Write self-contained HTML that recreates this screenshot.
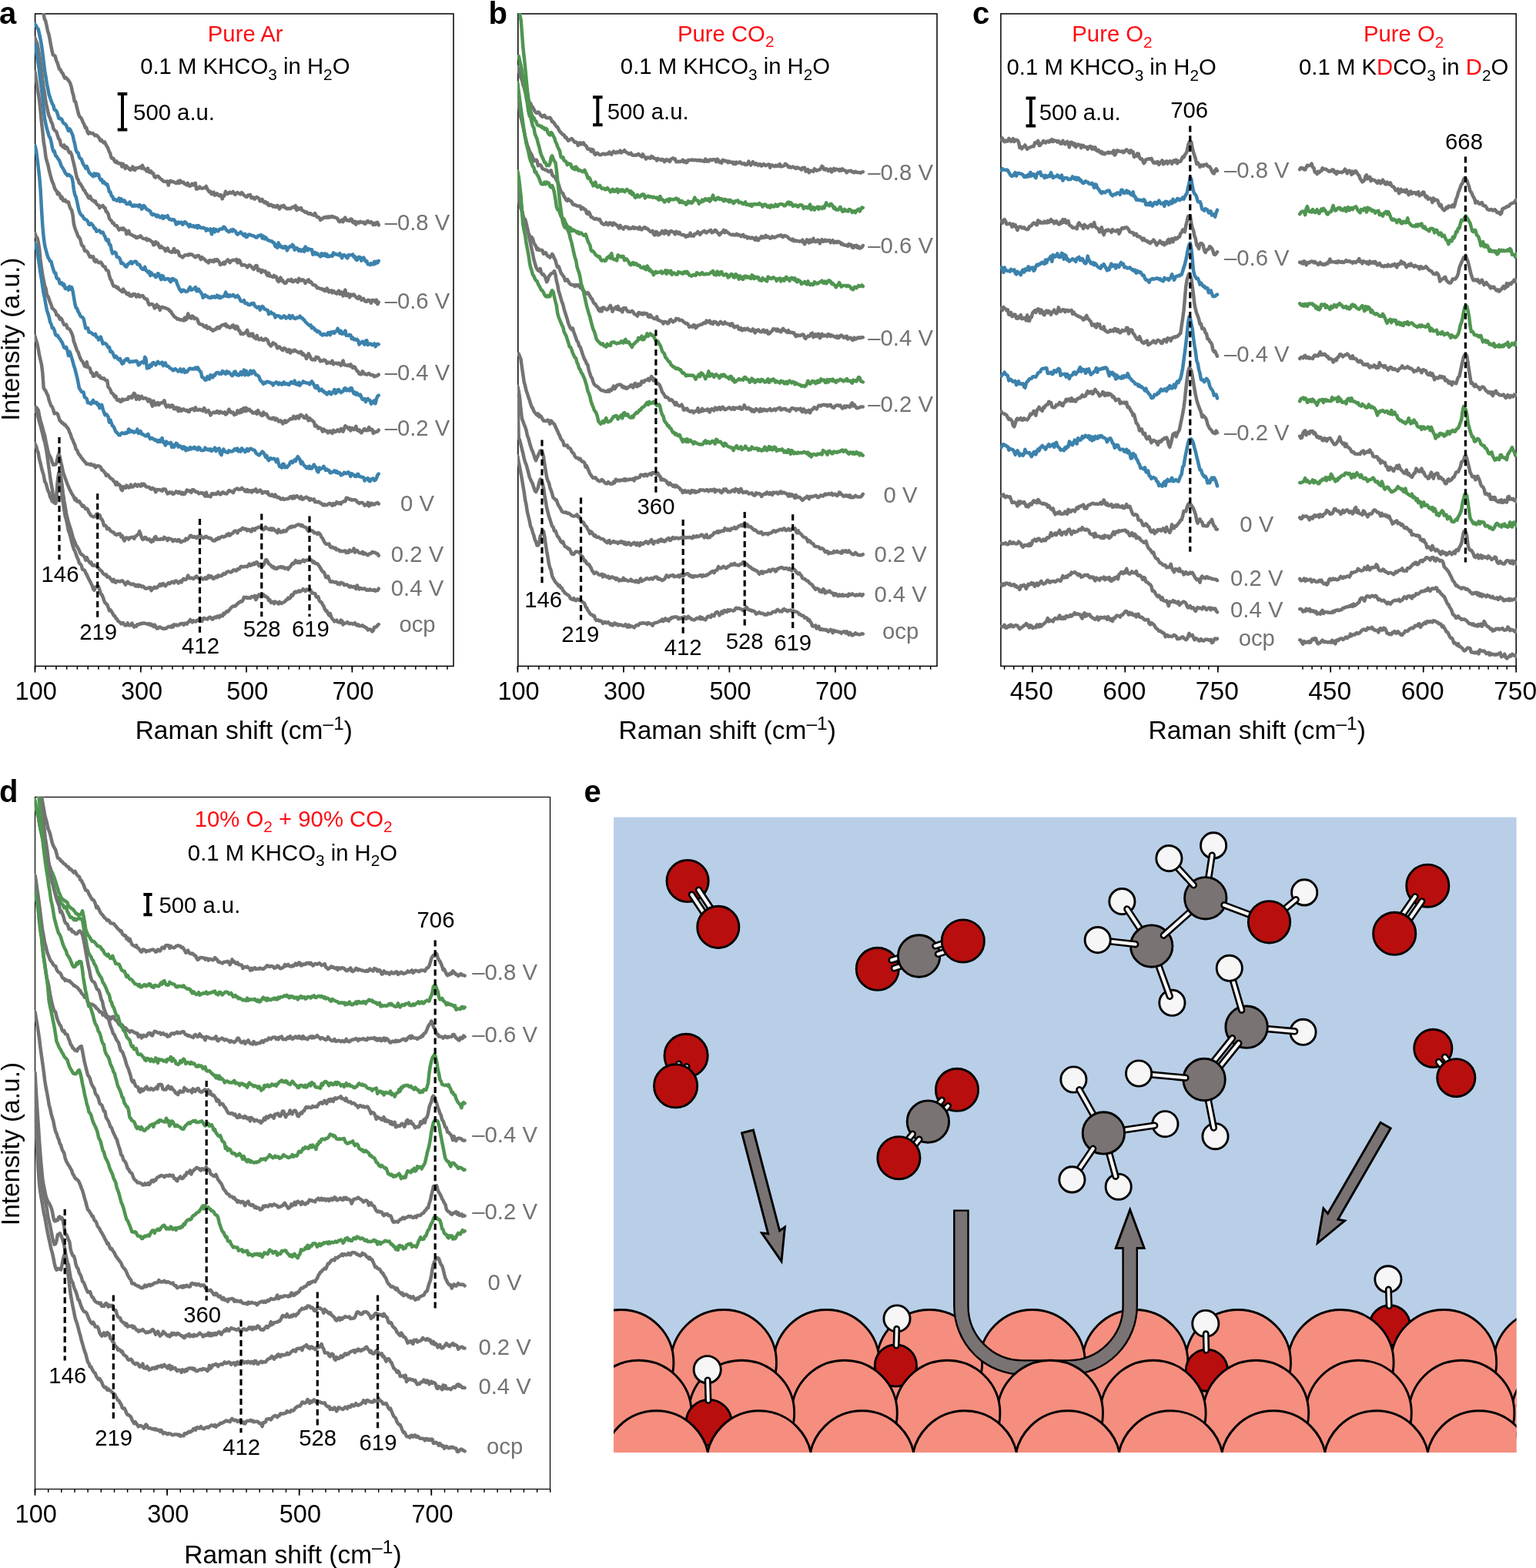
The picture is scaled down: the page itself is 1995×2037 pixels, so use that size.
<!DOCTYPE html>
<html lang="en">
<head>
<meta charset="utf-8">
<title>In situ Raman spectra</title>
<style>
html,body{margin:0;padding:0;background:#fff;}
body{width:1995px;height:2037px;overflow:hidden;}
svg{display:block;font-family:"Liberation Sans", "DejaVu Sans", sans-serif;}
</style>
</head>
<body>
<svg width="1995" height="2037" viewBox="0 0 1995 2037">
<rect width="1995" height="2037" fill="#fff"/>
<rect x="45.6" y="17.9" width="543.4" height="847.5" fill="none" stroke="#000" stroke-width="1.5"/>
<clipPath id="ca"><rect x="44.9" y="17.1" width="544.9" height="849"/></clipPath>
<g clip-path="url(#ca)" fill="none" stroke-width="4.5" stroke-linejoin="round" stroke-linecap="round">
<path d="M53.4 0.4l1.4 8.4l1.4 5.6l1.4 9.5l1.4 2.9l1.4 5.4l1.4 7.5l1.4 4l1.4 6.7l1.4 8l1.4 6.8l1.4 6.2l1.4 0.5l1.4 1l1.4 5.5l1.4 2.9l1.4 4.2l1.4 4.6l1.4 0.4l1.4 3.3l1.4 1.3l1.4 3.5l1.4 2.8l1.4-0.7l1.4 1.7l1.4 1.5l1.4 1.8l1.4 2.4l1.4 4.3l1.4 6.9l1.4 4.7l1.4 7.5l1.4 0.8l1.4 6.1l1.4 5.7l1.4 5.2l1.4 2.8l1.4 0.8l1.4 3l1.4 3.5l1.4 2.3l1.4 4.3l1.4-0.3l1.4 5.6l1.4 2.4l1.4-1.8l1.4 1.2l1.4 0.3l1.4-0.4l1.4 1.5l1.4 1.7l1.4-0.8l1.4 0.8l1.4 1.5l1.4 2l1.4 3.1l1.4-0.9l1.4 2.1l1.4 1.5l1.4-1l1.4 2.9l1.4 2.8l1.4 2.3l1.4 3.8l1.4 2.5l1.4 5.7l1.4 1.6l1.4-0.4l1.4 3.3l1.4 1.7l1.4-1.2l1.4 2.5l1.4-0.3l1.4 1l1.4-0.3l1.4 4l1.4-3.5l1.4 3l1.4 3l1.4-3.5l1.4 1.9l1.4 0.8l1.4 2l1.4 0.8l1.4-2.2l1.4-2.2l1.4 4l1.4 0.5l1.4-2.7l1.4 0.3l1.4-0.5l1.4-0.7l1.4-0.6l1.4 1.8l1.4-3.7l1.4 3.6l1.4 1.3l1.4 0l1.4 2.5l1.4-3.8l1.4 4.8l1.4 0.7l1.4-1.6l1.4 2.6l1.4-0.1l1.5 4.8l1.4 0.9l1.4-1.4l1.4-0.5l1.4 0.8l1.4 1.9l1.4 1.2l1.4 1.1l1.4 1.3l1.4 0.7l1.4 0l1.4 0.2l1.4-0.4l1.4 5.1l1.4-4.9l1.4-0.9l1.4 1.5l1.4-0.6l1.4 0.6l1.4 1l1.4 0.6l1.4 0l1.4-2.5l1.4 2.6l1.4-3.5l1.4 2.1l1.4 0.6l1.4-0.6l1.4 2.3l1.4 0.1l1.4 1.4l1.4-2.5l1.4 3.3l1.4 0.6l1.4-0.9l1.4-2.2l1.4 1.6l1.4-1.1l1.4-1.3l1.4 7.7l1.4-0.8l1.4 0.1l1.4-2.2l1.4 1.4l1.4 0.6l1.4-0.2l1.4-0.4l1.4-0.1l1.4-2.1l1.4 3.4l1.4 2.1l1.4 1.9l1.4-0.5l1.4 3.4l1.4-1.2l1.4-1.4l1.4 4.1l1.4-0.6l1.4-1.8l1.4 1.7l1.4 1.4l1.4-1.1l1.4 0l1.4 5.1l1.4-3.4l1.4-0.7l1.4-5.6l1.4 2.4l1.4 0.9l1.4-1.4l1.4-1l1.4 1.3l1.4-0.5l1.4-1.4l1.4 2.5l1.4 1.3l1.4-1.8l1.4-1l1.4 0.9l1.4 0.8l1.4 0.7l1.4-2.3l1.4 1.3l1.4 2.3l1.4 0.6l1.4 1.5l1.4 0l1.4-2.4l1.4 0.3l1.4-0.6l1.4 4.2l1.4-0.9l1.4 0.1l1.4 2.2l1.4-1.6l1.4-1.1l1.4 0.9l1.4 0.9l1.4 3.5l1.4 0l1.4-2.4l1.4 2.7l1.4 1.5l1.4-1l1.4 2.3l1.4-0.8l1.4 3.3l1.4 0l1.4-1.2l1.4 0.8l1.4 1.8l1.4-1l1.4 1.4l1.4 0.3l1.4-2.1l1.4 0.9l1.4 3.5l1.4-1.9l1.4-1.8l1.4 0.9l1.4-1.6l1.4 2.7l1.4 0.4l1.4 1.3l1.4-0.2l1.4-0.5l1.4 0.7l1.4-0.9l1.4-1.3l1.4-0.4l1.4 1.1l1.4-2.6l1.4 5.9l1.4-3l1.4 1.8l1.4-1l1.4-0.9l1.4 3.3l1.4 0.6l1.4 0.7l1.4 1.2l1.4-0.6l1.4 1.4l1.4 1.2l1.4-0.5l1.4-0.1l1.4 1.6l1.4 0.3l1.4 0.6l1.4-2.7l1.4 2.9l1.4 2.2l1.4-0.1l1.4 0.9l1.4 3l1.4-1.8l1.4 0.3l1.4-1.7l1.4-0.5l1.4 0.5l1.4-1.1l1.4 1.2l1.4-1.4l1.4 1l1.4-1.2l1.4-0.2l1.4 1.3l1.4-0.3l1.4 0.5l1.4 0.7l1.4 1l1.4 3l1.4 1l1.4-0.9l1.4-1.7l1.4 2.6l1.4-3.4l1.4-2.2l1.4 3.2l1.4 0.7l1.4-0.3l1.4 0.7l1.5-2.3l1.4 0.1l1.4 4l1.4 0.9l1.4-1.9l1.4 3.9l1.4-3.2l1.4 0.1l1.4 1.1l1.4-1.7l1.4 0.6l1.4 0.6l1.4-0.5l1.4 2.1l1.4-0.2l1.4-2.7l1.4-0.7l1.4 1.9l1.4 0.2l1.4-1.1l1.4 1.9l1.4 2.1l1.4-2.3l1.4 1.8l1.4-2.5l1.4 0l1.4 3.3" stroke="#737373"/>
<path d="M45.5 31.5l1.4 1.9l1.4 3.2l1.4 1.1l1.4 6.6l1.4 6.1l1.4 8l1.4 10.2l1.4 11.6l1.4 11.4l1.4 8.2l1.4 9.1l1.4 7l1.4 6.9l1.4 4.1l1.4 4.3l1.4 3.5l1.4 2.2l1.4 5.8l1.4 0.4l1.4 1.4l1.4 3.9l1.4 5.3l1.4 0.6l1.4-0.3l1.4 1.6l1.4 3.7l1.4 1.1l1.4 0.8l1.4 1.9l1.4 3.4l1.4 3.5l1.4-2.6l1.4 1.9l1.4 3.5l1.4 3l1.4 6.4l1.4 5.4l1.4 7.5l1.4 2.9l1.4 0.6l1.4 5.4l1.4 1.9l1.4 0.8l1.4 4.1l1.4 3.1l1.4 1.6l1.4 3.2l1.4-2.7l1.4 3.5l1.4 4.1l1.4 1.5l1.4 1.5l1.4 1.2l1.4 1.4l1.4-3.8l1.4 2.8l1.4-2.4l1.4 1.9l1.3-1.1l1.4 4.9l1.4 2.5l1.4-0.6l1.4 4.1l1.4-1.3l1.4 1.8l1.4 1.7l1.4-0.5l1.4 4.3l1.4 5.7l1.4 0.3l1.4 5l1.4 0.7l1.4 4l1.4-0.3l1.4 0.6l1.4 1.2l1.4-0.3l1.4-2.9l1.4 4.3l1.4-3.4l1.4 1.8l1.4 1.6l1.4-1.4l1.4 2.1l1.4 2.4l1.4-0.2l1.4 0.2l1.4-2.5l1.4 3.2l1.4 1.9l1.4 0.5l1.4-1.6l1.4 1.3l1.4-1l1.4 0.2l1.4 1.5l1.4-2.2l1.4 0.8l1.4 4.7l1.4-1.3l1.4-3.3l1.4 1.5l1.4 1.9l1.4 1.9l1.4 0.3l1.4 1l1.4 0.8l1.4 3.3l1.4 1.3l1.4-1.1l1.4 1.2l1.4 0.1l1.4 2.2l1.4-1.9l1.4 1.4l1.4 1.5l1.4 0.1l1.4-2.3l1.4 3.5l1.4-2.8l1.4 1.3l1.4-0.7l1.4-1.4l1.4 3.5l1.4 1.6l1.4-0.6l1.4 1.2l1.4-0.7l1.4 0.3l1.4 1.8l1.4 4.1l1.4-0.7l1.4-2.2l1.4 1.2l1.4-0.8l1.4-0.2l1.4 3l1.4-1.2l1.4-2.2l1.4 0.8l1.4 1.7l1.4 1l1.4 2.8l1.4-2.9l1.4 2.2l1.4 0.4l1.4-1.2l1.4 1.9l1.4 0.1l1.4-2l1.3 3.1l1.4-3l1.4 1.7l1.4 1l1.4 0.3l1.4-0.5l1.4 0.5l1.4 0.8l1.4 2.6l1.4-2.2l1.4 1.4l1.4 0.2l1.4-1.6l1.4 6.9l1.4-3.5l1.4-3.5l1.4 3.9l1.4-3.2l1.4 1.3l1.4 1l1.4-2.1l1.4-0.5l1.4-0.5l1.4 0.2l1.4-2.6l1.4 0.3l1.4 2.3l1.4 2.2l1.4 0.4l1.4 1.4l1.4-1.2l1.4-1.5l1.4 1.7l1.4-2.2l1.4 1.2l1.4 0.9l1.4 2.9l1.4 1.4l1.4-1.4l1.4-0.2l1.4-1.6l1.4 1.7l1.4 1.7l1.4 1.4l1.4-2.3l1.4 4.1l1.4-0.3l1.4-2.4l1.4-0.8l1.4 0.5l1.4 1l1.4 0.1l1.4 0.4l1.4 0.9l1.4 1.1l1.4-0.1l1.4-2.1l1.4 0l1.4-0.7l1.4-0.3l1.4 4.1l1.4-2.6l1.4 3.5l1.4-1.9l1.4 1.5l1.4 2.2l1.4 0l1.4 1.1l1.4 0l1.4 0.3l1.4 1.7l1.4 0.2l1.4 4.7l1.4-1.5l1.4 3.2l1.4-6.4l1.4 2.8l1.4 2.4l1.4-0.6l1.4 2.1l1.4 0l1.4-2.1l1.4 0.6l1.4 4.8l1.4-3.3l1.4-1l1.4-1.4l1.4 0.7l1.4-2.5l1.4 1.6l1.4 5.1l1.3-1.3l1.4-1.3l1.4 1.4l1.4 2.5l1.4-1.7l1.4 2.1l1.4-0.4l1.4-2.1l1.4 3l1.4-6.2l1.4 2.1l1.4 2.5l1.4-2l1.4 0.8l1.4 0.2l1.4 0.1l1.4 6.5l1.4-1.5l1.4-1.3l1.4 2.4l1.4-1.3l1.4 1.9l1.4 0.4l1.4 1.9l1.4-4.1l1.4 2.7l1.4-0.2l1.4-2.3l1.4 3.3l1.4-2.4l1.4 3.2l1.4-0.8l1.4 0.2l1.4-0.9l1.4 0.9l1.4-4.6l1.4 2.1l1.4-0.7l1.4 1.1l1.4 0l1.4 0.7l1.4-2.3l1.4 3.5l1.4 2.5l1.4-3.8l1.4-0.2l1.4 0.8l1.4 2l1.4 1.4l1.4-4.1l1.4 0.1l1.4 0.1l1.4-0.5l1.4-0.5l1.4 3.5l1.4-0.7l1.4 4l1.4 0.5l1.4-3.5l1.4-0.6l1.4 0.8l1.4 4.2l1.4-2.1l1.4-2l1.4 2.4l1.4 2.6l1.4-0.4l1.4 4l1.4 0l1.4 0.9l1.4-2l1.4 1.1l1.4 0.3l1.4-3.6l1.4 2.7l1.4-2.8l1.4 1.6l1.4-2.5" stroke="#3b82ad"/>
<path d="M45.5 49.4l1.4 3.9l1.4 3.4l1.4 7.5l1.4 7.4l1.4 9.3l1.4 11l1.4 12.1l1.4 10.1l1.4 8.2l1.4 10l1.4 6.6l1.4 6.4l1.4 5.4l1.4 2.6l1.4 5l1.4 2.3l1.4 6.1l1.4 2.4l1.4 1.1l1.4 1.4l1.4 4.9l1.4 4l1.4 1.2l1.4 6.9l1.4 0.7l1.4 1.9l1.4-2.8l1.4 4.5l1.4-2.1l1.4 1.3l1.4 4.2l1.4 2.2l1.4-0.7l1.4 3.3l1.4 6.2l1.4 5.5l1.4 6l1.4 6.9l1.4 5.9l1.4 1.8l1.4 4.7l1.4 0.4l1.4 2.7l1.4 2.1l1.4 3.3l1.4 0.6l1.4 3.6l1.4 1.4l1.4 3.2l1.4 2.1l1.4-2.7l1.4 3.4l1.4 2.1l1.4-0.1l1.4 2l1.4-0.8l1.4 3.4l1.4 1.5l1.3 0.2l1.4 3.7l1.4-1.9l1.4-0.8l1.4-0.5l1.4 2.7l1.4 0.2l1.4 5l1.4 0.5l1.4 2.9l1.4 5.5l1.4 2l1.4 0.8l1.4 3.1l1.4 0l1.4 2.8l1.4 0.8l1.4 0l1.4 2.9l1.4 2.5l1.4-1l1.4-1.1l1.4 1.6l1.4-1.9l1.4 2.2l1.4 0.4l1.4 5.2l1.4-2l1.4-2.2l1.4 4.4l1.4 0.3l1.4 0.7l1.4 0.9l1.4 1l1.4-0.3l1.4 2.2l1.4-0.3l1.4-1.4l1.4 0.4l1.4-1.3l1.4 1.9l1.4 1.3l1.4 0.4l1.4 0.3l1.4-0.7l1.4 2.5l1.4-1.4l1.4 0.7l1.4 0.8l1.4 1.5l1.4 0.6l1.4 3.9l1.4-0.5l1.4-3.6l1.4 2.2l1.4-0.6l1.4 3.8l1.4 2.2l1.4-2l1.4 2l1.4 0.3l1.4 0.9l1.4 3.1l1.4-2.5l1.4-1.3l1.4 3.6l1.4 0.8l1.4 0.6l1.4 0.5l1.4-2.2l1.4-2.6l1.4 4.8l1.4-0.7l1.4-1.2l1.4 0.9l1.4 5.2l1.4 0.6l1.4 0.7l1.4 1.2l1.4-1.5l1.4-1.6l1.4 0l1.4-0.3l1.4 0.6l1.4-1.6l1.4 0.9l1.4-0.7l1.4 0.7l1.4 1.1l1.4 1.4l1.4 0.7l1.4-1.7l1.3-0.3l1.4-0.1l1.4 2.6l1.4 2.3l1.4-2.9l1.4 2l1.4 0.2l1.4 1.6l1.4 1.5l1.4 0l1.4 2.1l1.4-3.3l1.4 0.1l1.4 1.3l1.4-1.2l1.4 1.6l1.4-2.6l1.4 1.4l1.4-1.7l1.4 1.4l1.4 1.8l1.4 3.6l1.4-1.1l1.4 0.2l1.4-2.1l1.4 2.3l1.4-3.1l1.4-1.1l1.4-1.5l1.4 2.1l1.4 1.5l1.4-2.4l1.4-0.2l1.4-0.7l1.4 0.2l1.4 0.3l1.4-1.3l1.4 4.4l1.4-3.7l1.4 1l1.4 3.4l1.4 2.5l1.4-0.4l1.4-0.1l1.4 0.4l1.4 0.8l1.4 2l1.4-1.7l1.4-1.3l1.4 0.9l1.4 1.3l1.4 2l1.4 1.4l1.4-2.4l1.4-2.5l1.4 0.3l1.4 6.2l1.4-1.6l1.4 0.7l1.4 3.4l1.4-2.9l1.4 0.9l1.4 0.8l1.4-0.4l1.4 3.9l1.4 1.6l1.4-3.2l1.4 4l1.4-0.1l1.4 0.8l1.4 0.6l1.4-2.2l1.4 2.1l1.4-0.4l1.4 4.7l1.4 1.7l1.4-2.8l1.4-2.5l1.4 4.2l1.4-0.6l1.4 2.8l1.4 0.9l1.4-0.2l1.4-2.4l1.4-1.7l1.4 0.3l1.4 0.8l1.4-1.7l1.4 3l1.4-0.2l1.4-1.3l1.3-0.8l1.4 1.3l1.4 1.6l1.4-4.9l1.4 2.5l1.4 0.5l1.4-1.5l1.4 0.2l1.4 1.6l1.4 2.9l1.4-2.2l1.4-1.4l1.4-1l1.4 3.4l1.4-0.7l1.4 1.7l1.4 2.4l1.4 0.1l1.4 0.3l1.4 1.1l1.4 2.6l1.4-0.3l1.4 0.6l1.4 0.7l1.4-0.1l1.4 1.3l1.4-0.6l1.4 2.1l1.4-0.2l1.4-3.1l1.4 1.8l1.4 3.1l1.4-1.2l1.4-0.9l1.4 3l1.4-2.4l1.4 1.1l1.4 1.7l1.4 0.8l1.4-2.4l1.4-1.5l1.4 4.3l1.4-2.4l1.4 0.1l1.4 4.7l1.4-3.9l1.4-4l1.4 7.5l1.4-0.8l1.4-1.2l1.4 4.3l1.4-3.6l1.4 1.4l1.4-1.4l1.4-0.2l1.4 1.9l1.4 1.6l1.4 1.4l1.4 0.5l1.4-2.7l1.4 0.8l1.4 3.8l1.4-0.9l1.4-1l1.4 2.8l1.4 1.1l1.4 0l1.4-2.1l1.4 0.1l1.4 1.9l1.4 1.9l1.4-3.8l1.4 0.4l1.4 0.1l1.4 2.1l1.4-2.7l1.4 5.4l1.4-2.5" stroke="#737373"/>
<path d="M45.5 57.3l1.4 7l1.4 10.9l1.4 7.4l1.4 9.9l1.4 12.5l1.4 10.3l1.4 12.7l1.4 14.2l1.4 12.5l1.4 6.6l1.4 6.3l1.4 4l1.4 5.4l1.4 1.9l1.4 5.4l1.4 7.2l1.4 5.2l1.4-0.5l1.4 5.8l1.4 1.2l1.4 2.3l1.4 2l1.4 2.4l1.4 4.4l1.4 2.7l1.4 2.1l1.4 2.3l1.4 3.3l1.4 1.3l1.4 2l1.4-1.3l1.4 0.9l1.4 1.3l1.4 1.1l1.4 5.5l1.4 11.1l1.4 6.6l1.4 2.7l1.4 6.1l1.4 6.6l1.4 6.1l1.4 2.7l1.4 2.1l1.4 0.9l1.4 2.6l1.4 1.7l1.4 0.5l1.4 0.9l1.4 1.8l1.4 3.9l1.4-0.1l1.4-1.5l1.4 1.5l1.4 1.5l1.4 3.6l1.4-0.3l1.4 4.1l1.4-0.6l1.3-0.4l1.4 0l1.4 2.6l1.4-0.1l1.4-0.4l1.4 3.4l1.4 2.3l1.4 4.2l1.4 1.4l1.4-1.7l1.4 6.5l1.4 0.4l1.4 6.5l1.4 4.6l1.4-1.4l1.4-0.3l1.4 0.6l1.4 5.6l1.4 0.4l1.4 0.5l1.4 2l1.4 5.4l1.4-0.7l1.4 1.3l1.4 1.6l1.4 2l1.4 0.2l1.4-3.1l1.4-0.6l1.4-1.7l1.4-1.2l1.4 2.6l1.4-1.8l1.4-0.6l1.4-0.5l1.4 0.3l1.4 3.5l1.4 0l1.4 0.4l1.4 3.1l1.4 1.9l1.4 1l1.4 0.3l1.4-3.2l1.4 4l1.4 1.5l1.4 1.7l1.4-1.4l1.4 5.3l1.4-3.6l1.4 2.5l1.4 0.5l1.4-0.1l1.4 2.8l1.4-0.8l1.4-4.1l1.4 0.9l1.4 3.7l1.4 3.4l1.4-5.1l1.4 0.9l1.4 4l1.4-0.1l1.4-0.4l1.4-0.5l1.4 0.4l1.4 2.3l1.4 1.5l1.4-4l1.4-0.3l1.4 2l1.4-0.4l1.4 1l1.4 4.5l1.4 3.2l1.4 3.2l1.4 2l1.4 1.6l1.4-2.2l1.4 0l1.4 1.2l1.4 0.9l1.4-0.1l1.4-1.1l1.4-2.9l1.4-1.8l1.4 3.7l1.4-0.4l1.4-0.6l1.4-1.5l1.4-1.1l1.4 5.1l1.3-0.2l1.4-2.3l1.4 2.6l1.4 2l1.4 1.6l1.4 4.8l1.4-1.7l1.4-1.8l1.4 1.7l1.4 0.1l1.4 1.6l1.4 0l1.4 0.5l1.4-1.7l1.4 0.8l1.4-1.2l1.4 1.5l1.4-0.7l1.4-2.2l1.4 2.8l1.4-1.8l1.4 2.6l1.4-1.4l1.4-0.1l1.4-0.9l1.4-0.8l1.4-4.4l1.4 5.4l1.4-1.9l1.4 2.3l1.4-2.1l1.4 1.1l1.4-0.1l1.4-1.3l1.4 1.5l1.4 1.6l1.4-0.7l1.4-1.5l1.4 1.6l1.4 2.7l1.4 2.8l1.4 0.6l1.4-0.2l1.4-1.3l1.4 3.9l1.4 0.1l1.4-0.2l1.4 2.1l1.4 0l1.4 0.1l1.4-2.1l1.4 1l1.4-1l1.4 3.3l1.4 1l1.4 1.5l1.4-0.8l1.4-0.4l1.4 4.1l1.4-3.7l1.4-1.1l1.4 1.3l1.4 2.6l1.4-0.1l1.4 1.1l1.4 0.2l1.4 5.1l1.4-1.6l1.4-1l1.4 2l1.4-0.2l1.4 0.9l1.4 4.2l1.4-2.3l1.4 0.4l1.4-0.2l1.4 0.4l1.4 2.3l1.4 0.1l1.4-1.2l1.4-1.6l1.4 0.8l1.4 2.4l1.4-1l1.4-0.4l1.4-2.3l1.4 3.9l1.4-2.9l1.4-0.5l1.4 2.6l1.4 0.9l1.3 0.2l1.4-1.5l1.4 0.2l1.4-0.1l1.4-2.1l1.4 2.5l1.4-0.1l1.4 2l1.4 0.7l1.4 2.5l1.4 1.1l1.4 1.5l1.4 1.3l1.4 1.1l1.4-0.7l1.4 3.7l1.4-1.1l1.4 1.4l1.4 2.6l1.4-0.3l1.4 2.5l1.4-0.9l1.4 0.5l1.4 2.8l1.4 1l1.4 0.9l1.4-1.8l1.4 0.7l1.4 0.7l1.4 0.1l1.4-3l1.4-0.2l1.4 3.1l1.4-3.8l1.4 1.2l1.4-1.5l1.4 1.7l1.4-2.3l1.4-0.1l1.4-3.4l1.4 2.7l1.4 3.3l1.4-3l1.4 3.9l1.4-1l1.4 0.6l1.4-3.8l1.4 6.3l1.4-0.6l1.4 0.5l1.4-1l1.4 0.5l1.4 4.7l1.4-1.3l1.4 2.4l1.4-0.5l1.4 1l1.4-0.8l1.4 1.9l1.4 4.8l1.4-2.1l1.4-0.6l1.4-1.1l1.4 2.7l1.4 1.2l1.4-5l1.4-0.3l1.4 5.8l1.4-1l1.4-0.7l1.4 0.6l1.4 1.4l1.4-0.8l1.4-1.3l1.4 3.9l1.4-2l1.4-1.4l1.4 0.5" stroke="#3b82ad"/>
<path d="M45.5 93.4l1.4 9.9l1.4 9.3l1.4 8.9l1.4 8.2l1.4 13.6l1.4 15.1l1.4 12.2l1.4 13.8l1.4 8.1l1.4 11.6l1.4 5.7l1.4 4.2l1.4 6.9l1.4 5.4l1.4 5.2l1.4 4.6l1.4 2.8l1.4 4.9l1.4 3l1.4 1.2l1.4 4.2l1.4-1.5l1.4 2.4l1.4 4.5l1.4-1.6l1.4 4.5l1.4 0.4l1.4-1.2l1.4 2.6l1.4-0.2l1.4 0.3l1.4 5.4l1.4 3.3l1.4 2l1.4 6.1l1.4 12l1.4 5l1.4 3.7l1.4 3.3l1.4 4.1l1.4 1l1.4 2.9l1.4 5.9l1.4 2.5l1.4 0.7l1.4 5.5l1.4-0.4l1.4 1.4l1.4 1.2l1.4 3.5l1.4 2.5l1.4-1.1l1.4 1.4l1.4-0.9l1.4 5.5l1.4 1.2l1.4-2.4l1.4 2l1.3 1.6l1.4 0l1.4-0.8l1.4 1.8l1.4 3l1.4 1.1l1.4 0l1.4 4.1l1.4 0.7l1.4 0.9l1.4 6.1l1.4 4.5l1.4 1.7l1.4 4.4l1.4 2.9l1.4 0.3l1.4 0l1.4 2.1l1.4-0.7l1.4 2.5l1.4 1.1l1.4 0.6l1.4 1.5l1.4-3.5l1.4 3.5l1.4-0.2l1.4 2.9l1.4 0.6l1.4-1.4l1.4 3.4l1.4-1.2l1.4 1.5l1.4-2.4l1.4-0.3l1.4 0.4l1.4 3.2l1.4-1.4l1.4-1.6l1.4 3l1.4-1l1.4-0.4l1.4-0.1l1.4 2.4l1.4 1.3l1.4 0.8l1.4 0l1.4 4.5l1.4 2.9l1.4-0.6l1.4-0.4l1.4 0.2l1.4 1.7l1.4 3.6l1.4-1.3l1.4-3.6l1.4 3.3l1.4-0.7l1.4 4.7l1.4-3.2l1.4-0.9l1.4 0.6l1.4 0.5l1.4 0.1l1.4 0.8l1.4 0.6l1.4 0.5l1.4 2l1.4 0.5l1.4 2.7l1.4 1.8l1.4 2l1.4 1.1l1.4 0.9l1.4 1.7l1.4-0.5l1.4 0.8l1.4 0.8l1.4-0.4l1.4 0.4l1.4 0.7l1.4-3.8l1.4 2.9l1.4-1.8l1.4-6.2l1.4 5l1.4-1.3l1.4 2.3l1.4-2.9l1.4 0.8l1.4 2.7l1.4-0.7l1.4 0.3l1.3 2.1l1.4 4.1l1.4 1l1.4 0.7l1.4-0.2l1.4 1l1.4 2l1.4 0.4l1.4-1.6l1.4 3.5l1.4-0.9l1.4-0.6l1.4 2.6l1.4 0l1.4 2l1.4-0.6l1.4-1.5l1.4 0l1.4-2.2l1.4-0.7l1.4 1.7l1.4-1.8l1.4-1.8l1.4-0.7l1.4-0.4l1.4 0.9l1.4-1.8l1.4 3.6l1.4-1.1l1.4 1.4l1.4 1l1.4-0.6l1.4-2.1l1.4-0.7l1.4 3.4l1.4 1.3l1.4-3.2l1.4 0.7l1.4 4.6l1.4 0.5l1.4 4l1.4-0.8l1.4 1.2l1.4-1l1.4-0.5l1.4-1.6l1.4-2.1l1.4 6.6l1.4 0.9l1.4-2.6l1.4 2.4l1.4-2.7l1.4 4.7l1.4-0.5l1.4 2.4l1.4-4.2l1.4 4.3l1.4 1l1.4-0.2l1.4-1.6l1.4 2l1.4 0.7l1.4-0.7l1.4-1.6l1.4 1l1.4 1.4l1.4 4.2l1.4 1.5l1.4 1.7l1.4-1.6l1.4-2.7l1.4 1.1l1.4 0.4l1.4 2l1.4 3.5l1.4-1.5l1.4-0.3l1.4 1.9l1.4 1.5l1.4 1.1l1.4-2.7l1.4 0.3l1.4 1.2l1.4 2.9l1.4-0.2l1.4-2.3l1.4 4.3l1.4-2.8l1.4-0.3l1.4 1l1.4-1.7l1.3 1.1l1.4 0.8l1.4 0.8l1.4 0.9l1.4-1l1.4-0.5l1.4 3.6l1.4-1l1.4 2.4l1.4 0l1.4 4.1l1.4-3.4l1.4-3.2l1.4 2.5l1.4 3.3l1.4 2.1l1.4 0.4l1.4-1.1l1.4 1.1l1.4-3.8l1.4 0.3l1.4 0.4l1.4 2.4l1.4 2.4l1.4-0.8l1.4 0.5l1.4-1.4l1.4 0.1l1.4 1.3l1.4 3l1.4-1.2l1.4 0l1.4 0.8l1.4 0l1.4-2.8l1.4 4.5l1.4-1.3l1.4-0.2l1.4 0l1.4 1l1.4-1.1l1.4 1.2l1.4 1.9l1.4-3l1.4-3.2l1.4 5.2l1.4 0.5l1.4 0.1l1.4 0.6l1.4-0.9l1.4 1.3l1.4-2.1l1.4 2.6l1.4 2.1l1.4-1.7l1.4 0.6l1.4 2.8l1.4 2.4l1.4 0.5l1.4 3.1l1.4 0.5l1.4 0l1.4-3.9l1.4 1.6l1.4 2.2l1.4-0.1l1.4 0.8l1.4-1.2l1.4-0.6l1.4 1.3l1.4 1l1.4-0.2l1.4 0.4l1.4 1.8l1.4-0.9l1.4 0l1.4-0.7l1.4-1.1" stroke="#737373"/>
<path d="M45.5 189.4l1.4 5.8l1.4 10.1l1.4 11.8l1.4 11.6l1.4 15.9l1.4 26.4l1.4 22.2l1.4 15.2l1.4 10.3l1.4 5.6l1.4 5.2l1.4 4.5l1.4 2.3l1.4 2.9l1.4 0.6l1.4 5.9l1.4 4.5l1.4 4.2l1.4 0.2l1.4 6.4l1.4 1.2l1.4 0.5l1.4 5.8l1.4 0l1.4-1l1.4 3.3l1.4-1.4l1.4 5.5l1.4-0.2l1.4-0.9l1.4 2.9l1.4-4.6l1.4 3.5l1.4-2.4l1.4 4.7l1.4 8.2l1.4 8.4l1.4 5.4l1.4 0.8l1.4 4.1l1.4 2.1l1.4 3.5l1.4 1.1l1.4 0.7l1.4 1.9l1.4 5.9l1.4 6.4l1.4-0.4l1.4 0.3l1.4 5.3l1.4-0.1l1.4 0.5l1.4 1.5l1.4 1l1.4 0.8l1.4-1.4l1.4 4.1l1.4 0.2l1.3 3.3l1.4-1.4l1.4-2.5l1.4 4.2l1.4 4.9l1.4-0.9l1.4 0.1l1.4 0.9l1.4 2.2l1.4 2.4l1.4-0.3l1.4 5.9l1.4-0.6l1.4 1.6l1.4 3.7l1.4 2.7l1.4-1.8l1.4 1.3l1.4 2.5l1.4 1l1.4-1.4l1.4 4.3l1.4 2.3l1.4-0.8l1.4-3.5l1.4-0.3l1.4-1.8l1.4-0.3l1.4 3.2l1.4 1.4l1.4-0.8l1.4-0.2l1.4 0.6l1.4-0.8l1.4 0.2l1.4-0.7l1.4 1.1l1.4 4.4l1.4-0.9l1.4-2l1.4-0.9l1.4-0.3l1.4 1.3l1.4-7.6l1.4 2.5l1.4 12.1l1.4-2.2l1.4 1.3l1.4-3.4l1.4 1.4l1.4-3.8l1.4-0.8l1.4 1.2l1.4 2l1.4-1.6l1.4-2.8l1.4 2l1.4 0.6l1.4-0.9l1.4-0.8l1.4 4.4l1.4-2.3l1.4-1.3l1.4 3.9l1.4 0.4l1.4 0.2l1.4 2l1.4 0.7l1.4 0.7l1.4 1.8l1.4-0.3l1.4-1.7l1.4 0.9l1.4 1.1l1.4 1.4l1.4-1.2l1.4-2l1.4 3.6l1.4-1.3l1.4-2l1.4 4.2l1.4-1.6l1.4 0.7l1.4-1.7l1.4-2.1l1.4-0.8l1.4 0.8l1.4 0.2l1.4-0.6l1.4 0.7l1.4-2l1.4 2l1.3-2.2l1.4 2.4l1.4 2.4l1.4 0.8l1.4 7l1.4 0.3l1.4 1.6l1.4 1.9l1.4-0.2l1.4-4.3l1.4 0.9l1.4 2.4l1.4-5.4l1.4 1.9l1.4 1.3l1.4-3l1.4 0.5l1.4-3l1.4-0.9l1.4 0l1.4 1.8l1.4-0.8l1.4 0.8l1.4-3.5l1.4 0.6l1.4 2.4l1.4 0.6l1.4-3.4l1.4 2.2l1.4-1.1l1.4 1.8l1.4 1l1.4 1.8l1.4-1.5l1.4-3.7l1.4-0.3l1.4 4.3l1.4-0.9l1.4 1.7l1.4-1.3l1.4-3l1.4 3.4l1.4-2.7l1.4-3.4l1.4 6.7l1.4-5.6l1.4 3.1l1.4 2.3l1.4-1.7l1.4-3.9l1.4 3.9l1.4-3.2l1.4-0.4l1.4 2.3l1.4 2.9l1.4 0.2l1.4 0.7l1.4 1.6l1.4 4.3l1.4 1.2l1.4 1.5l1.4 2.2l1.4-1.9l1.4 0.7l1.4-1.8l1.4 0l1.4 0.9l1.4-0.1l1.4 1.2l1.4 0l1.4 2.6l1.4-2.2l1.4-0.5l1.4-1.4l1.4 1.4l1.4 1.7l1.4-2.1l1.4 1l1.4 1.3l1.4-1.5l1.4-1.6l1.4 2.6l1.4-0.8l1.4 0l1.4 1.5l1.4 0l1.4-2.9l1.4-0.8l1.4 1.8l1.4 0.1l1.4-3.5l1.3 4.5l1.4-0.6l1.4 1.4l1.4-3l1.4 3.8l1.4-2.5l1.4-0.4l1.4-2.3l1.4 1.4l1.4 0.4l1.4-0.1l1.4 0.8l1.4-0.1l1.4 1.5l1.4-2.5l1.4-1.3l1.4 1.9l1.4 2.7l1.4 3.3l1.4 0.7l1.4-3.1l1.4 3.2l1.4 3.4l1.4-1.1l1.4-0.8l1.4 2.5l1.4-0.2l1.4 2.2l1.4-0.2l1.4 2.4l1.4-1.2l1.4-2.2l1.4 1.8l1.4 1.4l1.4-2.7l1.4 0l1.4-3.4l1.4 5l1.4-1.3l1.4-3.3l1.4-0.4l1.4 2.4l1.4 1.5l1.4-1.3l1.4-0.2l1.4-3.4l1.4-1l1.4 3.1l1.4-0.1l1.4-1.4l1.4 1.8l1.4-3.2l1.4 0l1.4 3.9l1.4 3.1l1.4-1.7l1.4 3.1l1.4-2.2l1.4 2.1l1.4 1.1l1.4-1l1.4 3.5l1.4 2.7l1.4-1l1.4 0.1l1.4 4l1.4-3.3l1.4-0.8l1.4 2.2l1.4-0.2l1.4 4.8l1.4-0.8l1.4-2.2l1.4-1.4l1.4 3.9l1.4-6.2l1.4-3.4l1.4-0.9" stroke="#3b82ad"/>
<path d="M45.5 303.3l1.4 4.4l1.4 1.1l1.4 5.7l1.4 8.4l1.4 15l1.4 9.9l1.4 9.7l1.4 6.8l1.4 6.8l1.4 3.5l1.4 8.5l1.4 1.8l1.4 3.7l1.4 4.2l1.4 3.1l1.4 4.6l1.4 1.1l1.4 1.4l1.4 1.7l1.4 4.6l1.4-0.1l1.4 1.9l1.4 3.6l1.4-1.3l1.4 2l1.4 3.6l1.4 2.9l1.4 0.1l1.4-0.5l1.4 4.9l1.4 0.5l1.4 0.6l1.4 2.5l1.4 2.9l1.4 3.6l1.4 7.2l1.4 3.5l1.4 4.3l1.4 4l1.4 2l1.4 4.3l1.4 3.6l1.4 2.6l1.4 1.5l1.4 2.7l1.4 3.4l1.4 0.7l1.4-6l1.4 7l1.4-0.1l1.4 1.6l1.4 5.3l1.4 0.1l1.4 4.6l1.4-0.1l1.4-2.6l1.4-2.1l1.4 3l1.3 2l1.4-0.9l1.4 3.1l1.4-0.3l1.4 1.2l1.4-0.7l1.4 1.8l1.4 1.2l1.4-0.1l1.4 8.7l1.4 1l1.4 2.5l1.4 4l1.4 0.6l1.4 1.8l1.4 2.7l1.4-1l1.4 4.9l1.4 0.6l1.4-0.9l1.4 2.4l1.4 0.2l1.4-3.2l1.4 1.4l1.4-0.9l1.4 0l1.4-0.7l1.4 0.4l1.4-3.3l1.4 1.1l1.4-1.5l1.4 1.8l1.4-3.9l1.4-2.2l1.4 1.9l1.4 6.1l1.4-1.7l1.4-2.7l1.4 4.3l1.4-3.2l1.4-0.6l1.4 2.7l1.4 0.1l1.4-0.5l1.4 0.1l1.4 1.4l1.4 2.7l1.4-2.6l1.4 0.8l1.4 4.4l1.4 3.7l1.4-6.9l1.4 2.5l1.4 2.9l1.4-2.2l1.4-0.9l1.4 2.9l1.4-2.2l1.4-0.5l1.4 0.1l1.4-1l1.4-2l1.4 5.5l1.4 2.8l1.4-1.8l1.4-0.4l1.4 2.2l1.4-0.1l1.4-2.2l1.4 0.7l1.4 4.1l1.4 0.1l1.4-1.9l1.4 0.3l1.4 4.5l1.4-3.8l1.4 3.1l1.4 0.2l1.4-2.2l1.4 0l1.4 1.3l1.4 0.7l1.4-0.7l1.4 2l1.4 0.1l1.4-2.8l1.4-0.1l1.4-1.1l1.4 0.7l1.4 1.6l1.4-3.8l1.4 3l1.3 0.3l1.4-0.1l1.4-0.9l1.4 1.2l1.4-0.3l1.4 1.4l1.4-4l1.4 2.8l1.4 2.7l1.4-1.5l1.4-0.8l1.4 2.6l1.4 3.7l1.4-2.5l1.4-0.6l1.4-0.9l1.4 0.6l1.4 0.2l1.4-2.3l1.4 1.1l1.4 1.7l1.4-2.2l1.4 0.9l1.4 1.1l1.4 0l1.4-1.3l1.4 3.2l1.4-1l1.4-2l1.4-3.8l1.4 2.2l1.4 2l1.4-0.1l1.4 0l1.4 3.2l1.4-1l1.4-0.1l1.4-4.5l1.4 1.1l1.4 1.8l1.4-4.1l1.4 3.3l1.4-4.5l1.4-0.8l1.4 4l1.4-4.4l1.4 3.6l1.4-1.5l1.4-0.2l1.4 2.3l1.4 0.2l1.4 2.3l1.4-0.1l1.4 0.2l1.4-1.5l1.4 2.6l1.4-4.6l1.4 3.3l1.4 0.7l1.4 2.4l1.4 0.5l1.4-4.5l1.4 3l1.4-0.9l1.4 0.4l1.4 3.1l1.4 1.9l1.4 0.6l1.4-0.2l1.4 1l1.4-1.7l1.4 0.5l1.4 2.4l1.4-1.9l1.4 0.9l1.4 2.8l1.4 0.1l1.4-1.2l1.4 1.6l1.4 2.6l1.4-2.9l1.4-1.1l1.4 2.3l1.4-1.7l1.4-0.4l1.4-1.3l1.4-1.4l1.4 0.3l1.4 0l1.4-3.4l1.4 1.9l1.3 1.1l1.4-3l1.4 0.1l1.4 2.5l1.4-4.1l1.4-0.6l1.4 1.1l1.4 1.5l1.4 1.6l1.4-0.3l1.4-3l1.4 4.2l1.4 2.5l1.4-3.2l1.4 2.3l1.4 0.2l1.4 1.5l1.4 1.1l1.4 5.3l1.4-1.1l1.4 1.7l1.4 2.3l1.4-1.1l1.4 0.8l1.4 1.2l1.4 3.3l1.4-3.1l1.4 1.3l1.4 1.3l1.4-0.4l1.4 2.5l1.4-1.7l1.4-0.8l1.4 1.9l1.4 1.2l1.4-4l1.4 2l1.4 0l1.4-1.1l1.4-1.4l1.4 1.9l1.4 0.1l1.4-3.3l1.4 0.1l1.4 3.4l1.4-3.6l1.4-3.8l1.4 1.3l1.4 0.9l1.4 1.8l1.4-1.7l1.4 4l1.4-3.4l1.4 0.3l1.4 1.7l1.4-0.9l1.4-3.4l1.4 5l1.4 0.8l1.4-1.3l1.4 2.9l1.4 1.1l1.4-2.1l1.4-2l1.4-1.1l1.4 2.1l1.4-0.6l1.4 0.6l1.4-4.2l1.4 3.4l1.4-1l1.4 0.7l1.4 4.9l1.4-2.2l1.4 0.8l1.4-0.8l1.4-0.2l1.4-1.9" stroke="#737373"/>
<path d="M45.5 316.4l1.4 4.6l1.4 5.2l1.4 8.9l1.4 9.4l1.4 9.8l1.4 8.3l1.4 9.6l1.4 9l1.4 6.4l1.4 8l1.4 7.6l1.4 4.1l1.4 4.4l1.4 6.8l1.4 2.5l1.4 5.1l1.4 0l1.4 3.3l1.4 5.4l1.4 1.2l1.4-0.2l1.4 2.9l1.4 1.3l1.4 2.7l1.4 1.7l1.4 3.6l1.4 3.5l1.4 0.8l1.4-1.3l1.4 4.2l1.4 6.9l1.4-5.4l1.4 3.3l1.4 5l1.4 4.7l1.4 5.3l1.4 4.1l1.4 5.5l1.4 5.7l1.4 6.4l1.4 7.6l1.4 1.9l1.4 2.6l1.4 0.5l1.4 0.1l1.4 6.7l1.4 0.6l1.4 1.4l1.4 5.2l1.4-0.4l1.4 1.2l1.4 0.7l1.4-2.9l1.4-1.9l1.4 3.4l1.4-0.3l1.4-0.3l1.4 3.1l1.3-1.1l1.4 5.3l1.4-2.9l1.4-1.2l1.4 5.4l1.4 4.2l1.4 3.6l1.4-1.1l1.4 1.1l1.4 2.6l1.4 6.8l1.4-3l1.4 4.3l1.4 3.5l1.4 0.8l1.4 3.4l1.4 3.3l1.4 1l1.4 1.8l1.4 1.5l1.4 0.1l1.4-2.3l1.4-0.7l1.4 0.5l1.4 0.6l1.4-1.4l1.4 0.9l1.4-1l1.4-4.4l1.4 3.8l1.4-2l1.4 1.4l1.4-0.4l1.4 1.6l1.4-1l1.4-0.2l1.4-3l1.4 5.3l1.4-1.6l1.4-1.2l1.4 3.7l1.4 0.1l1.4 0.9l1.4 1.1l1.4 0.6l1.4-1.6l1.4-1.1l1.4 4.3l1.4 1.9l1.4-1.2l1.4 0.4l1.4 1l1.4 1.4l1.4-0.5l1.4 1.6l1.4 1l1.4-1.8l1.4 2l1.4-2.3l1.4-2.5l1.4 5.6l1.4-0.4l1.4 4.1l1.4-4.9l1.4 2.7l1.4-0.6l1.4 0.5l1.4-1.4l1.4 6.1l1.4-3.1l1.4 3.2l1.4-2.6l1.4-2.6l1.4 0.9l1.4 3.9l1.4-1.3l1.4 0.2l1.4 2.4l1.4 1.2l1.4-2.8l1.4 0.9l1.4 4.1l1.4-3l1.4 2l1.4-0.5l1.4-2.6l1.4 2.1l1.4-1.4l1.4 0.6l1.4-1.7l1.4 2.3l1.4-0.7l1.3 2l1.4-3.4l1.4 1l1.4 2.8l1.4 0.4l1.4-0.1l1.4-0.3l1.4-3.1l1.4 1.9l1.4 0.7l1.4-0.7l1.4 1.3l1.4-1.5l1.4 2.6l1.4-1.4l1.4-1.2l1.4-1.7l1.4 4.5l1.4-2.6l1.4-0.2l1.4-0.9l1.4 6.4l1.4 2.2l1.4-4.6l1.4-2.9l1.4 2.3l1.4 1.2l1.4 0.4l1.4 0.4l1.4-2.5l1.4 0.6l1.4 0.6l1.4-0.1l1.4-0.6l1.4-2.3l1.4-0.5l1.4 1.8l1.4-2.2l1.4 3.7l1.4-1.6l1.4 1.7l1.4-4.2l1.4 2.5l1.4 0l1.4 2.4l1.4-1.3l1.4-2.8l1.4 2.7l1.4-1.8l1.4-1.3l1.4 0.4l1.4 1.2l1.4 0.3l1.4 0.5l1.4 3.1l1.4 1.6l1.4 0.6l1.4 1.1l1.4-1.5l1.4-1.5l1.4-1.8l1.4 1.1l1.4 2.3l1.4 3.6l1.4-1.9l1.4 4.4l1.4 1.9l1.4-2.6l1.4-0.2l1.4 1l1.4-0.3l1.4-0.3l1.4 1.7l1.4 2.7l1.4-3.7l1.4 5.2l1.4 4.4l1.4 0.4l1.4 1.1l1.4-4.8l1.4 0l1.4 4.6l1.4-1.2l1.4 1l1.4-2.2l1.4-1.1l1.4-3.5l1.4-0.9l1.4 1.8l1.4-2.2l1.4-1.5l1.3 1.5l1.4-3.5l1.4-2.3l1.4 1.9l1.4 2.2l1.4 5.1l1.4-2.5l1.4 3l1.4 2.1l1.4 1l1.4 2l1.4-1.7l1.4 2.2l1.4-2.8l1.4 3l1.4-0.1l1.4-2.4l1.4-2.6l1.4 2.6l1.4 1.1l1.4 4.9l1.4 1.1l1.4-5.7l1.4 2l1.4-0.9l1.4-0.8l1.4-2l1.4 2.7l1.4 2.4l1.4-1.4l1.4 1.3l1.4 0.2l1.4 3.2l1.4-0.3l1.4-0.9l1.4-0.3l1.4-1.4l1.4 2.2l1.4-1.5l1.4 2.5l1.4-0.7l1.4 0.4l1.4 3.1l1.4-0.9l1.4-0.2l1.4-2.4l1.4 0.5l1.4 0.9l1.4-1.5l1.4-0.4l1.4 2.4l1.4 3.1l1.4-3.9l1.4 1.4l1.4 0.7l1.4 1.7l1.4 0.3l1.4-2.7l1.4-0.6l1.4 3.2l1.4 0.1l1.4 0.6l1.4 0.3l1.4 0.3l1.4 4.1l1.4-1.6l1.4-1.1l1.4-0.5l1.4 3.5l1.4 0.6l1.4-2.8l1.4-0.6l1.4-0.3l1.4 2.6l1.4-0.5l1.4-2.4l1.4-4.3l1.4-1.4" stroke="#3b82ad"/>
<path d="M45.5 436.8l1.4 5.5l1.4 3.9l1.4 7.1l1.4 8l1.4 6.1l1.4 5.9l1.4 11l1.4 19.8l1.4 2.2l1.4 1.7l1.4 3.5l1.4 2.3l1.4 6.1l1.4 3.9l1.4 3.6l1.4 1.3l1.4 3.8l1.4 4.8l1.4-0.3l1.4-0.3l1.4 1.4l1.4 3.9l1.4 4.6l1.4 0.7l1.4 2.3l1.4-0.1l1.4 2.2l1.4 0.1l1.4 2.2l1.4 1.5l1.4 2.1l1.4 3.9l1.4 2.8l1.4 4.7l1.4 2.6l1.4 3.7l1.4 2.9l1.4 5.4l1.4 1.1l1.4 3.9l1.4 2l1.4 1.5l1.4 2.6l1.4 1.3l1.4 2.2l1.4 1.2l1.4 2l1.4 1.6l1.4-0.4l1.4 0.4l1.4 0.9l1.4-1.1l1.4 1.2l1.4 0.8l1.4-0.7l1.4 3.2l1.4-1.1l1.4-1.1l1.3 0.2l1.4 0.6l1.4 1.1l1.4 3.7l1.4 0.1l1.4 2l1.4 1.4l1.4 3.6l1.4-1.5l1.4 1l1.4 2.3l1.4 1.5l1.4 1.1l1.4 0.4l1.4 2.7l1.4 0.7l1.4 3.6l1.4-3l1.4 3.2l1.4-0.5l1.4 1.4l1.4 5.1l1.4 1.3l1.4-5l1.4 1l1.4 0.8l1.4-3.2l1.4 1.6l1.4 1.2l1.4-0.6l1.4-3.3l1.4 3l1.4-0.2l1.4-1.4l1.4-1.9l1.4 1.6l1.4 1l1.4-2.1l1.4 0.8l1.4 1.3l1.4-3l1.4 1.8l1.4-1.8l1.4 1.2l1.4 2.5l1.4 0.2l1.4 0.1l1.4 0.2l1.4 2l1.4 0.7l1.4-1.6l1.4 1.4l1.4-0.1l1.4 3.9l1.4-2.9l1.4-0.4l1.4 0.4l1.4-0.1l1.4 0.8l1.4 0.8l1.4-2.5l1.4 0.4l1.4-0.1l1.4 3.2l1.4 2.6l1.4-0.6l1.4-1.4l1.4 0.8l1.4-0.7l1.4 2.4l1.4-0.5l1.4-1.3l1.4-1.8l1.4 0.9l1.4 1.4l1.4-1.7l1.4 0.7l1.4 2.3l1.4-1.9l1.4 2.1l1.4-0.6l1.4-2.4l1.4-2.6l1.4 1.5l1.4-0.8l1.4 1.3l1.4 1.4l1.4-3.6l1.4-0.1l1.4 1.1l1.4 1.6l1.4 0.1l1.3 0.3l1.4 2l1.4-0.4l1.4-0.8l1.4 0.7l1.4-0.2l1.4 2.4l1.4 1.5l1.4-4.8l1.4 4.9l1.4-0.2l1.4 0.1l1.4 0.8l1.4-4.1l1.4 0l1.4 1l1.4-1l1.4 1l1.4-1.2l1.4-2l1.4 2.5l1.4 0.9l1.4-0.8l1.4-2.1l1.4 0.1l1.4 1.3l1.4 0.4l1.4 0.3l1.4-2.1l1.4-2.3l1.4 0.3l1.4 1.1l1.4 0.1l1.4 1.4l1.4-3.1l1.4-1.2l1.4-0.7l1.4-0.6l1.4 1.5l1.4-0.1l1.4-0.4l1.4-1.6l1.4 1.5l1.4 0.4l1.4 2.5l1.4 0.3l1.4-2.5l1.4 2.6l1.4-1.4l1.4 0.1l1.4 2.2l1.4-2.6l1.4 1.1l1.4-1.2l1.4-1.5l1.4 3.8l1.4-0.2l1.4-1.5l1.4-1l1.4 1.4l1.4 2.8l1.4-0.6l1.4-1.1l1.4 0l1.4 1.4l1.4-1.4l1.4 3.9l1.4 0.2l1.4 0.9l1.4-1.6l1.4 1.7l1.4 1l1.4-2.4l1.4 2.3l1.4 1.5l1.4-0.8l1.4 0.8l1.4 2l1.4-0.3l1.4-0.8l1.4 1.5l1.4-0.3l1.4-0.3l1.4-0.5l1.4 0.1l1.4-0.9l1.4-1.7l1.4-0.1l1.4 2.4l1.4-3.1l1.4 2.5l1.3-1.9l1.4-1.1l1.4 1.4l1.4 0.9l1.4 1.4l1.4-2.7l1.4 3.7l1.4-0.1l1.4-1.8l1.4-0.4l1.4-0.8l1.4 1.7l1.4-0.1l1.4 2.8l1.4-2.1l1.4 1.1l1.4 0.3l1.4-0.9l1.4 3.8l1.4-0.4l1.4 0.7l1.4-0.7l1.4 0.3l1.4 1.8l1.4 0.1l1.4 1.7l1.4 0.8l1.4-1.4l1.4 1.2l1.4-0.2l1.4-0.9l1.4-1.2l1.4-0.1l1.4 1.6l1.4 1.2l1.4-2.5l1.4 1.6l1.4-1l1.4-2.6l1.4 1.4l1.4 0.4l1.4-1.2l1.4 1.9l1.4-2.4l1.4-0.4l1.4-1l1.4 0.4l1.4-4.6l1.4 0.2l1.4 0.9l1.4 1l1.4-0.3l1.4 1.3l1.4-0.4l1.4-0.1l1.4-0.1l1.4 0.7l1.4 2.1l1.4 0.8l1.4 1.1l1.4-0.7l1.4-0.3l1.4 0.2l1.4 1.3l1.4 2.3l1.4-0.8l1.4-0.1l1.4-2.9l1.4 4.6l1.4-3.8l1.4 2.4l1.4-2.3l1.4 1.3l1.4 0.4l1.4-1.3l1.4-0.5l1.4-0.7l1.4 1.6" stroke="#737373"/>
<path d="M45.5 529.2l1.4-0.2l1.4 2l1.4 1.7l1.4 7.3l1.4 6.3l1.4 4.5l1.4 5.3l1.4 5l1.4 4.6l1.4 7.4l1.4 6.7l1.4 6.5l1.4 4.4l1.4 2.2l1.4 3.1l1.4 4.9l1.4 3.1l1.4-0.5l1.4 0l1.4-2l1.4-7.7l1.4-4.2l1.4 3.8l1.4 6.9l1.4 5.8l1.4 7l1.4 4.2l1.4 3.9l1.4 3.8l1.4 3.9l1.4 3.1l1.4 3.5l1.4 2.6l1.4 3l1.4 2.1l1.4 2.5l1.4 3.6l1.4-1.6l1.4 3.7l1.4 0.3l1.4-0.7l1.4 2.6l1.4 1.9l1.4 2.4l1.4-1.1l1.4 2.3l1.4 2l1.4-0.5l1.4 1.5l1.4 3.8l1.4 1.8l1.4 2.2l1.4 0.7l1.4 0.8l1.4-0.5l1.4 0.3l1.4-3.3l1.4-0.5l1.3 1.5l1.4 0l1.4 4.7l1.4 1l1.4 2.7l1.4 5.4l1.4-0.4l1.4 1.1l1.4 3.8l1.4-1l1.4 1l1.4 2.4l1.4 0.8l1.4 1l1.4 0l1.4 2.3l1.4 0.8l1.4 0.4l1.4-1.4l1.4 0.3l1.4-0.4l1.4 4l1.4-1.3l1.4 4l1.4 2.4l1.4-3.5l1.4-0.6l1.4 0.4l1.4 1.8l1.4-2.2l1.4 0l1.4-0.5l1.4-0.1l1.4 2l1.4-2.9l1.4-0.7l1.4-1.4l1.4-1l1.4-3.6l1.4 3.7l1.4 4.7l1.4 2.3l1.4-0.7l1.4-2.1l1.4 0.4l1.4 2.5l1.4-0.2l1.4-0.4l1.4 2.5l1.4 1.2l1.4-2.7l1.4 1.1l1.4-4.4l1.4-1l1.4 3.7l1.4-0.3l1.4 0.3l1.4 0l1.4-1l1.4 0.8l1.4 0l1.4-2.7l1.4 1.3l1.4 0.4l1.4 2.5l1.4-2.8l1.4 0.7l1.4 0.3l1.4 0.4l1.4 2.4l1.4-0.8l1.4-1.3l1.4 1.2l1.4 0.7l1.4-1.8l1.4 0.4l1.4 2.7l1.4 0l1.4-1.3l1.4-0.3l1.4-0.1l1.4-2.8l1.4 1.3l1.4-1.3l1.4-1.2l1.4-2.6l1.4-0.1l1.4 2l1.4-0.1l1.4-0.7l1.4 1.2l1.4 0.7l1.3-1.9l1.4-0.4l1.4-0.5l1.4-0.2l1.4 2.4l1.4 0.7l1.4-0.4l1.4-1.5l1.4-0.3l1.4 1.4l1.4 0.2l1.4 0.9l1.4-0.3l1.4 1.3l1.4 1.9l1.4 0.3l1.4-0.1l1.4-2l1.4 0.5l1.4-2.2l1.4 1.1l1.4-1.8l1.4-0.4l1.4-0.8l1.4 0.9l1.4-0.6l1.4-0.5l1.4-2.2l1.4 1l1.4-2.2l1.4 2.4l1.4-1.6l1.4-1l1.4-0.8l1.4-2.2l1.4-0.5l1.4 1l1.4 1.9l1.4-3.2l1.4-0.7l1.4 0.3l1.4-1.9l1.4-1l1.4 1.1l1.4 0.8l1.4-0.7l1.4 2.3l1.4-1.3l1.4-0.1l1.4 2.1l1.4 0.4l1.4-3.7l1.4 0.4l1.4 1.6l1.4-2.6l1.4-0.2l1.4-0.9l1.4-0.2l1.4-0.5l1.4 1.6l1.4 1.5l1.4 0.8l1.4-1.3l1.4-2.4l1.4 1.5l1.4 0.6l1.4 1l1.4 0.6l1.4-1.8l1.4 2.2l1.4-2.1l1.4 1.5l1.4 1.5l1.4 0.7l1.4 1.9l1.4-4.3l1.4 2.3l1.4 1.3l1.4-1.3l1.4 0.9l1.4-2.1l1.4 1.3l1.4 0l1.4-2.5l1.4-1.3l1.4-0.9l1.4-1.4l1.4 1l1.4-1.6l1.4 0.3l1.4 0.4l1.3-1.4l1.4-0.7l1.4-0.6l1.4 0l1.4 0.2l1.4 1.5l1.4-1.1l1.4 1.6l1.4 0.8l1.4 0.3l1.4 1.1l1.4 2.6l1.4 1.6l1.4-2l1.4 0.8l1.4 0.8l1.4-0.1l1.4 2.6l1.4-0.4l1.4 0.7l1.4 1.2l1.4-1.7l1.4 0.8l1.4 2l1.4 3.1l1.4 1.4l1.4 2.8l1.4 2.8l1.4 1.6l1.4 0.4l1.4-0.5l1.4-0.1l1.4 3.8l1.4 1.2l1.4-0.8l1.4 0.9l1.4 1.1l1.4-0.8l1.4 2.5l1.4-0.6l1.4 0.6l1.4 1.9l1.4-0.6l1.4 0.7l1.4-0.1l1.4-0.6l1.4-0.2l1.4 2.7l1.4-1.6l1.4 1.3l1.4-3.2l1.4 1.6l1.4-0.2l1.4-0.8l1.4-2.7l1.4 5.2l1.4-2.3l1.4-0.4l1.4 1.9l1.4 1.3l1.4 0.2l1.4 0.1l1.4-1.6l1.4 3.1l1.4-1.6l1.4 0.9l1.4 1.1l1.4 0.9l1.4-1.7l1.4-0.3l1.4-0.3l1.4-1.9l1.4 0.5l1.4 0.1l1.4 0.3l1.4 1.2l1.4 0.2l1.4 2.5" stroke="#737373"/>
<path d="M45.5 576.6l1.4 3.1l1.4 5l1.4 3.7l1.4 8l1.4 5.2l1.4 6.2l1.4 5.1l1.4 4.4l1.4 8l1.4 2.4l1.4 4.7l1.4 5.2l1.4 2.3l1.4 5.5l1.4 2.5l1.4 3.4l1.4 0.8l1.4 0.7l1.4 0.9l1.4-11.1l1.4-18.1l1.4-10.4l1.4-0.3l1.4 6.4l1.4 9.3l1.4 11.6l1.4 9.5l1.4 8l1.4 8.3l1.4 6.3l1.4 5.2l1.4 4.7l1.4 4l1.4 4.8l1.4 5.4l1.4 3.7l1.4 3.4l1.4 3.8l1.4 1.8l1.4 2.4l1.4 2.6l1.4 3.6l1.4 1.5l1.4 0.9l1.4 1l1.4 2l1.4 3.7l1.4-3.7l1.4 3.6l1.4 1.9l1.4 1.9l1.4-1.1l1.4 3.9l1.4 0.6l1.4-0.7l1.4 0.9l1.4 0.1l1.4 1.6l1.3 1.2l1.4 2.1l1.4 0.9l1.4 1.2l1.4 2.4l1.4 1.6l1.4 0.8l1.4-0.6l1.4 3.3l1.4-0.5l1.4 0.7l1.4 1.9l1.4 1.7l1.4 1.9l1.4-2.5l1.4 3.2l1.4 0.9l1.4-2.2l1.4 0.2l1.4 0.4l1.4 0.3l1.4-0.8l1.4-0.6l1.4 1.6l1.4 1.5l1.4 2.3l1.4-2.3l1.4-1.7l1.4 2.1l1.4 0.1l1.4 1.4l1.4 0l1.4-0.8l1.4 0.7l1.4 2.2l1.4 0.2l1.4-1.7l1.4 2.1l1.4-1.8l1.4 0.6l1.4 1.7l1.4-0.8l1.4 0.6l1.4 2l1.4 0.2l1.4 0l1.4-0.4l1.4-0.7l1.4 0l1.4 3.9l1.4-3.2l1.4 0.5l1.4-2l1.4 1.2l1.4 0l1.4-1.4l1.4-1.6l1.4-1.7l1.4 1.9l1.4-2.3l1.4-0.5l1.4 2.5l1.4 0.7l1.4-1.7l1.4-1.1l1.4-1.4l1.4 1.1l1.4-0.8l1.4-1.7l1.4 0.3l1.4 1.3l1.4-2.4l1.4-0.4l1.4 1l1.4 2.1l1.4-1.8l1.4-0.9l1.4 1.5l1.4-3.5l1.4-1.1l1.4 1.3l1.4-0.1l1.4-1.4l1.4-4l1.4 2.7l1.4 1l1.4-0.6l1.4 0.5l1.4 0.8l1.4-1.1l1.4-1.7l1.4-0.7l1.3 2.1l1.4 0.4l1.4 0l1.4-0.6l1.4 1.3l1.4 0.9l1.4-0.7l1.4-1.5l1.4 1.7l1.4-0.6l1.4-3.8l1.4 2.5l1.4-1.9l1.4 0.5l1.4 2.7l1.4 0.4l1.4-1.8l1.4-1l1.4 1.1l1.4-2.8l1.4 1.2l1.4-0.8l1.4 0.4l1.4-1.1l1.4-1.9l1.4 0.8l1.4-0.9l1.4-1.9l1.4-0.6l1.4-0.2l1.4 0.7l1.4 0.5l1.4-1.1l1.4-1.8l1.4-0.4l1.4 1l1.4 0.2l1.4-2.2l1.4 0.2l1.4-0.8l1.4-2.8l1.4 0l1.4 0.5l1.4-0.1l1.4-0.3l1.4-0.2l1.4 0.5l1.4-1.8l1.4-1.8l1.4 1.9l1.4-1.6l1.4 0.7l1.4-2.1l1.4 1.4l1.4-2.4l1.4-0.4l1.4 2.4l1.4 2.6l1.4-2.3l1.4 2.5l1.4 0.3l1.4-1.6l1.4-2.5l1.4-4.1l1.4-0.2l1.4 2.3l1.4 2.8l1.4 1.1l1.4 1l1.4 2.1l1.4-0.6l1.4 2.4l1.4-0.9l1.4 1.6l1.4-0.7l1.4-1.6l1.4 0.3l1.4-1l1.4 1.4l1.4-1.1l1.4 0.6l1.4 1.7l1.4-0.7l1.4-0.3l1.4 1.9l1.4-2.4l1.4-1.2l1.4-2.2l1.4-1.9l1.4 0.5l1.4-1.7l1.3-2.7l1.4 2.6l1.4 0.4l1.4-2l1.4 2.1l1.4-1.2l1.4-1.3l1.4-1.1l1.4 1.9l1.4-1.5l1.4-0.2l1.4-0.2l1.4-0.3l1.4-1.3l1.4 1.3l1.4 0.9l1.4 2.5l1.4-0.9l1.4 2.3l1.4-0.1l1.4 0.3l1.4 1.6l1.4 1.9l1.4 2.2l1.4 2.7l1.4 2l1.4 0.3l1.4 2.7l1.4 4.4l1.4 0.2l1.4-1.5l1.4 3.5l1.4 3.2l1.4 0.7l1.4-0.8l1.4 0.6l1.4 0.6l1.4-0.2l1.4-0.1l1.4 2.4l1.4-1l1.4 1.5l1.4-2.3l1.4 0.8l1.4 0.1l1.4 2.4l1.4-0.4l1.4-0.1l1.4 0.2l1.4 1.4l1.4 1.4l1.4-1.3l1.4 1.1l1.4 0.2l1.4-0.7l1.4 1.3l1.4 1.7l1.4-4.4l1.4 2.9l1.4 2.1l1.4-1.5l1.4 0.4l1.4 0.8l1.4-0.5l1.4-0.3l1.4 1.4l1.4 1l1.4-0.8l1.4 0.8l1.4-1.3l1.4 0.8l1.4 0.5l1.4-0.1l1.4-0.7l1.4 1.7l1.4-0.6l1.4-0.1l1.4-2.4" stroke="#737373"/>
<path d="M45.5 529.5l1.4 4.9l1.4 3.4l1.4 4.6l1.4 5.6l1.4 4.5l1.4 5.8l1.4 5.2l1.4 6.2l1.4 4.4l1.4 6.8l1.4 8.2l1.4 10.3l1.4 9.9l1.4 10.4l1.4 8.6l1.4 7.9l1.4 9.9l1.4 7.1l1.4 0.7l1.4-6.4l1.4-20.2l1.4-10.1l1.4-3.4l1.4 12l1.4 16l1.4 11.2l1.4 9l1.4 8.7l1.4 4.3l1.4 6.9l1.4 7.6l1.4 3.4l1.4 4.9l1.4 6l1.4 5.1l1.4 4.6l1.4 2.5l1.4 3.8l1.4 4.2l1.4 2.7l1.4 4.8l1.4 1.1l1.4 1.9l1.4 5.1l1.4 0.6l1.4 0.6l1.4 3.3l1.4 2.4l1.4 3.2l1.4 2.8l1.4 2.6l1.4 2.9l1.4 2.7l1.4 4.5l1.4 1.5l1.4-3.8l1.4-1.1l1.4-0.4l1.3 0.7l1.4 4.3l1.4 4.9l1.4 1l1.4 3.2l1.4 4.3l1.4 3.3l1.4 1.1l1.4 1.4l1.4 3.5l1.4 4.1l1.4-0.8l1.4 2l1.4 2.1l1.4 3.2l1.4 0.4l1.4 2.9l1.4 1l1.4 2.7l1.4 1l1.4 0.9l1.4 1.8l1.4-1.1l1.4 0l1.4 2.4l1.4 0.8l1.4-0.2l1.4-2.9l1.4 2.8l1.4 0.3l1.4-0.5l1.4-2.3l1.4 3.1l1.4 1.7l1.4-1.5l1.4 0.6l1.4-2.4l1.4 0.3l1.4-0.6l1.4-1l1.4 0.5l1.4-0.9l1.4 0.2l1.4 0l1.4 0.4l1.4 0.4l1.4 0.6l1.4-1l1.4 2.1l1.4-1.3l1.4 2l1.4 1.1l1.4-2.4l1.4 2.1l1.4 2.7l1.4-0.1l1.4-1.4l1.4-0.4l1.4 1.1l1.4 0.5l1.4 0.8l1.4-0.6l1.4 0.4l1.4-0.5l1.4-1.5l1.4-0.8l1.4 0.1l1.4 0.8l1.4-1.9l1.4 1.6l1.4-3.2l1.4 1l1.4-0.7l1.4 1.1l1.4-0.4l1.4-0.8l1.4-1.3l1.4 0l1.4-0.3l1.4 2l1.4-2.2l1.4 0.4l1.4 0.6l1.4-2.5l1.4-0.5l1.4-2.6l1.4 1.3l1.4 2l1.4-2.2l1.4 0.8l1.4 0.6l1.4-0.9l1.3-1.3l1.4 0.3l1.4-1.4l1.4-0.5l1.4 3.2l1.4-3l1.4-1.2l1.4 0.9l1.4 0.2l1.4 0.7l1.4-1.8l1.4-1l1.4 0.1l1.4 2.1l1.4 0.7l1.4-2.3l1.4-0.8l1.4 0.9l1.4-1.8l1.4-0.1l1.4 1.6l1.4-2.7l1.4 0.6l1.4 0.3l1.4-3.6l1.4 1l1.4-2l1.4-1.8l1.4 0.7l1.4-1.6l1.4-1.8l1.4-1.7l1.4-1.3l1.4-0.7l1.4-0.4l1.4 0.2l1.4-1.9l1.4-0.9l1.4-1.9l1.4-0.2l1.4-1.5l1.4 0.5l1.4-1.8l1.4-3.8l1.4 0.5l1.4-0.6l1.4 1.2l1.4-0.8l1.4 0.8l1.4 0l1.4-1.9l1.4-0.1l1.4 0.6l1.4-1.6l1.4 5.1l1.4-2.3l1.4-3.2l1.4-1.2l1.4 2.4l1.4-0.3l1.4-1.7l1.4-0.4l1.4 2.3l1.4-0.1l1.4 1.1l1.4 0.6l1.4 3.7l1.4-0.6l1.4 3.5l1.4-0.6l1.4-0.6l1.4 2.6l1.4-2.8l1.4 1.3l1.4 0.2l1.4 1.6l1.4-2.7l1.4 1.7l1.4 0.3l1.4-1.2l1.4-0.4l1.4-0.7l1.4-2.1l1.4-0.2l1.4-2.6l1.4 1l1.4-1l1.4-4l1.4 1.2l1.4-2.2l1.4-2.6l1.3-0.6l1.4 1l1.4-0.7l1.4-1.5l1.4 1.4l1.4-0.9l1.4-1l1.4-1.6l1.4 1.5l1.4 1.3l1.4-2.3l1.4 0.5l1.4 0.3l1.4 0.9l1.4-0.7l1.4 3.7l1.4 0l1.4 0.4l1.4 0.3l1.4 4.1l1.4 0.8l1.4-0.6l1.4 5l1.4 1.4l1.4 0.7l1.4 2.8l1.4 2.1l1.4 3.7l1.4 2.6l1.4-0.1l1.4 3.3l1.4 2.4l1.4-2.3l1.4 4.8l1.4 2.2l1.4 1.3l1.4 2.1l1.4-0.9l1.4-0.8l1.4 2.4l1.4 0l1.4 0.8l1.4-3.2l1.4 1l1.4 4.8l1.4-2.1l1.4 0.3l1.4-0.4l1.4-1.1l1.4 1.6l1.4 0.6l1.4-0.6l1.4 0.1l1.4 1l1.4-1.1l1.4-0.6l1.4 2.5l1.4 0.8l1.4-1.2l1.4 2l1.4 0l1.4-0.3l1.4-0.6l1.4 1.7l1.4-0.1l1.4 1.5l1.4 0.3l1.4 2.6l1.4-0.5l1.4-0.4l1.4 1l1.4 2l1.4-1.4l1.4-4.4l1.4 0l1.4-0.4l1.4-2l1.4-1.2" stroke="#737373"/>
</g>
<path d="M45.5 865.4v4.3M59.2 865.4v4.3M73 865.4v4.3M86.7 865.4v4.3M100.4 865.4v4.3M114.2 865.4v4.3M127.9 865.4v4.3M141.6 865.4v4.3M155.3 865.4v4.3M169.1 865.4v4.3M182.8 865.4v4.3M196.5 865.4v4.3M210.3 865.4v4.3M224 865.4v4.3M237.7 865.4v4.3M251.4 865.4v4.3M265.2 865.4v4.3M278.9 865.4v4.3M292.6 865.4v4.3M306.4 865.4v4.3M320.1 865.4v4.3M333.8 865.4v4.3M347.6 865.4v4.3M361.3 865.4v4.3M375 865.4v4.3M388.8 865.4v4.3M402.5 865.4v4.3M416.2 865.4v4.3M429.9 865.4v4.3M443.7 865.4v4.3M457.4 865.4v4.3M471.1 865.4v4.3M484.9 865.4v4.3M498.6 865.4v4.3M512.3 865.4v4.3M526 865.4v4.3M539.8 865.4v4.3M553.5 865.4v4.3M567.2 865.4v4.3M581 865.4v4.3" stroke="#000" stroke-width="1.5" fill="none"/>
<path d="M45.5 865.4v8.2M182.8 865.4v8.2M320.1 865.4v8.2M457.4 865.4v8.2" stroke="#000" stroke-width="1.7" fill="none"/>
<text x="46.7" y="908.9" font-size="32.5" text-anchor="middle">100</text>
<text x="184" y="908.9" font-size="32.5" text-anchor="middle">300</text>
<text x="321.3" y="908.9" font-size="32.5" text-anchor="middle">500</text>
<text x="458.6" y="908.9" font-size="32.5" text-anchor="middle">700</text>
<text x="316.8" y="960.4" font-size="33.5" text-anchor="middle">Raman shift (cm<tspan font-size="24.5" dy="-12.8">–1</tspan><tspan dy="12.8">)</tspan></text>
<text transform="translate(24.6 440.6) rotate(-90)" font-size="33.5" text-anchor="middle">Intensity (a.u.)</text>
<text x="-1" y="31" font-size="40" font-weight="bold">a</text>
<text x="318.7" y="53.8" font-size="29.3" text-anchor="middle" fill="#fb0d14">Pure Ar</text>
<text x="318.3" y="96.2" font-size="29.3" text-anchor="middle">0.1 M KHCO<tspan font-size="20.8" dy="7.6">3</tspan><tspan dy="-7.6"> in H</tspan><tspan font-size="20.8" dy="7.6">2</tspan><tspan dy="-7.6">O</tspan></text>
<path d="M152.7 121.9H165.3M159 121.9V168.6M152.7 168.6H165.3" stroke="#000" stroke-width="4" stroke-linejoin="round" fill="none"/>
<text x="173.1" y="156.3" font-size="29.3">500 a.u.</text>
<text x="542" y="298.5" font-size="29.3" text-anchor="middle" fill="#737373">–0.8 V</text>
<text x="542" y="401" font-size="29.3" text-anchor="middle" fill="#737373">–0.6 V</text>
<text x="542" y="494" font-size="29.3" text-anchor="middle" fill="#737373">–0.4 V</text>
<text x="542" y="565.7" font-size="29.3" text-anchor="middle" fill="#737373">–0.2 V</text>
<text x="542" y="664.2" font-size="29.3" text-anchor="middle" fill="#737373">0 V</text>
<text x="542" y="730.4" font-size="29.3" text-anchor="middle" fill="#737373">0.2 V</text>
<text x="542" y="774.1" font-size="29.3" text-anchor="middle" fill="#737373">0.4 V</text>
<text x="542" y="821.2" font-size="29.3" text-anchor="middle" fill="#737373">ocp</text>
<path d="M77 568V727" stroke="#000" stroke-width="3.2" stroke-dasharray="8 4.7" fill="none"/>
<text x="78" y="755.6" font-size="29.3" text-anchor="middle">146</text>
<path d="M126.7 641.3V802.7" stroke="#000" stroke-width="3.2" stroke-dasharray="8 4.7" fill="none"/>
<text x="127.7" y="830.6" font-size="29.3" text-anchor="middle">219</text>
<path d="M259.5 674V824.5" stroke="#000" stroke-width="3.2" stroke-dasharray="8 4.7" fill="none"/>
<text x="260.5" y="848.7" font-size="29.3" text-anchor="middle">412</text>
<path d="M339.8 667.6V801" stroke="#000" stroke-width="3.2" stroke-dasharray="8 4.7" fill="none"/>
<text x="340.2" y="826.9" font-size="29.3" text-anchor="middle">528</text>
<path d="M402 670.6V801" stroke="#000" stroke-width="3.2" stroke-dasharray="8 4.7" fill="none"/>
<text x="403.4" y="826.9" font-size="29.3" text-anchor="middle">619</text>
<rect x="672.8" y="17.9" width="544.2" height="847.5" fill="none" stroke="#000" stroke-width="1.5"/>
<clipPath id="cb"><rect x="672" y="17.1" width="545.7" height="849"/></clipPath>
<g clip-path="url(#cb)" fill="none" stroke-width="4.5" stroke-linejoin="round" stroke-linecap="round">
<path d="M672.3 86.8l1.4 4.5l1.4 5l1.4 4.7l1.4 2.8l1.4 6.3l1.4 3.6l1.4 5.5l1.4 3.9l1.4 5.1l1.4 2.2l1.4 2.4l1.4 1.5l1.4 3.6l1.4 1.3l1.4 2.7l1.4 2.7l1.4 1.7l1.4 0.5l1.4-1.2l1.4 0.7l1.4 2.8l1.4 1.6l1.4 1l1.4-1.6l1.4-0.3l1.4 2.7l1.4 0.7l1.4-0.4l1.4 0.5l1.4-0.6l1.4 2l1.4 3.5l1.4 0.1l1.4 1.9l1.5 2.3l1.4 1.9l1.4 0.7l1.4 3.1l1.4 2.4l1.4 1.5l1.4 1.6l1.4 1.4l1.4 0.1l1.4 3.6l1.4-0.4l1.4 2.6l1.4 1.7l1.4-0.8l1.4-0.9l1.4-0.9l1.4 1.1l1.4 2.2l1.4 1.5l1.4-0.4l1.4 0.5l1.4 4l1.4-1.6l1.4-2l1.4 2l1.4-0.7l1.4-1.4l1.4 3.1l1.4 0.4l1.4 1.9l1.4 3.1l1.4-0.1l1.4-0.3l1.4 3.3l1.4-2.7l1.4 0.8l1.4 4.4l1.4 1.7l1.4-1.7l1.4-0.5l1.4 1.6l1.4 0.7l1.4 0.2l1.4-0.6l1.4-0.9l1.4 0.1l1.4 0.8l1.4-0.3l1.4-0.8l1.4 0.2l1.4-2.2l1.4 2.1l1.4 1.1l1.4-2.4l1.4-1.6l1.4 1.3l1.4 0.7l1.4-1.3l1.4 0.9l1.5-1.4l1.4-1.2l1.4 2.8l1.4-1.4l1.4-0.3l1.4-1.6l1.4 2l1.4 0.9l1.4 0.6l1.4 1.3l1.4-0.2l1.4-1.1l1.4 2.7l1.4 0.3l1.4 0.1l1.4-0.4l1.4 0.4l1.4-1.2l1.4-0.5l1.4 1.6l1.4 0.6l1.4 1.3l1.4-3.3l1.4 2.7l1.4 1.1l1.4 2.4l1.4-1.7l1.4-0.3l1.4 0.7l1.4 0.5l1.4-2.7l1.4 0.5l1.4 2.1l1.4 0.2l1.4 0.3l1.4 2.4l1.4-2.6l1.4 1.4l1.4-0.1l1.4 0.7l1.4-1.1l1.4 0.8l1.4 2.6l1.4-2.2l1.4-1l1.4 1.6l1.4-0.7l1.4 2.1l1.4-3.1l1.4-0.7l1.4-0.9l1.4 1.5l1.4-0.3l1.4 3.8l1.4-0.4l1.4 0.3l1.4-0.5l1.4 0.2l1.5-0.7l1.4-1.5l1.4 2.8l1.4-1.4l1.4 2.2l1.4-0.5l1.4-2.9l1.4 0l1.4 0l1.4-0.2l1.4-0.2l1.4 0.8l1.4-0.3l1.4-0.2l1.4 0.6l1.4 0l1.4-0.7l1.4 1.2l1.4-0.7l1.4 0.9l1.4-0.1l1.4 0.9l1.4-3.4l1.4 3.1l1.4-1.2l1.4 1.2l1.4-2.1l1.4 0l1.4 0.7l1.4-1l1.4 0l1.4 0.5l1.4 2.5l1.4-3.6l1.4 1.4l1.4 2.8l1.4-1l1.4 2l1.4-3.8l1.4 0.1l1.4 1.2l1.4-0.4l1.4 0.6l1.4 1.7l1.4-1.7l1.4 1.1l1.4 0.4l1.4-0.4l1.4 2.3l1.4-2.1l1.4 2.3l1.4-2.5l1.4 0.8l1.4 0.2l1.4-1.3l1.4 1.2l1.4 1.4l1.4-0.2l1.5-0.5l1.4 1.8l1.4-0.1l1.4-0.6l1.4-3.6l1.4 2.7l1.4 2.2l1.4-1.9l1.4-2.5l1.4 2.1l1.4 1.5l1.4-1.6l1.4 1.2l1.4 1.5l1.4-1.7l1.4 0.3l1.4 2.2l1.4-1.1l1.4-1.5l1.4 1.4l1.4 0.7l1.4-1l1.4-0.3l1.4-0.4l1.4 4.2l1.4-3.3l1.4 0.1l1.4 1l1.4 0.8l1.4-1.5l1.4 1.1l1.4-1l1.4 0.8l1.4-2.5l1.4 3.2l1.4-0.5l1.4-0.2l1.4-0.6l1.4-2.2l1.4 0.7l1.4 1.5l1.4 2.1l1.4-0.8l1.4 1.3l1.4-0.3l1.4-0.9l1.4 0.5l1.4 1.4l1.4 0.5l1.4-1.5l1.4 1l1.4 0.2l1.4 0.8l1.4 1.2l1.4-2.5l1.4 0l1.4-0.3l1.4 4.8l1.5-0.3l1.4-2.1l1.4 4l1.4-2.2l1.4-0.3l1.4 0.6l1.4 0.6l1.4-3.5l1.4 0.9l1.4 1.4l1.4-0.6l1.4-0.5l1.4-0.3l1.4-1.7l1.4-2.7l1.4 1.3l1.4 3.1l1.4 0.3l1.4-1.4l1.4 0.8l1.4 2.2l1.4-1.8l1.4-0.9l1.4 4l1.4-2.6l1.4-1.9l1.4 2.4l1.4-1.8l1.4 0.4l1.4 0.2l1.4 1.7l1.4-1.9l1.4 1.6l1.4-2.2l1.4 1.3l1.4 0.7l1.4 0.6l1.4 2.3l1.4-1.8l1.4-0.5l1.4 0l1.4-0.2l1.4 1.6l1.4-0.2l1.4 1l1.4-1.5l1.4 0.9l1.4 0.5l1.4-0.1l1.4 0.2l1.4 0.3l1.4-0.9l1.4-0.3" stroke="#737373"/>
<path d="M673.9 -8.9l1.4 29.2l1.4 6.3l1.4 18.5l1.4 18.2l1.4 12.5l1.4 13.8l1.4 15.1l1.4 14l1.4 10.3l1.4 9.3l1.4 6.5l1.4 4.5l1.4 2.9l1.4 1l1.4 3.4l1.4 1.2l1.4 4.2l1.4 1.1l1.4 0l1.4 1.2l1.4-0.3l1.4 2.2l1.4-0.5l1.4 2.5l1.4-1.4l1.4 1.2l1.4 4.6l1.4 2.1l1.4 0.8l1.4-3.5l1.4 1.7l1.4 2.9l1.4 2.6l1.4 4.8l1.4 2.7l1.4 4l1.4 2.7l1.4 2.9l1.4 7.5l1.4 1.1l1.4-0.6l1.4 4.3l1.4 0.5l1.4 1.5l1.4 3.6l1.4-1.8l1.4 0.5l1.4 0l1.4 4.3l1.4 1.7l1.4-1.3l1.4 2.7l1.4-3.6l1.4 1.5l1.4 3.2l1.4-0.7l1.4 0.9l1.4 0.5l1.4 1l1.4 0l1.4-2.2l1.4 3.1l1.4 2.6l1.4 4.9l1.4-1l1.4 1.7l1.4 4.1l1.4 1.5l1.4 3.6l1.4-1.4l1.4-3.5l1.5 5.7l1.4 1l1.4-1l1.4-1.4l1.4 2.5l1.4 1.7l1.4 0l1.4-0.2l1.4 1.5l1.4-0.3l1.4-2l1.4 2.1l1.4 0.8l1.4 2.5l1.4-2.1l1.4-1.5l1.4 2.9l1.4-0.1l1.4-2l1.4-1l1.4 4.3l1.4-3.3l1.4 0.3l1.4 1.5l1.4-2l1.4 1.3l1.4 1.4l1.4-1l1.4-2.1l1.4 0.8l1.4 1.3l1.4 2.5l1.4-2.3l1.4 4.3l1.4-1.6l1.4 3.5l1.4 2.2l1.4-0.8l1.4-2.8l1.4 2.5l1.4 0.1l1.4-0.9l1.4-1.9l1.4-0.6l1.4 0.4l1.4 4.7l1.4-1.9l1.4-0.2l1.4-0.8l1.4 1.3l1.4-0.3l1.4-0.1l1.4 1.2l1.4-0.8l1.4 0.8l1.4 0.4l1.4-0.5l1.4 2.4l1.4 0.8l1.4-4.7l1.4 3.2l1.4 1.3l1.4 0.4l1.4 2.6l1.4-1.3l1.4-1.3l1.4-0.9l1.4 2.7l1.4-3.4l1.4 0.7l1.4 0.3l1.4 0l1.4 0l1.4-1.1l1.4-0.7l1.4 2.1l1.4-0.7l1.4 4l1.4-0.1l1.4-2l1.4 2.5l1.4-0.5l1.4 0.4l1.4 2.6l1.4-1.3l1.4-3.1l1.5 1.7l1.4-1l1.4 1.9l1.4-1.2l1.4-2.5l1.4-3.6l1.4 2.8l1.4 1l1.4 0l1.4 4.2l1.4-2.3l1.4 0.1l1.4-3l1.4 1.9l1.4-1.6l1.4-1.6l1.4 1.6l1.4 0.4l1.4-2l1.4 3.4l1.4-1.6l1.4-3.1l1.4-3.2l1.4 4.8l1.4 1.2l1.4-0.3l1.4-2.4l1.4-0.3l1.4 2.2l1.4-0.7l1.4 0.1l1.4 1.7l1.4 1.2l1.4-2.3l1.4 0.6l1.4 1.3l1.4-1l1.4 2.5l1.4-2.4l1.4 2.1l1.4-0.4l1.4 2.6l1.4-1.5l1.4-1.7l1.4 0.1l1.4-0.7l1.4 2.9l1.4-0.5l1.4 0l1.4 1.5l1.4 0.8l1.4-1.4l1.4-1.2l1.4 3.6l1.4-0.3l1.4-0.3l1.4 1.4l1.4-1.4l1.4 2.4l1.4-2.3l1.4-0.7l1.4 0.5l1.4-0.2l1.4 0.2l1.4 0.2l1.4-1.5l1.4 1.6l1.4 0.1l1.4 2.8l1.4-2.4l1.4-0.7l1.4 0.4l1.4 2.4l1.4 0.7l1.4-1.7l1.4 2.4l1.4-3.2l1.4 0.8l1.4 1.3l1.4-0.5l1.4-2.5l1.4 2.3l1.4 0l1.4-2.1l1.4-0.6l1.5 0.1l1.4 0l1.4 0.6l1.4 1.5l1.4-0.3l1.4-1.8l1.4-2.2l1.4-0.6l1.4 3.2l1.4-2.4l1.4 1.1l1.4 3.5l1.4-0.5l1.4-1l1.4 0.2l1.4 1.5l1.4 0.5l1.4-2.1l1.4-0.5l1.4 0.5l1.4 0.8l1.4 3.7l1.4-1.6l1.4-0.8l1.4 1.4l1.4 0.4l1.4-2.6l1.4-2.2l1.4 6.8l1.4-2.4l1.4-0.7l1.4 3.3l1.4-2.7l1.4 0.2l1.4-1.5l1.4 3.2l1.4-2.6l1.4 0.8l1.4 1l1.4-2.4l1.4 1.7l1.4-3.3l1.4-3.6l1.4 2.8l1.4 0.5l1.4 0.8l1.4-2.7l1.4 0.7l1.4 2l1.4 3.1l1.4-0.9l1.4 2.7l1.4 0l1.4 0.1l1.4-1.8l1.4-1.9l1.4 3.2l1.4 2.8l1.4-0.3l1.4-2.6l1.4 1.9l1.4 0l1.4 0.8l1.4-2.5l1.4 0.1l1.4 1.1l1.4 2.6l1.4-1.5l1.4-0.2l1.4 2.1l1.4-2.7l1.4-0.9l1.4-1.1l1.4 2.8l1.4-2.5l1.4-2.3l1.4 0.3" stroke="#509551"/>
<path d="M672.3 128.7l1.4 7.2l1.4 8.9l1.4 7.6l1.4 5.2l1.4 6.6l1.4 6.3l1.4 7.3l1.4 5.1l1.4 6l1.4 3l1.4 4.5l1.4 2.3l1.4 2.3l1.4 3.3l1.4 5l1.4-0.6l1.4-1.1l1.4 1.1l1.4 6.7l1.4-1.3l1.4 0.2l1.4 1.6l1.4 3.2l1.4 0.5l1.4 0.8l1.4 0.4l1.4 0.2l1.4 1.3l1.4 0.8l1.4-0.8l1.4-0.9l1.4 5.7l1.4 1.7l1.4 0.6l1.5 1.9l1.4 2.9l1.4 2.6l1.4 2.8l1.4 4.9l1.4 3.7l1.4 2.1l1.4 0.9l1.4 4l1.4 1.9l1.4 2.8l1.4 1l1.4-2.2l1.4 1.9l1.4 0.2l1.4 1.2l1.4 3.2l1.4 1l1.4-0.5l1.4 1.1l1.4 0.8l1.4-0.1l1.4 0.2l1.4 0.1l1.4 3.8l1.4-2l1.4 1l1.4 1.5l1.4 0.3l1.4 4.7l1.4 0.9l1.4-2.6l1.4 2.4l1.4 4.2l1.4 0.1l1.4 1.3l1.4 1l1.4 0.4l1.4-1.1l1.4 1.1l1.4 0.6l1.4-0.5l1.4 2.6l1.4 2.6l1.4 0.6l1.4 1.1l1.4-0.6l1.4-2l1.4 2.4l1.4 0.5l1.4-2.6l1.4 0l1.4 1.9l1.4 1.3l1.4-3.2l1.4 1.3l1.4 0.8l1.4 1l1.4 1.6l1.5 2.3l1.4-3.6l1.4 2.7l1.4 0.3l1.4 1.6l1.4-2.5l1.4-0.6l1.4 0.9l1.4-0.3l1.4 2.2l1.4-1l1.4 0.8l1.4-0.5l1.4-1.7l1.4 2l1.4-1.1l1.4 0.9l1.4-0.3l1.4 1.2l1.4-2.5l1.4 2.8l1.4 0.6l1.4-1.4l1.4-1.6l1.4-0.1l1.4 1.6l1.4-0.2l1.4 1.4l1.4 1.4l1.4 1.4l1.4-0.2l1.4-0.8l1.4 4.2l1.4 1.4l1.4-4.4l1.4 0.2l1.4 4l1.4-0.1l1.4-2.3l1.4 0.5l1.4-3.2l1.4 0.8l1.4 2.6l1.4-4l1.4 2.7l1.4-1.4l1.4 3.7l1.4-3l1.4-1.6l1.4 0.8l1.4 0.3l1.4 1.4l1.4 1.8l1.4-3.4l1.4 0.6l1.4 2.1l1.4-1.8l1.4 2.5l1.5 0.7l1.4 0.3l1.4-0.3l1.4 1.5l1.4 1.3l1.4-2l1.4 1.2l1.4-1l1.4-3.3l1.4 3.7l1.4-0.6l1.4 0.9l1.4-2.6l1.4-0.1l1.4-1.1l1.4-1.9l1.4 1.5l1.4 2.3l1.4-1.7l1.4-1.5l1.4-0.7l1.4-1.1l1.4 1.9l1.4 0.8l1.4-1.5l1.4-0.6l1.4-0.5l1.4-1.1l1.4 3.5l1.4-0.4l1.4-1.2l1.4-1.8l1.4 0.8l1.4 2.5l1.4 0.8l1.4 2.3l1.4-1.6l1.4-1.6l1.4-0.5l1.4-2.7l1.4 3.3l1.4-2.4l1.4 1.9l1.4 0.4l1.4 1.4l1.4 1l1.4 0.3l1.4 0.5l1.4-0.7l1.4 0.9l1.4-0.2l1.4-1.5l1.4 1.8l1.4-0.8l1.4 1l1.4 1.3l1.4-1.5l1.4-0.7l1.5 2.9l1.4-0.5l1.4-0.1l1.4 2.3l1.4-1.3l1.4 0.5l1.4 0.9l1.4-1.1l1.4 0.4l1.4 1.5l1.4 1.3l1.4-3.1l1.4 3l1.4 0.6l1.4-2.4l1.4-0.2l1.4-2.6l1.4 2l1.4-1.5l1.4 1l1.4-2.6l1.4 2.3l1.4-0.9l1.4 1l1.4 1.4l1.4-0.5l1.4-2l1.4 0.8l1.4 0.7l1.4-0.7l1.4-0.7l1.4-0.7l1.4-0.7l1.4 0.4l1.4-0.9l1.4 1.9l1.4 0.6l1.4-1.6l1.4 0l1.4 0.8l1.4 0.3l1.4 1.7l1.4 1.4l1.4 0.2l1.4 1.3l1.4-1.4l1.4 2.6l1.4-1l1.4 1l1.4-0.2l1.4 0.1l1.4 0.6l1.4-0.2l1.4-0.1l1.4-1.7l1.4 3.4l1.4 2l1.4-2.2l1.5-3.5l1.4 1.5l1.4 2.6l1.4-3.9l1.4 2.7l1.4-0.2l1.4-4.4l1.4 3.7l1.4 0.8l1.4-0.4l1.4-2.2l1.4 0.9l1.4 3.8l1.4-3.2l1.4-1.9l1.4 2.5l1.4-0.2l1.4-1.8l1.4 1.6l1.4-1.1l1.4 0.8l1.4-0.8l1.4 3l1.4-1.3l1.4-1.7l1.4 3.2l1.4-0.4l1.4-1.2l1.4 1.4l1.4-1.7l1.4 1l1.4 0.4l1.4 2.5l1.4-0.9l1.4 1.6l1.4 0.5l1.4 0.2l1.4-0.4l1.4 1.4l1.4-2.7l1.4 1.5l1.4-0.7l1.4 3.4l1.4 0.7l1.4-3l1.4 1.4l1.4-1.6l1.4 2.9l1.4-1.6l1.4 2.5l1.4-0.7l1.4-0.7l1.4-2.2" stroke="#737373"/>
<path d="M672.3 73.7l1.4-0.7l1.4 6.2l1.4 6l1.4 7.2l1.4 8.6l1.4 7.4l1.4 9.2l1.4 9.2l1.4 7.4l1.4 10.2l1.4 6l1.4 1.9l1.4 5.5l1.4 5.8l1.4 2.1l1.4 7.9l1.4 3.7l1.4 3.2l1.4 5.8l1.4 4.4l1.4 6.5l1.4 4.4l1.4 2.9l1.4 3l1.4 3.6l1.4 0.4l1.4 3.7l1.4-0.8l1.4 0.6l1.4-2.3l1.4-7.8l1.4-2.5l1.4 3.6l1.4 3.4l1.5 1.6l1.4 9.7l1.4 13.5l1.4 13.1l1.4 14.5l1.4 9.8l1.4 10.7l1.4 1.4l1.4 1l1.4 4l1.4 2.4l1.4 2.6l1.4 2.4l1.4-0.8l1.4 0.9l1.4 4l1.4-2l1.4 1.6l1.4-0.2l1.4 1l1.4 1.8l1.4-1.2l1.4 2.6l1.4-1.3l1.4 0.1l1.4 1.7l1.4 1.5l1.4 0.1l1.4-1.6l1.4 4l1.4 4.5l1.4 3.1l1.4 2.2l1.4 6.7l1.4 1.7l1.4-0.3l1.4 2l1.4 2.3l1.4 1.4l1.4 0.6l1.4 1.3l1.4-0.4l1.4 3.9l1.4 1.3l1.4-0.6l1.4-0.2l1.4 1.4l1.4-1.4l1.4-3.4l1.4 0.2l1.4-2l1.4 2.8l1.4-6.2l1.4 6.6l1.4 1.1l1.4-0.2l1.4 0.9l1.4 0.9l1.4-7.1l1.5 0.8l1.4 1.1l1.4 0.6l1.4-1.1l1.4 0.4l1.4 5l1.4-2l1.4 0.5l1.4 1.6l1.4 2.3l1.4 2.8l1.4 0.8l1.4-2.2l1.4-0.9l1.4 2.5l1.4-1.5l1.4 0.4l1.4 2.3l1.4-0.4l1.4 0.4l1.4 2.5l1.4 0.5l1.4 0.3l1.4-1.4l1.4 2.7l1.4 0.8l1.4-4.7l1.4 2.1l1.4 3.9l1.4-1l1.4 2.6l1.4-0.1l1.4 4.1l1.4-2.4l1.4-1.8l1.4 1.5l1.4-0.6l1.4 0l1.4-0.6l1.4-0.8l1.4 2.8l1.4-1.3l1.4 0.1l1.4-2.7l1.4 4.5l1.4-4.2l1.4 1.8l1.4 1.2l1.4-2.8l1.4 5l1.4-2l1.4-0.4l1.4 1.3l1.4 0.7l1.4 0.1l1.4-3.3l1.4 0.8l1.4-0.1l1.5 1.3l1.4 0.5l1.4-2.2l1.4-0.4l1.4 1.6l1.4-1.7l1.4 1.7l1.4 2.8l1.4 0.2l1.4 1l1.4-1.2l1.4-0.5l1.4 0.3l1.4 0.6l1.4-3.6l1.4 0.5l1.4 1.3l1.4 0.7l1.4-1.5l1.4-1.2l1.4 2.1l1.4 0l1.4 0.2l1.4-0.9l1.4 0.6l1.4-0.2l1.4-0.7l1.4-1.2l1.4-0.8l1.4-1.2l1.4 4.6l1.4-2l1.4 2.9l1.4-4.9l1.4 1.3l1.4 3.1l1.4-3.4l1.4-0.5l1.4 3.3l1.4 1.3l1.4-0.5l1.4-1.2l1.4 0.5l1.4 3.9l1.4-0.6l1.4-2.1l1.4-1.7l1.4 0.8l1.4 3.4l1.4 0.3l1.4-4.3l1.4 0.9l1.4 2.6l1.4 2.9l1.4-4.3l1.4 1.4l1.4 2.9l1.4 0.3l1.5-4l1.4-0.3l1.4 2.1l1.4-1.5l1.4 1.5l1.4-0.8l1.4 2l1.4-4.5l1.4 0.8l1.4 3.8l1.4-2.4l1.4 1.5l1.4-1.2l1.4 0.3l1.4 3.9l1.4 0.1l1.4 0.5l1.4-3.7l1.4 1.9l1.4 0l1.4 1.7l1.4 0.8l1.4-5.9l1.4 1.2l1.4 1l1.4 0.5l1.4-1.1l1.4-0.8l1.4 1.2l1.4 0.6l1.4 2.8l1.4-2.6l1.4 0.2l1.4-1l1.4 4l1.4-3.1l1.4-0.1l1.4 2.4l1.4-3.3l1.4-1.5l1.4 2.7l1.4-0.8l1.4 3.1l1.4-2.4l1.4-1.7l1.4 0.7l1.4 2l1.4-2.2l1.4 3.7l1.4 1.2l1.4-2.6l1.4 1.3l1.4 0.5l1.4 3.5l1.4-1l1.4-0.4l1.4-1.6l1.4 2.5l1.5 0.9l1.4-3.9l1.4 3l1.4 1.6l1.4-1.2l1.4 1.3l1.4-0.3l1.4-3.4l1.4 0.6l1.4 1.5l1.4-0.1l1.4-1.1l1.4-0.9l1.4-0.3l1.4-1.5l1.4 2.9l1.4 0.3l1.4-2.1l1.4 2.6l1.4-1.5l1.4-2.4l1.4 0.2l1.4 1.1l1.4 2.9l1.4-0.6l1.4 2.1l1.4 0.4l1.4 2.7l1.4-2l1.4-1l1.4-3.2l1.4 3.1l1.4 2.4l1.4-1.3l1.4-0.3l1.4 0.2l1.4-0.1l1.4 1.1l1.4-1.2l1.4 0.8l1.4 0.5l1.4 2.5l1.4 1.2l1.4 0.3l1.4-3.3l1.4-0.1l1.4 1.3l1.4-1.6l1.4-1.6l1.4 1.1l1.4-0.4l1.4-1.2l1.4 1.6" stroke="#509551"/>
<path d="M672.3 231.5l1.4 11.1l1.4 8l1.4 10.5l1.4 11.3l1.4 9l1.4 6.4l1.4 4.1l1.4 3.1l1.4 2.5l1.4 5.4l1.4 2.8l1.4 2.1l1.4 0.3l1.4 2.1l1.4 5l1.4 2.6l1.4 2.2l1.4 4.4l1.4-1.5l1.4 2l1.4 0.1l1.4-0.2l1.4 0.6l1.4 4.4l1.4-0.8l1.4-0.9l1.4 2.6l1.4 2l1.4 0.2l1.4 1.7l1.4-2.1l1.4-2.5l1.4 1.8l1.4 3.8l1.5 2.4l1.4 5.8l1.4 3.4l1.4-1.1l1.4 3.8l1.4 4.2l1.4 2l1.4 2.2l1.4 1.7l1.4 4.6l1.4-0.6l1.4-0.8l1.4 2.6l1.4 2.2l1.4 1.4l1.4 0.5l1.4 0.4l1.4-0.1l1.4 1.8l1.4-1.8l1.4 1.1l1.4-1.3l1.4 0.9l1.4 2.8l1.4-0.3l1.4 2.8l1.4 0.8l1.4 2l1.4 2.9l1.4-0.6l1.4-1.2l1.4 2l1.4 2.4l1.4 2.8l1.4 1l1.4 3.7l1.4 2.3l1.4 0.4l1.4 2.8l1.4 1.9l1.4 3.3l1.4 1.4l1.4-3.3l1.4 3.6l1.4-4.9l1.4 0l1.4 1.4l1.4 1.1l1.4 0.4l1.4-1.2l1.4-2.4l1.4-1.9l1.4 3.3l1.4 4.6l1.4-3.8l1.4-0.4l1.4-1.7l1.4 2.8l1.4-3.8l1.5 4.7l1.4-1l1.4 1.6l1.4 2.2l1.4-5.1l1.4 0.1l1.4-0.3l1.4 2.7l1.4 2l1.4-0.2l1.4 0.7l1.4-0.6l1.4-0.8l1.4 1.3l1.4 2.5l1.4 0.9l1.4 0.2l1.4 1.8l1.4-4.5l1.4 0.1l1.4 1.6l1.4-0.9l1.4 1.6l1.4-1.9l1.4 1.2l1.4-0.7l1.4 0.5l1.4 3.9l1.4 0.5l1.4-2.9l1.4 2.2l1.4 1.1l1.4 1.2l1.4 0.5l1.4 0.1l1.4-2.8l1.4 4.3l1.4 0.2l1.4 0.9l1.4 0.6l1.4 0.4l1.4 2.6l1.4-2.5l1.4 0.2l1.4 0.3l1.4 1.9l1.4-0.5l1.4-3.9l1.4-0.8l1.4 1.9l1.4 1.4l1.4-1.3l1.4-0.5l1.4-2.7l1.4 0.7l1.4-0.3l1.4 2l1.4-0.5l1.5 0.2l1.4 0.9l1.4 1.7l1.4 0.7l1.4 1l1.4-0.2l1.4 1.5l1.4 3.2l1.4-0.7l1.4-0.2l1.4 0.9l1.4-2.6l1.4 0.3l1.4 3.7l1.4-1.3l1.4-2.2l1.4 0l1.4-0.7l1.4-0.6l1.4 0l1.4-1.8l1.4-0.4l1.4 0.8l1.4-3.5l1.4 1.3l1.4 0.9l1.4-2l1.4 3.4l1.4-1.1l1.4 1.9l1.4-3.1l1.4 0.6l1.4 0.2l1.4 2.6l1.4 0.5l1.4-1.9l1.4-1.9l1.4 1.3l1.4 1.7l1.4-0.2l1.4-2.3l1.4 1.9l1.4 0.1l1.4 0.5l1.4 0l1.4 2l1.4-2.4l1.4 0l1.4 3.7l1.4 1.1l1.4-1.4l1.4 0.3l1.4-0.5l1.4 4l1.4 0.2l1.4-1.8l1.4 3.2l1.4-1l1.5-1.5l1.4 1.6l1.4-1l1.4-0.7l1.4 2.2l1.4-0.4l1.4 1.4l1.4-0.2l1.4-2.3l1.4 2.4l1.4 2.7l1.4-3.5l1.4 0.6l1.4-1.3l1.4 2.2l1.4 0.5l1.4 0.3l1.4-2.2l1.4-0.5l1.4 3l1.4-0.4l1.4-1.9l1.4 4.2l1.4 0.1l1.4-1.2l1.4-1.7l1.4-1.1l1.4-2.4l1.4 0.7l1.4-0.3l1.4 2.3l1.4-2.3l1.4 2.5l1.4-0.7l1.4 1.9l1.4-2.4l1.4-2.1l1.4 2.4l1.4 0.3l1.4 1.4l1.4 1l1.4-2.7l1.4 2.8l1.4 0.1l1.4-0.4l1.4 0.8l1.4-0.3l1.4 3l1.4 1.8l1.4-1.8l1.4 1l1.4-0.5l1.4 0.2l1.4-0.6l1.4-0.9l1.4 0.3l1.4 4.1l1.4 1l1.5-2.2l1.4-1.2l1.4 0.6l1.4-0.9l1.4-2.8l1.4-0.6l1.4 5.4l1.4-0.8l1.4-3l1.4 2.7l1.4-3.1l1.4-0.2l1.4 5.6l1.4-1.5l1.4-3.9l1.4 2.3l1.4 0.2l1.4-1.1l1.4 0.4l1.4 1.5l1.4-3.2l1.4 1.1l1.4 1.9l1.4-1.6l1.4 1.1l1.4 0.2l1.4 1.1l1.4 0.6l1.4-1.8l1.4 2.5l1.4-0.8l1.4-2.3l1.4-0.6l1.4 1.1l1.4 2.1l1.4-1l1.4 1.1l1.4-2.1l1.4 3.9l1.4-1.1l1.4-0.8l1.4 0.5l1.4 2.4l1.4 0.3l1.4-3.3l1.4 1.9l1.4-0.2l1.4-1.4l1.4-0.5l1.4 1l1.4-1l1.4 0.1l1.4-0.2" stroke="#737373"/>
<path d="M672.3 107.4l1.4 11.6l1.4 11.2l1.4 10.4l1.4 9.6l1.4 9.6l1.4 10.4l1.4 8.2l1.4 7.9l1.4 5.5l1.4 5.2l1.4 7.1l1.4 5.1l1.4 2.5l1.4 4.3l1.4 1.5l1.4 6.1l1.4-0.4l1.4 3.4l1.4 2.2l1.4 3l1.4 4.2l1.4 3l1.4 0.5l1.4-0.2l1.4-2.6l1.4 2.6l1.4-2.7l1.4 0.9l1.4 0.4l1.4 4.1l1.4 1.4l1.4-2.4l1.4 3.4l1.4 5.5l1.5 9.1l1.4 9.2l1.4 4.1l1.4-0.1l1.4 4.2l1.4 4.2l1.4 2l1.4 6.9l1.4 4.1l1.4 2.3l1.4-0.8l1.4 2.4l1.4 3.1l1.4 4l1.4 6.2l1.4 4.3l1.4 6.6l1.4 6.1l1.4 6.3l1.4 3.6l1.4 8.5l1.4 4.7l1.4 3.7l1.4 6.3l1.4 8.4l1.4 3.7l1.4 5.4l1.4 6.4l1.4 6.5l1.4 6.3l1.4 4.9l1.4 4.9l1.4 4l1.4 6l1.4 5.5l1.4 4.8l1.4 3.1l1.4 3.9l1.4 5.8l1.4 1.8l1.4 1.7l1.4 1.1l1.4 1.9l1.4 0.4l1.4-1l1.4 2.9l1.4 0.3l1.4 1l1.4-3.8l1.4 1.8l1.4-0.5l1.4 0.9l1.4-4.3l1.4 0.1l1.4-0.6l1.4 0.8l1.4 0.8l1.4 0.6l1.4-0.6l1.5-0.4l1.4 0.2l1.4-2.3l1.4 0.6l1.4 1.7l1.4-3.3l1.4-1.3l1.4 3.9l1.4-1l1.4 0.3l1.4 2.9l1.4 1.5l1.4 2.4l1.4-3.5l1.4-0.7l1.4-1.7l1.4-1.4l1.4-0.6l1.4-4.2l1.4 1.8l1.4-0.4l1.4-3.6l1.4 4.7l1.4-0.3l1.4-3.6l1.4-0.1l1.4-4.1l1.4 3.3l1.4-1.4l1.4-1.7l1.4 2l1.4-0.3l1.4 2l1.4 2.3l1.4 2.8l1.4 0.4l1.4 0.7l1.4 3.1l1.4 1.8l1.4 3.2l1.4 5l1.4 1.5l1.4 1.5l1.4 4.8l1.4 1l1.4 2.5l1.4 2l1.4 0.1l1.4 3.9l1.4 0.8l1.4 1.9l1.4-0.1l1.4 1.7l1.4 1l1.4-0.9l1.4 0.7l1.4 1.5l1.4-0.1l1.5 2.7l1.4 1.8l1.4-0.2l1.4 1.6l1.4 2.1l1.4-1l1.4 0.5l1.4-0.4l1.4 0.3l1.4 0l1.4-0.2l1.4 0.5l1.4 2.1l1.4 2.6l1.4-2.7l1.4-1.2l1.4-2.3l1.4 2.7l1.4-4.9l1.4 0.8l1.4 2l1.4 1.4l1.4 3.6l1.4-2.6l1.4-1.7l1.4-5.4l1.4 6.4l1.4-1.1l1.4-1.8l1.4 1.4l1.4 2.7l1.4-3.1l1.4-0.7l1.4 1.7l1.4 0.3l1.4 3l1.4-2.3l1.4-2l1.4 1.7l1.4-1.9l1.4 1l1.4 1.9l1.4 0.3l1.4 0.9l1.4 1.2l1.4-2.9l1.4 0l1.4 4.8l1.4-1.9l1.4 4.4l1.4-0.5l1.4-1.4l1.4-0.7l1.4-1.6l1.4 1l1.4 0l1.4-0.1l1.4 0.5l1.5-3.4l1.4-0.2l1.4 2.7l1.4-0.3l1.4 1.1l1.4 3.2l1.4-1.9l1.4-3.2l1.4 3.3l1.4-1.2l1.4 3.1l1.4-1.2l1.4-2.2l1.4-0.2l1.4 2.3l1.4 0.3l1.4-2.9l1.4 0.4l1.4 1.5l1.4 1.7l1.4-0.2l1.4-1.8l1.4-2.2l1.4 4.5l1.4-1.4l1.4-2l1.4 0.8l1.4-1.7l1.4 1.6l1.4 2.5l1.4-1.4l1.4 1l1.4 0.3l1.4 1l1.4-2.7l1.4 1.5l1.4-0.7l1.4 2.6l1.4 0.1l1.4-2.5l1.4 2.7l1.4-1.9l1.4-1.9l1.4 1.2l1.4 1.5l1.4-1.6l1.4 0.5l1.4 3l1.4-1.8l1.4 1.1l1.4 0.4l1.4 1.1l1.4 0l1.4 1.6l1.4-0.6l1.4 0l1.4 1.1l1.4-1l1.5-2.4l1.4-4.1l1.4 3l1.4 1l1.4-1.3l1.4-2.4l1.4 1.3l1.4-0.7l1.4 2.5l1.4-0.5l1.4-3.1l1.4 2.2l1.4-0.6l1.4-3.8l1.4 1.9l1.4-0.8l1.4 0.1l1.4 3.4l1.4 0l1.4-3.9l1.4 3.3l1.4-3l1.4 0l1.4 1.3l1.4-2l1.4 2.7l1.4-0.6l1.4 2.1l1.4-2.6l1.4 0.6l1.4-0.8l1.4-1.4l1.4 0.8l1.4 1l1.4 1l1.4-1.4l1.4 0.3l1.4-2.3l1.4 2.9l1.4-0.4l1.4 0.2l1.4 1.6l1.4 1.3l1.4-4l1.4 1.4l1.4-0.8l1.4 1.2l1.4-2.7l1.4-2.7l1.4 0.8l1.4 4.2l1.4 0.7l1.4 0.6" stroke="#509551"/>
<path d="M672.3 247.5l1.4 10.6l1.4 9.1l1.4 3.3l1.4 4.1l1.4 5.5l1.4 4.1l1.4 0.6l1.4 5.1l1.4 6.2l1.4 7.6l1.4 6.5l1.4 6.4l1.4 6.8l1.4 6.2l1.4 7.3l1.4 4.7l1.4 5.2l1.4 2.6l1.4 1.9l1.4 0.9l1.4-3.2l1.4 5.5l1.4 2.3l1.4-0.5l1.4 2.3l1.4 2.9l1.4 4.8l1.4-2.2l1.4-5.3l1.4-1.3l1.4-2l1.4-0.6l1.4-0.4l1.4-2.5l1.5 4.7l1.4 8.1l1.4 5.3l1.4 8.1l1.4 4l1.4 5.1l1.4 4.9l1.4 3.3l1.4 6.1l1.4 4.4l1.4 4.5l1.4 4.4l1.4 5.1l1.4 3.5l1.4 2.9l1.4 1.7l1.4-1.7l1.4 4.8l1.4 3.9l1.4 4l1.4 4l1.4 1.4l1.4 5.2l1.4 1l1.4 4.1l1.4 4.4l1.4 4.2l1.4 3.5l1.4 2l1.4 3.9l1.4 1l1.4 7.5l1.4 3.9l1.4 4.4l1.4 1.7l1.4 4.9l1.4 3l1.4 1.5l1.4 0.8l1.4 0.8l1.4 1.3l1.4 1.3l1.4 1.6l1.4 0.7l1.4 0.4l1.4-0.2l1.4 1.2l1.4 0l1.4 0.1l1.4-1.8l1.4 1.8l1.4-2.6l1.4 0.9l1.4-2.8l1.4-2.6l1.4 3.7l1.4-2.2l1.4-2.3l1.4-0.7l1.5-0.3l1.4-0.4l1.4 0.9l1.4 2.8l1.4-1.3l1.4 2.3l1.4-0.9l1.4 1.7l1.4-0.8l1.4-1.6l1.4-0.3l1.4-2.1l1.4 2.1l1.4 1.3l1.4-4.4l1.4-1.2l1.4 4.2l1.4 0.1l1.4-3.4l1.4 1.8l1.4-0.8l1.4-4.6l1.4 1l1.4 0.2l1.4-2.5l1.4 0l1.4-0.5l1.4-1.4l1.4 2.3l1.4-2.2l1.4-3l1.4 1.7l1.4 3.7l1.4-2.1l1.4 1.7l1.4 4.7l1.4-0.5l1.4 1l1.4 2.2l1.4 3.6l1.4 4.3l1.4 1.6l1.4 2.3l1.4 2.7l1.4-0.3l1.4 0.7l1.4 1.8l1.4 1.8l1.4-1l1.4 0.6l1.4 2l1.4 1.6l1.4 2.8l1.4-3.2l1.4 3.1l1.4 0.8l1.4 0.7l1.4-0.3l1.5-1.5l1.4 3.3l1.4 3.7l1.4-1.8l1.4 1.2l1.4-1.3l1.4 2.7l1.4 0.6l1.4 0.9l1.4-1.2l1.4 0.5l1.4 1.9l1.4-1.2l1.4-1l1.4 0l1.4-3.7l1.4 5.4l1.4-2.2l1.4 1l1.4-3.6l1.4 3l1.4-0.8l1.4-0.2l1.4 0.1l1.4-1.4l1.4 2.4l1.4 1.5l1.4-3.8l1.4-0.3l1.4 0.9l1.4 1.2l1.4-3.8l1.4 0.8l1.4 1.8l1.4-2.5l1.4-0.4l1.4 2.8l1.4-1.2l1.4-2.3l1.4 1.4l1.4 2.2l1.4-0.3l1.4-1l1.4-0.5l1.4-1.2l1.4 0.9l1.4 1.6l1.4-0.4l1.4-1.9l1.4 2.5l1.4-1.8l1.4 0l1.4-0.3l1.4 0.7l1.4-1.8l1.4 2.8l1.4 0.2l1.4-1.8l1.5-3.5l1.4 2.4l1.4 2.4l1.4-0.8l1.4-0.8l1.4 2.3l1.4-0.7l1.4 3.1l1.4-2l1.4 2.5l1.4-1.1l1.4-2.6l1.4 1.2l1.4 0.4l1.4 1.9l1.4-3.4l1.4 2.9l1.4-0.6l1.4-2l1.4 1.7l1.4-0.8l1.4 1.2l1.4-1l1.4-0.8l1.4-0.7l1.4 2.4l1.4-0.5l1.4-0.7l1.4-1l1.4 1.9l1.4-1.8l1.4-0.8l1.4 0l1.4-0.9l1.4 2.8l1.4-0.4l1.4-1l1.4 0.1l1.4-0.4l1.4 1.9l1.4 0.1l1.4 0.4l1.4 1.1l1.4-2.4l1.4-1.6l1.4 0l1.4 0.7l1.4-0.1l1.4 2.2l1.4-2l1.4 0.6l1.4-0.3l1.4-0.8l1.4 3.6l1.4 0.9l1.4-3.7l1.4 1.8l1.4 2.6l1.5-2.1l1.4 1.2l1.4-2l1.4 3.4l1.4-3.6l1.4-0.6l1.4-1.5l1.4-1.5l1.4 1.4l1.4 1l1.4-2.3l1.4-2.4l1.4 0l1.4 0.7l1.4-1.2l1.4-0.2l1.4-0.4l1.4 0.7l1.4-0.4l1.4 1.6l1.4-1.4l1.4 0.7l1.4-1l1.4 2.5l1.4 0.9l1.4 0.6l1.4-2.2l1.4-0.7l1.4-0.6l1.4 0.1l1.4 0.8l1.4-0.8l1.4 2.3l1.4 1.7l1.4-0.7l1.4-2.4l1.4 2l1.4-2l1.4 0l1.4 1.2l1.4 0.3l1.4-3.8l1.4-1.7l1.4 4l1.4-1.8l1.4 2.3l1.4 2.3l1.4-0.3l1.4-0.2l1.4-0.6l1.4-0.6l1.4 0.1l1.4 0" stroke="#737373"/>
<path d="M672.3 222.5l1.4 7.2l1.4 11.6l1.4 12.5l1.4 20.7l1.4 17.3l1.4 7.6l1.4 6.6l1.4 9.7l1.4 7.4l1.4 7.2l1.4 9.7l1.4 7.3l1.4 3.9l1.4 5.6l1.4 1.7l1.4 3.4l1.4 2.6l1.4 0.6l1.4 4l1.4 2.2l1.4 2.8l1.4 3l1.4 0.3l1.4 2.4l1.4 3.2l1.4 1.9l1.4 0.7l1.4-1.7l1.4 1.4l1.4-0.2l1.4-5.4l1.4-2.4l1.4 1.8l1.4 6.1l1.5 6.5l1.4 5.4l1.4 9.9l1.4 5l1.4 3.5l1.4 3.3l1.4 3.6l1.4 2.3l1.4 6.2l1.4 2.9l1.4 2.5l1.4 4.8l1.4 3.9l1.4 5.3l1.4 0.5l1.4 3.3l1.4 4.5l1.4 2.8l1.4 3l1.4 0.8l1.4 5.7l1.4 2.6l1.4 5.1l1.4 1.5l1.4 4.2l1.4 1.5l1.4 3.3l1.4 2.9l1.4 4.6l1.4 4.7l1.4 6.5l1.4 3.1l1.4 4l1.4 6.6l1.4 3.9l1.4 3.2l1.4 4.3l1.4 1.7l1.4 2.4l1.4 4.5l1.4 6.2l1.4 1.4l1.4 1.6l1.4-1.5l1.4-2.2l1.4 2.4l1.4-2.8l1.4-3.6l1.4 4.4l1.4 1l1.4-1.2l1.4 0.1l1.4-2.2l1.4-1.6l1.4-2.6l1.4 0.3l1.4-1.3l1.4 0.5l1.4 4.1l1.5-2.4l1.4-0.9l1.4-1.9l1.4 4l1.4-6.5l1.4-0.6l1.4 3.5l1.4-1l1.4-0.5l1.4 3l1.4 1.1l1.4 0.4l1.4-1.9l1.4 1.5l1.4-3.4l1.4-1.3l1.4-1.7l1.4 0.5l1.4-1.8l1.4-2l1.4 0l1.4-2.7l1.4-0.9l1.4-0.6l1.4-1.8l1.4-1.8l1.4-1.8l1.4 2.8l1.4-4l1.4 2.5l1.4-0.6l1.4-0.5l1.4-1.3l1.4 2.4l1.4-0.4l1.4 2.8l1.4-1.2l1.4-0.1l1.4 2.7l1.4 6.6l1.4 4.1l1.4 1.9l1.4 5.9l1.4 2.1l1.4 1.2l1.4 3.3l1.4-0.2l1.4 2.9l1.4 0.6l1.4 3.2l1.4 2.3l1.4-0.2l1.4 2.6l1.4-1l1.4 2.2l1.4 0.4l1.4-1.2l1.4 3.2l1.5 3l1.4 3l1.4-3l1.4 0.2l1.4 2.5l1.4-3.4l1.4 3.9l1.4-2.4l1.4-0.1l1.4 1.9l1.4 0.5l1.4 2.5l1.4-2.5l1.4 1.1l1.4 0.4l1.4 1l1.4 0.3l1.4 0.7l1.4-0.4l1.4 0.4l1.4-1.2l1.4-2.7l1.4-1.2l1.4 3.3l1.4-2.1l1.4 0.2l1.4 2.2l1.4-0.9l1.4-1.9l1.4-0.2l1.4 1.4l1.4 2.2l1.4-5.9l1.4 0.8l1.4 2.6l1.4-0.1l1.4-0.3l1.4 1.8l1.4 2l1.4 1.8l1.4-3.6l1.4 0.8l1.4 2.4l1.4 1.1l1.4 0.4l1.4 0.3l1.4 1l1.4-0.1l1.4 3.5l1.4-3.4l1.4-0.9l1.4-1.8l1.4 3.3l1.4 0.4l1.4-0.8l1.4-1.7l1.4 3.9l1.4-1.4l1.5-0.3l1.4-3l1.4 2.4l1.4 0.8l1.4 1.9l1.4-1.4l1.4 0.8l1.4-3.5l1.4 1.5l1.4 0.7l1.4 0.3l1.4-0.7l1.4 0.2l1.4 2.6l1.4-1.9l1.4 1.6l1.4 0.8l1.4-1.5l1.4 0.5l1.4-4l1.4 1.8l1.4 2.9l1.4-2.2l1.4-2.9l1.4 3.7l1.4-2.8l1.4 3.4l1.4-0.7l1.4-3.1l1.4 0.7l1.4 4.5l1.4-0.9l1.4-1l1.4 0.8l1.4-0.6l1.4-0.9l1.4 2l1.4 2.3l1.4-1.8l1.4 1.9l1.4 0.1l1.4-3.7l1.4 2.5l1.4 3.2l1.4-4.7l1.4 1.3l1.4 2.9l1.4-1.5l1.4 1.1l1.4 0.1l1.4-1.4l1.4 0.9l1.4-0.5l1.4 0.3l1.4 0l1.4-1.2l1.4 0.1l1.4 0.8l1.5 1.4l1.4-1.7l1.4 3.8l1.4-2l1.4 4l1.4-2.3l1.4-1.3l1.4 0.1l1.4 1l1.4 0.2l1.4-1.7l1.4 0.6l1.4-0.3l1.4-0.8l1.4 1.5l1.4-5.4l1.4 1.2l1.4 0.7l1.4 1.2l1.4 2.6l1.4-4.5l1.4-0.5l1.4 1.3l1.4 2.1l1.4 0l1.4-2.7l1.4 1.1l1.4-0.5l1.4 0.9l1.4-1.4l1.4 0.3l1.4-0.6l1.4-1.3l1.4-0.5l1.4 2.4l1.4-1l1.4-1.1l1.4 1.8l1.4 2.1l1.4 1l1.4-2.3l1.4 0.3l1.4 1.7l1.4-1.8l1.4 2.1l1.4-0.1l1.4-2.4l1.4 2.2l1.4-0.8l1.4 2.9l1.4-2.4l1.4 1.5l1.4 1.1" stroke="#509551"/>
<path d="M672.3 460l1.4-0.4l1.4 3.6l1.4 3.5l1.4 10.5l1.4 9.4l1.4 9.7l1.4 4.9l1.4 6.3l1.4 3.8l1.4 4.6l1.4 3.8l1.4 4.8l1.4 4.1l1.4 1.5l1.4 4l1.4 1.9l1.4 1.7l1.4 1.6l1.4-2l1.4 4.2l1.4-1.5l1.4 1.4l1.4 2.9l1.4 2.4l1.4 0l1.4-0.2l1.4 0.5l1.4-1.4l1.4 1.2l1.4 3.9l1.4-4.1l1.4 1.6l1.4 1.7l1.4 1l1.5 3.2l1.4 3.3l1.4 2.7l1.4 3.5l1.4 2.4l1.4 4.1l1.4 1.7l1.4 1.5l1.4 5.3l1.4-0.3l1.4 0.7l1.4-0.4l1.4 3.2l1.4 0.1l1.4 1.1l1.4 3.3l1.4 1.9l1.4 1l1.4 3.4l1.4 1.8l1.4 0.6l1.4 0l1.4 1.7l1.4-0.8l1.4 2.5l1.4 1.4l1.4-0.1l1.4 1.5l1.4 5.6l1.4-1.6l1.4 3.6l1.4 3.1l1.4 3.4l1.4 1.8l1.4 2.3l1.4 1.4l1.4 0.2l1.4-0.8l1.4 1.7l1.4 1.8l1.4 0.8l1.4 0.7l1.4-0.6l1.4-1.5l1.4 0.9l1.4 1.7l1.4 1.5l1.4 1.1l1.4 0l1.4-2.1l1.4 1.1l1.4 1.4l1.4-0.1l1.4 0l1.4-2.7l1.4 1.1l1.4-4.3l1.4 0.9l1.4 1l1.5-0.8l1.4 0.8l1.4-1l1.4-0.2l1.4 0.7l1.4-2l1.4 2.3l1.4-1.9l1.4 1l1.4-0.3l1.4-0.9l1.4 0.5l1.4 0.3l1.4-1.1l1.4 2.3l1.4-3.5l1.4-0.2l1.4 0.6l1.4-0.9l1.4-0.2l1.4-3.3l1.4 0.1l1.4 0.1l1.4 1.4l1.4-2.1l1.4 0l1.4 1.8l1.4-1.6l1.4-0.6l1.4-0.8l1.4 1.6l1.4-2.8l1.4 0.1l1.4 0.7l1.4 1.1l1.4 0.6l1.4-1.8l1.4 3.2l1.4 0.9l1.4 4.8l1.4-1.3l1.4 1.4l1.4-0.3l1.4 1.1l1.4 0.8l1.4 3l1.4 1.3l1.4-2.2l1.4 1.7l1.4 1.3l1.4 1.5l1.4-1.4l1.4 2.2l1.4-1.9l1.4 1.4l1.4 0.9l1.4 1l1.4 2.3l1.5 0.4l1.4 3.3l1.4-2l1.4-0.8l1.4 2.3l1.4-0.4l1.4-1.3l1.4 2l1.4 0.8l1.4-3.3l1.4-0.1l1.4 2.1l1.4-1.6l1.4 2.1l1.4-1.3l1.4 0.4l1.4-0.5l1.4-2.1l1.4 0.5l1.4-0.4l1.4 0l1.4 1.1l1.4-0.1l1.4-1.2l1.4 0.3l1.4 1.8l1.4-1.2l1.4-1l1.4 1.4l1.4-1l1.4-0.9l1.4 3.6l1.4-2.6l1.4 0.4l1.4 0.3l1.4-0.6l1.4 2.6l1.4 0.9l1.4-1.9l1.4-2.8l1.4 1.5l1.4-1.7l1.4 2.3l1.4 1.7l1.4-0.7l1.4 0.7l1.4-1.1l1.4-1.5l1.4 0.1l1.4 1.8l1.4-3.4l1.4 1.8l1.4-0.9l1.4 3.6l1.4-2.9l1.4-1.8l1.4 3.8l1.4 1.3l1.5-1.1l1.4 0.7l1.4-1.1l1.4 0.9l1.4 1.9l1.4-0.1l1.4-0.3l1.4-0.6l1.4 2l1.4 1.2l1.4-0.2l1.4-3.1l1.4 1.2l1.4-0.4l1.4 0.1l1.4 0.9l1.4 2.9l1.4-1.8l1.4-1.2l1.4-0.7l1.4 0.6l1.4-2.5l1.4 1.6l1.4 1l1.4-2l1.4 2.1l1.4 0.8l1.4-3.2l1.4 0.8l1.4-0.6l1.4-0.3l1.4 1.8l1.4-0.2l1.4-2.1l1.4-0.6l1.4 2.4l1.4-1l1.4-0.1l1.4 1.1l1.4 0.1l1.4 1.5l1.4 2.2l1.4-3l1.4 2.7l1.4-2.1l1.4 0.7l1.4 1.9l1.4 2.1l1.4-3.9l1.4 3l1.4-0.4l1.4 0.1l1.4 0.8l1.4 2l1.4 1.4l1.4-1.5l1.4-1.3l1.4-0.5l1.5-1.9l1.4 0.2l1.4 3.2l1.4-2.8l1.4-0.6l1.4 0.7l1.4-0.7l1.4-0.4l1.4-0.7l1.4 0.5l1.4 2.1l1.4-0.4l1.4-1l1.4-1.5l1.4 0.8l1.4 0.4l1.4-1.9l1.4-1.1l1.4 1.3l1.4-1l1.4-0.7l1.4 0.9l1.4 0.2l1.4-1.6l1.4 2.6l1.4-0.7l1.4-0.8l1.4 0.8l1.4 1.5l1.4-1.1l1.4-3.5l1.4 0.8l1.4 2.1l1.4 0.7l1.4 1.9l1.4-0.6l1.4-1l1.4 1.3l1.4-1.1l1.4 1.9l1.4-2.1l1.4 3l1.4-0.8l1.4 0.7l1.4-0.9l1.4-1.6l1.4 1.1l1.4 0.6l1.4 0l1.4-0.1l1.4 0.1l1.4-1.4l1.4-2.3" stroke="#737373"/>
<path d="M672.3 501.9l1.4 6.3l1.4 9.2l1.4 14.7l1.4 11.6l1.4 3.7l1.4 3.9l1.4 3.3l1.4 4.4l1.4 6.8l1.4 3.4l1.4 5.4l1.4 4.8l1.4 4.4l1.4 3l1.4 3.9l1.4 4.7l1.4 2.9l1.4-3.9l1.4-2.8l1.4-3l1.4-3.1l1.4-0.1l1.4 2.1l1.4 5.6l1.4 9.8l1.4 8.8l1.4 8.3l1.4 4.5l1.4 2.8l1.4 6l1.4 3.5l1.4 4.4l1.4 5.3l1.4 1l1.5 1.9l1.4 0.2l1.4 4.5l1.4 2.9l1.4 1.9l1.4 2.5l1.4 2.9l1.4 0.9l1.4 0.6l1.4-0.4l1.4 0.2l1.4 1.3l1.4-0.3l1.4 0.7l1.4 1.1l1.4 1.2l1.4 0.6l1.4 0.5l1.4-0.4l1.4-0.5l1.4-1.3l1.4 2.9l1.4-0.1l1.4 2.8l1.4 3.3l1.4 1l1.4 0.2l1.4 3.1l1.4 1.4l1.4 1.3l1.4 3.2l1.4 1.8l1.4 3.8l1.4-2.7l1.4 1.5l1.4 2.2l1.4 2.1l1.4-1l1.4 2.5l1.4 0.1l1.4-0.3l1.4 1.1l1.4 1.2l1.4 0.3l1.4 0l1.4 0.9l1.4 2.1l1.4 0.6l1.4 1.4l1.4-2.4l1.4-0.7l1.4 3.8l1.4-1.2l1.4-0.4l1.4-1.3l1.4 1.4l1.4-0.1l1.4 0.1l1.4 1.5l1.5-1.7l1.4 0.5l1.4-1.5l1.4 2l1.4-1.1l1.4 2.7l1.4-2.2l1.4 2.8l1.4-1.3l1.4-1.3l1.4 2.4l1.4 0.9l1.4-1.6l1.4-0.6l1.4-1l1.4 1.9l1.4 1.3l1.4-2.7l1.4 1.6l1.4 1.9l1.4-3.8l1.4 1.9l1.4-0.1l1.4-1.9l1.4 0.2l1.4-1.8l1.4 1l1.4 1.7l1.4-2.1l1.4-0.9l1.4-2.1l1.4 4.4l1.4 1.1l1.4-2.9l1.4-0.1l1.4-0.2l1.4 1.4l1.4-3.2l1.4 1.4l1.4-2.4l1.4 2.4l1.4-1.1l1.4 1.8l1.4-0.7l1.4-2.1l1.4-1.1l1.4-0.7l1.4 3l1.4-0.4l1.4-2.4l1.4-1.1l1.4 1.6l1.4-0.2l1.4-1l1.4 0.5l1.4 0.7l1.4-0.8l1.4 0.2l1.5-0.9l1.4-0.2l1.4-0.7l1.4 1.2l1.4 0.1l1.4-0.6l1.4 0.5l1.4-0.6l1.4 0.1l1.4 0.8l1.4 0.4l1.4-2.8l1.4 0.9l1.4 0.4l1.4-1.5l1.4 1.1l1.4-0.5l1.4-0.5l1.4-1.5l1.4 0l1.4 1.6l1.4 2.1l1.4-1.8l1.4-2.2l1.4 3.9l1.4-0.2l1.4 0.1l1.4-2.4l1.4-0.2l1.4-1.1l1.4-2.5l1.4 0.1l1.4-0.4l1.4-1.6l1.4 1.8l1.4-1.9l1.4 0.8l1.4-1.3l1.4 0.3l1.4-0.1l1.4-3.4l1.4 1l1.4 1.3l1.4-1.2l1.4 1.6l1.4 0l1.4-2.5l1.4 0.1l1.4-0.1l1.4-1.7l1.4 2.1l1.4-0.9l1.4-1.4l1.4-1.2l1.4-0.8l1.4-0.7l1.4 1.4l1.4-2.2l1.5 1.5l1.4 1.7l1.4-3.3l1.4 0.5l1.4 2.7l1.4 0.3l1.4-0.3l1.4 1.5l1.4 1.4l1.4 1.5l1.4-0.4l1.4 1.2l1.4 1.2l1.4 1.4l1.4 0.2l1.4-1l1.4-0.1l1.4 3.2l1.4-1l1.4 0l1.4-0.2l1.4-0.1l1.4 1.2l1.4-1.6l1.4 0l1.4-0.6l1.4-0.8l1.4-1.8l1.4 0.1l1.4 1.4l1.4-1l1.4-0.9l1.4-0.2l1.4-1.1l1.4-0.1l1.4 0.9l1.4-1.3l1.4-1l1.4 2.4l1.4 0.5l1.4-1.1l1.4-1.3l1.4 1.9l1.4 0.2l1.4-1.9l1.4 0.2l1.4 0l1.4-0.9l1.4 4.2l1.4 2l1.4-3.1l1.4 2.8l1.4 1l1.4 1.1l1.4 2l1.4 1.3l1.4 0.5l1.4 0.3l1.5 2.2l1.4 3.2l1.4-1.7l1.4 1l1.4 2.2l1.4 0.5l1.4 1l1.4 2.6l1.4 0.5l1.4 0.2l1.4 0.2l1.4 0.1l1.4 2.3l1.4-0.2l1.4-0.2l1.4 0.8l1.4 1.6l1.4 2.4l1.4-0.7l1.4-0.2l1.4 3l1.4-1.5l1.4 0.9l1.4-0.5l1.4 0.3l1.4-2.2l1.4 1.4l1.4-0.9l1.4-0.8l1.4 1.7l1.4-0.2l1.4 0.1l1.4 1.2l1.4-3.2l1.4 1.7l1.4-1.5l1.4-0.4l1.4 1.9l1.4 0.1l1.4-2l1.4 2.2l1.4 1l1.4 1.5l1.4 0.5l1.4-0.7l1.4-2l1.4 1.3l1.4 1.5l1.4 0.4l1.4 0.4l1.4-0.4l1.4 0l1.4-0.9" stroke="#737373"/>
<path d="M672.3 517.3l1.4 51.2l1.4 3.5l1.4 5.5l1.4 5.9l1.4 5.5l1.4 6.6l1.4 5l1.4 3.1l1.4 5.2l1.4 5.3l1.4 5.5l1.4 3.2l1.4 3.2l1.4 2.6l1.4 4.7l1.4 4.2l1.4 1.5l1.4-2.7l1.4-3.2l1.4-6.4l1.4-4.2l1.4 1.5l1.4 3l1.4 6.6l1.4 9.8l1.4 7.5l1.4 8.7l1.4 5.3l1.4 5.9l1.4 3.8l1.4 4.5l1.4 4.6l1.4 0.9l1.4 5l1.5 0l1.4 3.6l1.4 3.8l1.4 0.9l1.4 2.6l1.4 3.1l1.4 1.3l1.4-1.2l1.4 3.8l1.4 2.7l1.4 0.4l1.4 0.9l1.4 1.7l1.4-0.2l1.4 2.7l1.4 3.5l1.4 0.8l1.4 0l1.4-2.1l1.4-1.4l1.4 0.3l1.4 0l1.4 1.2l1.4 1.1l1.4 3l1.4 0.9l1.4 2.5l1.4 3.5l1.4-0.5l1.4 3.7l1.4 0.9l1.4 0l1.4 2.5l1.4 2l1.4 3.9l1.4 1.5l1.4 2.2l1.4-1.5l1.4-0.2l1.4 1l1.4 2l1.4 0.5l1.4-0.4l1.4-0.8l1.4 3.6l1.4-2.7l1.4 1l1.4 1.1l1.4 1l1.4-1.1l1.4 2.6l1.4-0.5l1.4-1.3l1.4 0.1l1.4 1.2l1.4 0l1.4 2l1.4-1.6l1.4 1.1l1.5 2.3l1.4-1.4l1.4 0.6l1.4 0.1l1.4-3l1.4 2.9l1.4-1.1l1.4 1.1l1.4 0.9l1.4-0.1l1.4-0.4l1.4-1.5l1.4 2.3l1.4-0.2l1.4 0.2l1.4 1.1l1.4-1.9l1.4 1.7l1.4 0.7l1.4-2.7l1.4-2.4l1.4 3.6l1.4-0.9l1.4-0.7l1.4-0.5l1.4-1.3l1.4-0.5l1.4 0.7l1.4 0.5l1.4-0.7l1.4-0.7l1.4 1.4l1.4-1.1l1.4-1.5l1.4-0.1l1.4-0.1l1.4 2.6l1.4-0.8l1.4 1.5l1.4-0.2l1.4 1.3l1.4-0.7l1.4-0.7l1.4-2.4l1.4-2.8l1.4 1.3l1.4 1l1.4-1.5l1.4-0.5l1.4-0.3l1.4-0.4l1.4 2.3l1.4-0.7l1.4 0.3l1.4-0.4l1.4-1.1l1.4 2.3l1.4-2.1l1.5-1.4l1.4 2.2l1.4-0.6l1.4-1.5l1.4-0.6l1.4-0.5l1.4 0.3l1.4 2.5l1.4-0.6l1.4 1.9l1.4-1l1.4 1.5l1.4-1.7l1.4 0.5l1.4 0.1l1.4-0.3l1.4-0.3l1.4-0.9l1.4 0.1l1.4 1.7l1.4-1.8l1.4 0.9l1.4 0l1.4-1.3l1.4 0.1l1.4-1.3l1.4-0.8l1.4-1.3l1.4-0.9l1.4-0.7l1.4 2.3l1.4-2.2l1.4-1.6l1.4 0.1l1.4-4.5l1.4 1.5l1.4 0.8l1.4-0.3l1.4-1.5l1.4-0.7l1.4 1.5l1.4 0.9l1.4-0.8l1.4-1.5l1.4-0.4l1.4-1l1.4-1.7l1.4 1.3l1.4-0.7l1.4-1.5l1.4 1.9l1.4 0.1l1.4 0.3l1.4 0.3l1.4-1.3l1.4-0.2l1.4-0.6l1.4-2.2l1.5 1.4l1.4 1.2l1.4-0.2l1.4 1.2l1.4 1.3l1.4 1.7l1.4 0l1.4 1.8l1.4 0.9l1.4 0.1l1.4 1.5l1.4-0.1l1.4 1l1.4 2.1l1.4 1.7l1.4-2.1l1.4-1.4l1.4 2.6l1.4-2.1l1.4 0.3l1.4 0l1.4-0.4l1.4-0.9l1.4-1.5l1.4 2l1.4-1l1.4-1.7l1.4 0.6l1.4-0.5l1.4 2.8l1.4-1.4l1.4-2.4l1.4-0.2l1.4-0.8l1.4-0.5l1.4 0l1.4 1l1.4 0.7l1.4-0.4l1.4-0.6l1.4 0.9l1.4 1l1.4-1.4l1.4 2l1.4 0.9l1.4-2.5l1.4 0.7l1.4 1.1l1.4 2l1.4 2l1.4 0.9l1.4-1.2l1.4 2.1l1.4 1.4l1.4 3.5l1.4 0.4l1.4 0.3l1.4 1.3l1.5 1.3l1.4 0.1l1.4 1.9l1.4 1.4l1.4 1l1.4 0.8l1.4 2.6l1.4 1.1l1.4 2.3l1.4-1.4l1.4 0.4l1.4 0.7l1.4 3l1.4-1l1.4 1.7l1.4-4l1.4 1.2l1.4 4.2l1.4-2.1l1.4 0.9l1.4-1l1.4-0.9l1.4 2l1.4 0.6l1.4 0.3l1.4 3.1l1.4-2.3l1.4 0.3l1.4 2.1l1.4 0.8l1.4-1.9l1.4 1.3l1.4 0.1l1.4-1.6l1.4 1.9l1.4-0.5l1.4-0.5l1.4 0.2l1.4 1.1l1.4-3l1.4 1.6l1.4-0.4l1.4-1.3l1.4 0.9l1.4 0.9l1.4 0.6l1.4-1.3l1.4 0.8l1.4-0.1l1.4-1.3l1.4 1l1.4 1l1.4-1.7" stroke="#737373"/>
<path d="M672.3 592.6l1.4 8.1l1.4 6.6l1.4 7.5l1.4 7.7l1.4 8.6l1.4 8.1l1.4 10.1l1.4 6.5l1.4 9.3l1.4 5.6l1.4 5.9l1.4 7.2l1.4 2.5l1.4 5.4l1.4 3.7l1.4 5.7l1.4 2.7l1.4 4.8l1.4-0.2l1.4-2.8l1.4-9.1l1.4-1.8l1.4-4.7l1.4-0.1l1.4 6.7l1.4 10.6l1.4 8.9l1.4 7.4l1.4 9l1.4 5.1l1.4 3.3l1.4 7.4l1.4 2.9l1.4 2.5l1.5 2.4l1.4 1.7l1.4 1.1l1.4 2.4l1.4-0.6l1.4 3l1.4 0.1l1.4 3.4l1.4 1.3l1.4 2.4l1.4 0.5l1.4 1.2l1.4 0.6l1.4 1.5l1.4 3.2l1.4 0.3l1.4 0.7l1.4-1.8l1.4 2.6l1.4 0.6l1.4-1.7l1.4-0.4l1.4 1.5l1.4-0.4l1.4 1.7l1.4 0.9l1.4 0.9l1.4 1.1l1.4 4.2l1.4 1.5l1.4 3.3l1.4 1.7l1.4 2.2l1.4 1.6l1.4 0.3l1.4 1.5l1.4-0.3l1.4 4.3l1.4 1.8l1.4-0.3l1.4-0.3l1.4 1.4l1.4-0.3l1.4 0.7l1.4 2.7l1.4-1l1.4-1.1l1.4 1.5l1.4-0.1l1.4-1.1l1.4 1.8l1.4 1.7l1.4-1.1l1.4 2l1.4-1.3l1.4-1.9l1.4 2l1.4-0.7l1.4 1.8l1.5-1.1l1.4 0.6l1.4-0.2l1.4 0.9l1.4 0.4l1.4-0.4l1.4-1.4l1.4 2.8l1.4 0.7l1.4-2.9l1.4 2.6l1.4-1.1l1.4 0.3l1.4 0.8l1.4 0.9l1.4-1.8l1.4-1.3l1.4-0.2l1.4 0.4l1.4-2.4l1.4-0.4l1.4 0.3l1.4-0.8l1.4 0.5l1.4 0.1l1.4 0l1.4 1.3l1.4-2l1.4 0.6l1.4 0.5l1.4 1.3l1.4 1.3l1.4-2.9l1.4-0.3l1.4-0.8l1.4 0.1l1.4-0.6l1.4-0.7l1.4-1.1l1.4 0.3l1.4-2.2l1.4 2.6l1.4-1.7l1.4-1.9l1.4 2.3l1.4-0.9l1.4 1.8l1.4-3l1.4 0.2l1.4-1.8l1.4 0.2l1.4-0.9l1.4 0.3l1.4-0.4l1.4 0.4l1.4 2.5l1.4-1.5l1.4 0.8l1.5-1.1l1.4 1.3l1.4-2.1l1.4-0.1l1.4 2.3l1.4-0.5l1.4-2.5l1.4 1.9l1.4 0.1l1.4 1.8l1.4-0.1l1.4 1l1.4-0.2l1.4-1.1l1.4-1.3l1.4 0.4l1.4 0.4l1.4-2.4l1.4 3l1.4-1.9l1.4 1.8l1.4 0l1.4 1.2l1.4-2.2l1.4-2.1l1.4-0.5l1.4 0.6l1.4 0.7l1.4-3.2l1.4 1l1.4 0.6l1.4-3.2l1.4-1.6l1.4-0.6l1.4 1.7l1.4 2.9l1.4-2.5l1.4-2.4l1.4 2.4l1.4-3.6l1.4-0.4l1.4 2l1.4 0l1.4-2.8l1.4 1.4l1.4-1.4l1.4 0.7l1.4 0.3l1.4 0.3l1.4-0.7l1.4-2.7l1.4-0.4l1.4 0.8l1.4-0.3l1.4 0.5l1.4 0.6l1.4 0.9l1.4 1l1.5-2l1.4 0.4l1.4-2.9l1.4 1.8l1.4 1.5l1.4 0.7l1.4-0.2l1.4 1.3l1.4-0.5l1.4 0.7l1.4 1.1l1.4 2.5l1.4-0.4l1.4-1.1l1.4-0.8l1.4 1.5l1.4 0.3l1.4-0.4l1.4 0.7l1.4 1.4l1.4-0.6l1.4 0.4l1.4-2.1l1.4 1.1l1.4-0.3l1.4-0.2l1.4-1.8l1.4-0.6l1.4 0l1.4 0.4l1.4-2.2l1.4-1l1.4 1.1l1.4 1.5l1.4-0.6l1.4 0.7l1.4-2.9l1.4-0.6l1.4 1.8l1.4-0.3l1.4 1.6l1.4-1.2l1.4 0l1.4-0.3l1.4 1.3l1.4 0l1.4-0.5l1.4 1.1l1.4 0.1l1.4 0.5l1.4 0.9l1.4 2.1l1.4-0.2l1.4 1.6l1.4 0.2l1.4 0.2l1.4 2.7l1.4-0.4l1.5 0.6l1.4 3l1.4-1l1.4 2.7l1.4 1.5l1.4 4.2l1.4 0.4l1.4-0.6l1.4-0.7l1.4 4l1.4-1.1l1.4-1.6l1.4 4.2l1.4 0.1l1.4-0.9l1.4 1.2l1.4-0.6l1.4 0.9l1.4-0.7l1.4 1.7l1.4 0.9l1.4-1.2l1.4-1.5l1.4 1.1l1.4 3.3l1.4-3.4l1.4 1.5l1.4-0.5l1.4 0.6l1.4 0l1.4 0.9l1.4 0l1.4 1.5l1.4-1.5l1.4-0.7l1.4-0.1l1.4 1.9l1.4-2l1.4 2.5l1.4 1.6l1.4-2.6l1.4 1.6l1.4 2l1.4-0.6l1.4-1l1.4-1.6l1.4 1.4l1.4 0l1.4 0.5l1.4 0.3l1.4-0.5l1.4-0.7l1.4 0.2" stroke="#737373"/>
</g>
<path d="M672.4 865.4v4.3M686.1 865.4v4.3M699.9 865.4v4.3M713.6 865.4v4.3M727.4 865.4v4.3M741.1 865.4v4.3M754.9 865.4v4.3M768.6 865.4v4.3M782.4 865.4v4.3M796.1 865.4v4.3M809.9 865.4v4.3M823.6 865.4v4.3M837.4 865.4v4.3M851.1 865.4v4.3M864.9 865.4v4.3M878.6 865.4v4.3M892.4 865.4v4.3M906.1 865.4v4.3M919.9 865.4v4.3M933.6 865.4v4.3M947.4 865.4v4.3M961.1 865.4v4.3M974.9 865.4v4.3M988.6 865.4v4.3M1002.4 865.4v4.3M1016.1 865.4v4.3M1029.9 865.4v4.3M1043.7 865.4v4.3M1057.4 865.4v4.3M1071.2 865.4v4.3M1084.9 865.4v4.3M1098.7 865.4v4.3M1112.4 865.4v4.3M1126.2 865.4v4.3M1139.9 865.4v4.3M1153.7 865.4v4.3M1167.4 865.4v4.3M1181.2 865.4v4.3M1194.9 865.4v4.3M1208.7 865.4v4.3" stroke="#000" stroke-width="1.5" fill="none"/>
<path d="M672.4 865.4v8.2M809.9 865.4v8.2M947.4 865.4v8.2M1084.9 865.4v8.2" stroke="#000" stroke-width="1.7" fill="none"/>
<text x="673.6" y="908.9" font-size="32.5" text-anchor="middle">100</text>
<text x="811.1" y="908.9" font-size="32.5" text-anchor="middle">300</text>
<text x="948.6" y="908.9" font-size="32.5" text-anchor="middle">500</text>
<text x="1086.1" y="908.9" font-size="32.5" text-anchor="middle">700</text>
<text x="944.7" y="960.4" font-size="33.5" text-anchor="middle">Raman shift (cm<tspan font-size="24.5" dy="-12.8">–1</tspan><tspan dy="12.8">)</tspan></text>
<text x="634.4" y="31" font-size="40" font-weight="bold">b</text>
<text x="942.7" y="53.8" font-size="29.3" text-anchor="middle" fill="#fb0d14">Pure CO<tspan font-size="20.8" dy="7.6">2</tspan></text>
<text x="942" y="96.2" font-size="29.3" text-anchor="middle">0.1 M KHCO<tspan font-size="20.8" dy="7.6">3</tspan><tspan dy="-7.6"> in H</tspan><tspan font-size="20.8" dy="7.6">2</tspan><tspan dy="-7.6">O</tspan></text>
<path d="M770 126.2H782.6M776.3 126.2V162.2M770 162.2H782.6" stroke="#000" stroke-width="4" stroke-linejoin="round" fill="none"/>
<text x="788.7" y="155.3" font-size="29.3">500 a.u.</text>
<text x="1169.6" y="233.6" font-size="29.3" text-anchor="middle" fill="#737373">–0.8 V</text>
<text x="1169.6" y="328.7" font-size="29.3" text-anchor="middle" fill="#737373">–0.6 V</text>
<text x="1169.6" y="449.4" font-size="29.3" text-anchor="middle" fill="#737373">–0.4 V</text>
<text x="1169.6" y="534.8" font-size="29.3" text-anchor="middle" fill="#737373">–0.2 V</text>
<text x="1169.6" y="653.1" font-size="29.3" text-anchor="middle" fill="#737373">0 V</text>
<text x="1169.6" y="730.4" font-size="29.3" text-anchor="middle" fill="#737373">0.2 V</text>
<text x="1169.6" y="781.5" font-size="29.3" text-anchor="middle" fill="#737373">0.4 V</text>
<text x="1169.6" y="829.6" font-size="29.3" text-anchor="middle" fill="#737373">ocp</text>
<path d="M704 571.4V760.7" stroke="#000" stroke-width="3.2" stroke-dasharray="8 4.7" fill="none"/>
<text x="705.7" y="789.2" font-size="29.3" text-anchor="middle">146</text>
<path d="M754.5 646.4V805.4" stroke="#000" stroke-width="3.2" stroke-dasharray="8 4.7" fill="none"/>
<text x="753.8" y="834" font-size="29.3" text-anchor="middle">219</text>
<path d="M851.9 428.6V639.7" stroke="#000" stroke-width="3.2" stroke-dasharray="8 4.7" fill="none"/>
<text x="852" y="667.6" font-size="29.3" text-anchor="middle">360</text>
<path d="M887.2 675V822.9" stroke="#000" stroke-width="3.2" stroke-dasharray="8 4.7" fill="none"/>
<text x="887.2" y="851.4" font-size="29.3" text-anchor="middle">412</text>
<path d="M967.2 664.9V814.5" stroke="#000" stroke-width="3.2" stroke-dasharray="8 4.7" fill="none"/>
<text x="967.2" y="843" font-size="29.3" text-anchor="middle">528</text>
<path d="M1029.7 668.2V817.8" stroke="#000" stroke-width="3.2" stroke-dasharray="8 4.7" fill="none"/>
<text x="1029.7" y="844.7" font-size="29.3" text-anchor="middle">619</text>
<rect x="1299.9" y="17.9" width="669.3" height="847.5" fill="none" stroke="#000" stroke-width="1.5"/>
<clipPath id="cc"><rect x="1299.2" y="17.1" width="670.8" height="849"/></clipPath>
<g clip-path="url(#cc)" fill="none" stroke-width="4.5" stroke-linejoin="round" stroke-linecap="round">
<path d="M1300.5 182.1l1.4-2.7l1.4 3.5l1.4 1.3l1.4-1.6l1.4 1l1.4-0.1l1.4-3.7l1.4 1.3l1.4 2.7l1.4-0.8l1.4-2.8l1.4 3.8l1.4-2.2l1.4-0.1l1.4 0.6l1.5 2.3l1.4 7.1l1.4-1.1l1.4 2.7l1.4-2.4l1.4-0.3l1.4-2.3l1.4 3.3l1.4 2.3l1.4-1.8l1.4-0.3l1.4-0.6l1.4-0.8l1.4-0.3l1.4 0.2l1.4-4.7l1.4-0.7l1.4 0.8l1.4-2.8l1.4 6l1.4 0l1.4-2.2l1.4-1.4l1.4-2.3l1.4 2.1l1.4 0.4l1.4-1.8l1.4-0.3l1.4 1.3l1.4-2.1l1.4 1.1l1.4-2.5l1.4 2.7l1.4-1.5l1.4 0.6l1.4-0.1l1.4 1.7l1.4-1.5l1.4 1.6l1.4 2.1l1.4-0.3l1.4-3.8l1.4 3.4l1.5 1.2l1.4-2.2l1.4-1.3l1.4 2.4l1.4 5.1l1.4-6.2l1.4-0.4l1.4 0.9l1.4 3.3l1.4-2.4l1.4 4.6l1.4-1.8l1.4-1.8l1.4 0.6l1.4 0.4l1.4 3.6l1.4-3.3l1.4 0.3l1.4 1.8l1.4 0l1.4 0.1l1.4 2.8l1.4-2.5l1.4-1.2l1.4 0.2l1.4 3.3l1.4-2.2l1.4 2.2l1.4-2.2l1.4 3.9l1.4 0.8l1.4-1.3l1.4 2.6l1.4 1.2l1.4-1.7l1.4 3l1.4-1.2l1.4 1.5l1.4-1.4l1.4-0.2l1.4-1l1.4 1.4l1.4-1l1.4 0.2l1.5 1l1.4-3.5l1.4 5.8l1.4-1.8l1.4-4.1l1.4-0.2l1.4 1.2l1.4 0l1.4 0.5l1.4-0.7l1.4 1.8l1.4-0.8l1.4-2.1l1.4-1l1.4 1.1l1.4 2.2l1.4 1.1l1.4-3.4l1.4 2.3l1.4-0.3l1.4 6.5l1.4-0.9l1.4 0l1.4-3.5l1.4 0l1.4 5.4l1.4 1.8l1.4-0.4l1.4 2.5l1.4 3.5l1.4-1.5l1.4-3.5l1.4-0.3l1.4-0.4l1.4-0.3l1.4 0.5l1.4-0.9l1.4 2.9l1.4 2.8l1.4 0.5l1.4-1.5l1.4 1.2l1.4-1.6l1.5 3.8l1.4-2.6l1.4-0.9l1.4-2.1l1.4 5l1.4-0.7l1.4-2.4l1.4-0.9l1.4 3.4l1.4-2.4l1.4-1l1.4 0.3l1.4 3.2l1.4-3.4l1.4-1l1.4 2.2l1.4-2.9l1.4 4.6l1.4-3l1.4 0.7l1.4-0.2l1.4-2.8l1.4-3.1l1.4 0.5l1.4-3.3l1.4-1.8l1.4-2.7l1.4-7.8l1.4-3.8l1.4-1.7l1.4 1.3l1.4 8l1.4 5.3l1.4 4.3l1.4 4.3l1.4 6.5l1.4-1.7l1.4 2.2l1.4 3.5l1.4-2.3l1.4-0.2l1.4 1.2l1.4-1.7l1.5 0.3l1.4-0.9l1.4 2.3l1.4 0.9l1.4 0l1.4 2.3l1.4 3.4l1.4 2.4l1.4 0.7l1.4-4.1l1.4-1.9l1.4 2.4" stroke="#737373"/>
<path d="M1300.5 221.8l1.4-2.6l1.4 1.1l1.4 0.4l1.4 0.4l1.4-0.6l1.4 0.7l1.4 2.7l1.4 2.3l1.4 2.2l1.4 0.3l1.4-0.3l1.4-2.6l1.4-1.6l1.4 4.4l1.4-3l1.5-0.7l1.4 0.5l1.4 0.3l1.4 0.5l1.4 0.8l1.4 2.8l1.4 0.2l1.4-1.7l1.4 1.3l1.4-2.7l1.4 2.2l1.4-5.2l1.4 4.6l1.4-2.2l1.4 0l1.4 3l1.4 1.8l1.4-5.1l1.4-1.6l1.4 0.6l1.4-1.7l1.4 4.8l1.4-0.3l1.4 0.3l1.4 2.9l1.4-3.2l1.4 2.4l1.4-0.7l1.4-1.4l1.4 1l1.4-4.9l1.4 3.9l1.4 2.9l1.4-1.5l1.4 0.1l1.4-0.3l1.4-1.8l1.4 1.2l1.4 2.2l1.4 0l1.4-3.4l1.4 7l1.4-2.3l1.5-1.1l1.4 0.1l1.4 0l1.4 2l1.4-0.4l1.4 0.3l1.4-1.3l1.4-2.4l1.4 2l1.4 1.3l1.4-2.2l1.4 2.9l1.4-2.4l1.4 0.8l1.4 3l1.4-0.4l1.4 2.8l1.4 0.7l1.4-0.7l1.4-1.9l1.4 1.1l1.4 0l1.4 2l1.4 0.1l1.4 0.7l1.4-1.4l1.4 1.7l1.4 4.4l1.4-4.4l1.4 0.4l1.4 4.3l1.4 1.2l1.4 2.4l1.4 2.1l1.4 1.1l1.4-1.9l1.4 0.8l1.4 0.4l1.4-1.4l1.4-0.9l1.4-0.3l1.4-0.2l1.4 3.4l1.4 2.1l1.5 1.3l1.4-1.6l1.4-0.4l1.4 0.3l1.4-1.9l1.4-0.3l1.4 0.8l1.4 1.6l1.4-5.8l1.4-0.2l1.4 3.4l1.4 0.8l1.4-1.1l1.4-2.4l1.4 3.1l1.4-1.8l1.4 2.2l1.4 1.8l1.4 0.7l1.4-4.2l1.4 5.8l1.4 0.4l1.4 4.1l1.4-0.9l1.4 1.3l1.4-0.1l1.4-0.2l1.4 1.1l1.4 0.1l1.4-1.8l1.4 1.6l1.4 5.4l1.4 0l1.4-1.8l1.4 2l1.4-3.3l1.4 2.2l1.4 2.4l1.4-2.5l1.4-2l1.4-0.2l1.4 2.4l1.4-1.8l1.5-2.9l1.4 2.6l1.4 1.6l1.4-0.6l1.4-0.6l1.4 4.3l1.4-6.2l1.4 0.2l1.4 0.4l1.4 3.7l1.4-1.5l1.4-2.8l1.4 2.6l1.4-5.5l1.4 3.7l1.4-0.6l1.4-1.1l1.4-2.8l1.4 0.4l1.4 1.8l1.4-0.9l1.4-0.8l1.4-1.8l1.4 1.9l1.4-3.5l1.4-2l1.4-2.5l1.4-6.8l1.4-5.7l1.4-8.1l1.4 3l1.4 9l1.4 6.6l1.4 3.3l1.4 0.9l1.4 3.4l1.4 5.4l1.4 1l1.4-0.6l1.4 3.4l1.4 6.5l1.4 0.4l1.4 1.3l1.5-2.4l1.4 0.7l1.4 0.8l1.4 3.8l1.4-0.2l1.4-1.8l1.4 5.1l1.4-0.5l1.4-0.8l1.4 3.4l1.4-5.4l1.4-3.5" stroke="#3b82ad"/>
<path d="M1300.5 286.8l1.4 3l1.4-3.3l1.4-1.3l1.4 2.2l1.4 3.9l1.4-0.4l1.4-0.3l1.4-0.4l1.4 1.5l1.4 3l1.4-3.5l1.4 2.6l1.4-1.7l1.4 3.9l1.4 2.9l1.5-3.9l1.4-0.3l1.4-0.2l1.4 1.6l1.4 0.3l1.4-1.1l1.4 1.7l1.4 0.6l1.4 0.6l1.4-0.5l1.4-3.5l1.4-0.2l1.4-1.2l1.4-1.9l1.4-1.4l1.4 0.6l1.4 1.4l1.4 0.9l1.4-6.2l1.4 3.2l1.4-1.6l1.4 1.9l1.4-0.5l1.4 0.6l1.4-2.2l1.4 1.7l1.4 0.2l1.4-2.7l1.4 2.2l1.4-1l1.4-2.9l1.4 2.7l1.4-0.4l1.4 2.9l1.4-2.4l1.4-0.6l1.4 2.6l1.4 1.3l1.4 0.2l1.4-3.4l1.4 1.8l1.4-4.7l1.4 3.5l1.5-3.3l1.4 4.3l1.4-0.6l1.4-1.9l1.4 5.4l1.4 0.7l1.4 0.7l1.4 1.9l1.4 0.1l1.4-0.1l1.4-0.3l1.4 1.8l1.4-5.6l1.4-2.3l1.4 2.2l1.4 1.8l1.4-0.1l1.4 3.6l1.4-5l1.4 1.3l1.4 1.7l1.4 1.3l1.4-2.3l1.4-0.9l1.4-1.3l1.4 2.8l1.4-0.6l1.4-4.9l1.4 5.3l1.4 1.4l1.4 0.7l1.4 1.5l1.4 3.5l1.4-2.9l1.4-3.1l1.4 6.2l1.4 3.5l1.4-4.1l1.4-1.9l1.4 0.6l1.4-1.3l1.4 1.1l1.4 0.3l1.4 2l1.5-3.7l1.4 1.4l1.4 0.6l1.4 0.4l1.4-1.5l1.4-0.3l1.4 4.9l1.4-2.7l1.4-3.2l1.4-1.7l1.4 1l1.4-1.3l1.4 0.3l1.4-0.8l1.4 1.2l1.4 2l1.4 2.9l1.4 0.4l1.4 0.3l1.4 0.2l1.4 3.1l1.4-1.3l1.4-0.3l1.4 3.5l1.4-0.2l1.4 0.2l1.4 1.3l1.4 1.4l1.4 2.2l1.4-2.5l1.4 2.7l1.4 0.6l1.4-0.1l1.4 2l1.4-0.4l1.4 1.6l1.4-1.8l1.4-0.4l1.4-2.3l1.4 1.9l1.4 2.5l1.4 2.5l1.4-2.9l1.5-0.1l1.4-2.5l1.4 2.3l1.4 1.7l1.4-1.8l1.4 3.2l1.4-2.4l1.4 0.6l1.4-4.2l1.4-1.4l1.4 4.6l1.4-2.8l1.4-2.6l1.4 4.2l1.4-3.4l1.4-2l1.4 1.8l1.4-0.9l1.4-2.1l1.4 0.1l1.4-4.6l1.4-1.1l1.4-3.5l1.4-0.5l1.4 3.4l1.4-8.6l1.4-5.4l1.4-6.5l1.4-0.7l1.4 0.2l1.4 9.8l1.4 6.3l1.4 2.9l1.4 7.3l1.4 3.4l1.4 8.3l1.4 1.3l1.4 3.3l1.4-6.5l1.4-0.6l1.4 0.6l1.4 1.9l1.4 6.6l1.5 2.9l1.4-3l1.4-0.7l1.4-0.9l1.4-3.2l1.4 1l1.4 1.6l1.4 3l1.4 4.7l1.4 0.5l1.4-1.8l1.4-1.8" stroke="#737373"/>
<path d="M1300.5 347.2l1.4 3.2l1.4 3.5l1.4-6.4l1.4 3.5l1.4 0.7l1.4 0l1.4 0.2l1.4 0.8l1.4-2.9l1.4 1.4l1.4 0.3l1.4-1.1l1.4 4.5l1.4 1.4l1.4-3.5l1.5 1.7l1.4 0.6l1.4 2.1l1.4-4.7l1.4-1.9l1.4 3l1.4-4.1l1.4 1.8l1.4-1.4l1.4-3.6l1.4 4.7l1.4-3.2l1.4 0.4l1.4-0.7l1.4 4.2l1.4-1.2l1.4-4.9l1.4-1.7l1.4 0.9l1.4-1.9l1.4 0.3l1.4-1.7l1.4-0.8l1.4 1.7l1.4 0.4l1.4-5.2l1.4 3.8l1.4-4.3l1.4-0.3l1.4-1.9l1.4-2.1l1.4 6.9l1.4-8.6l1.4 1.8l1.4 0.7l1.4-1.9l1.4-2.3l1.4 4.2l1.4 0.6l1.4-0.3l1.4-5l1.4 0.7l1.4 7.1l1.5-5.6l1.4 1.5l1.4 5l1.4-0.6l1.4 2.6l1.4-1.2l1.4-0.8l1.4-1.4l1.4 0.8l1.4 1.4l1.4 1.5l1.4-4.5l1.4-0.2l1.4-1.2l1.4 4.1l1.4-0.2l1.4-2l1.4 2.4l1.4 3.3l1.4 0.8l1.4-1.7l1.4-8.1l1.4 4.8l1.4 1.7l1.4 3.2l1.4 0.3l1.4-1.5l1.4 3.2l1.4-2.1l1.4 1.8l1.4 1.8l1.4 1.3l1.4 0.9l1.4 0.7l1.4-4l1.4 0.9l1.4-2.5l1.4 2.7l1.4 2.5l1.4 3l1.4-2.5l1.4 1.6l1.4-4.4l1.4-3.3l1.5 3.2l1.4-1.5l1.4-0.1l1.4 4.2l1.4-4.1l1.4 0.9l1.4 1.5l1.4-3.9l1.4-1.9l1.4 2.6l1.4-0.7l1.4 4.5l1.4-0.7l1.4 1l1.4 0.9l1.4-0.5l1.4-0.7l1.4 1.6l1.4 1.6l1.4-0.6l1.4 2.2l1.4-1.2l1.4 3.7l1.4-2.9l1.4 2l1.4-0.5l1.4 0.2l1.4 2.3l1.4 2.1l1.4-0.4l1.4 4.1l1.4 2l1.4-0.2l1.4 1.6l1.4 1.7l1.4-3.2l1.4-0.7l1.4-0.9l1.4 0.8l1.4-0.3l1.4-0.5l1.4-0.4l1.4-0.1l1.5 1.5l1.4-0.8l1.4 2l1.4 0.4l1.4 0.9l1.4-4.5l1.4 1.7l1.4-0.6l1.4-0.1l1.4 2.1l1.4-2.1l1.4-1.7l1.4-4l1.4 3.9l1.4 3.7l1.4-2.7l1.4-2.2l1.4-0.2l1.4-0.7l1.4 0.3l1.4-1.4l1.4-0.2l1.4-4.4l1.4-4.8l1.4-4l1.4-6l1.4-6.4l1.4-8.2l1.4-5l1.4-2.1l1.4 7.3l1.4 13.9l1.4 14.8l1.4 5.9l1.4 2.5l1.4 1.8l1.4-0.5l1.4 3.4l1.4 4.7l1.4-2.1l1.4 2.4l1.4 2.2l1.4-0.4l1.5 2.6l1.4-0.5l1.4 0.5l1.4 6l1.4-1.6l1.4-1.2l1.4 4.3l1.4 3.1l1.4 0.2l1.4-0.3l1.4-1.3l1.4-0.9" stroke="#3b82ad"/>
<path d="M1300.5 399.9l1.4 3.2l1.4-4.1l1.4 1.4l1.4 0.9l1.4 2l1.4-0.9l1.4 6.4l1.4 0l1.4-2.7l1.4 5.1l1.4-0.7l1.4-1.9l1.4 0.2l1.4 4.7l1.4 0.2l1.5-2.3l1.4 1.5l1.4-3.9l1.4 5.2l1.4-0.3l1.4-1l1.4 0.1l1.4 3.3l1.4-6.9l1.4 7.3l1.4 0.1l1.4-4.9l1.4 0.1l1.4-5.7l1.4-1.4l1.4-1.6l1.4 2.7l1.4-3.3l1.4-1.4l1.4 0.7l1.4 4.7l1.4-4.1l1.4 1.8l1.4 4.1l1.4 0.6l1.4-4l1.4-1.5l1.4 2.6l1.4-2.2l1.4 1.5l1.4 3.3l1.4-3.2l1.4-0.6l1.4-2.5l1.4 3.5l1.4 1.4l1.4-1.5l1.4-6.5l1.4 3.4l1.4 1.8l1.4-1.3l1.4-1.1l1.4 0l1.5 3l1.4-2l1.4-0.4l1.4 1.6l1.4-1l1.4 0.2l1.4-0.7l1.4 4.9l1.4-2.3l1.4 2.6l1.4 0.7l1.4 1.5l1.4 0l1.4 1.2l1.4 0l1.4 1l1.4 1.4l1.4 1.7l1.4-2.8l1.4 1.3l1.4-4.3l1.4 3.7l1.4 1.4l1.4 1.7l1.4 1.3l1.4 4.8l1.4-0.8l1.4-0.6l1.4 3l1.4 1.1l1.4-4.8l1.4 1.9l1.4-1.2l1.4 5.2l1.4 0.5l1.4 0.5l1.4-3.1l1.4 5l1.4 0.2l1.4 1.7l1.4 0.2l1.4-0.5l1.4-2.2l1.4 1.4l1.5-1.4l1.4 1.5l1.4-3.2l1.4 0.1l1.4 3.2l1.4-2.4l1.4 3.1l1.4 1.3l1.4-1.2l1.4-2.3l1.4 1l1.4-0.4l1.4 0l1.4-3.8l1.4 0.2l1.4 7.6l1.4-4l1.4-1.2l1.4 0.4l1.4 4.5l1.4 0.9l1.4 2.9l1.4 2l1.4 1.8l1.4 0.3l1.4-3.9l1.4 3.6l1.4 2.9l1.4 1.6l1.4 0.6l1.4-1.9l1.4 0.7l1.4-2.2l1.4 5.5l1.4-0.4l1.4-1.3l1.4-0.7l1.4-1.7l1.4-1.2l1.4 2.2l1.4 0.6l1.4-2.4l1.4-1.3l1.5 0.6l1.4 1l1.4 2.4l1.4 0.2l1.4-3.7l1.4-1.3l1.4 1.1l1.4 2.3l1.4-5.2l1.4 0.7l1.4-0.2l1.4 3.1l1.4-3.7l1.4-0.1l1.4-1.4l1.4 0.6l1.4-1.2l1.4 0.2l1.4-1.4l1.4-1.6l1.4-1.2l1.4-9.9l1.4-9.1l1.4-10.5l1.4-15.6l1.4-15.8l1.4-8.7l1.4-4.9l1.4-3l1.4 2.8l1.4 3.7l1.4 10.7l1.4 10.2l1.4 12.6l1.4 6.7l1.4 4.9l1.4 3.3l1.4 4.4l1.4 6.3l1.4-0.5l1.4 6.4l1.4-0.7l1.4 1l1.5 5l1.4 1.2l1.4 6.7l1.4 0.2l1.4 3.1l1.4 1.4l1.4 2.4l1.4 7.2l1.4 2.4l1.4-0.6l1.4 3.3l1.4 3.1" stroke="#737373"/>
<path d="M1300.5 488.5l1.4-1.8l1.4-1.2l1.4-1.9l1.4 2.6l1.4 0.8l1.4 1.2l1.4 6.3l1.4-2l1.4 0.6l1.4 1.9l1.4 0.9l1.4-0.6l1.4-0.3l1.4 5.2l1.4-1.4l1.5-3.5l1.4 3.3l1.4 0.3l1.4-0.3l1.4-0.3l1.4 4l1.4 1.3l1.4-5.7l1.4-2.2l1.4-1l1.4-2.5l1.4-0.1l1.4-0.4l1.4-2.2l1.4-0.2l1.4 0.2l1.4 0.3l1.4-2.6l1.4-2.5l1.4-1l1.4-0.5l1.4-3l1.4-1.3l1.4-0.1l1.4-0.1l1.4-0.5l1.4 0.1l1.4 6.7l1.4 0.1l1.4-0.6l1.4-0.8l1.4 2.3l1.4-0.4l1.4-4.4l1.4 0.6l1.4 1.5l1.4-2.9l1.4-1.5l1.4 1l1.4 7.9l1.4-1.7l1.4 0.2l1.4-0.1l1.5-0.5l1.4 3.9l1.4-3.6l1.4 1.5l1.4 4.5l1.4-3.8l1.4-0.3l1.4-1.2l1.4-2.9l1.4-0.2l1.4 2.7l1.4-2.7l1.4-0.5l1.4-3.3l1.4-2.7l1.4 5.7l1.4-3.3l1.4 0.5l1.4 0.9l1.4 3.9l1.4-5l1.4 3.1l1.4-3.7l1.4 4.2l1.4 3.3l1.4-1.4l1.4-1l1.4-1.5l1.4-1l1.4-3.8l1.4 5.6l1.4-4.1l1.4 0.3l1.4-0.5l1.4 0.3l1.4-1.6l1.4 0.9l1.4-1.3l1.4-0.1l1.4 1.7l1.4 4.6l1.4 4.5l1.4-4.7l1.4 2l1.5-1.8l1.4 3.6l1.4-1.2l1.4 6.3l1.4-5l1.4 3.5l1.4-1.2l1.4 0.6l1.4 1.2l1.4-2.8l1.4 2.2l1.4-2.9l1.4 1.3l1.4 0.3l1.4-4.6l1.4 3l1.4 3.4l1.4 0.5l1.4 2.5l1.4 0.8l1.4 1.1l1.4 2.4l1.4 0.3l1.4 0l1.4 2.6l1.4-1.4l1.4 2.4l1.4-0.5l1.4 1.8l1.4 1l1.4 2.5l1.4-2.8l1.4 3.9l1.4 1.5l1.4 1.9l1.4 1.3l1.4 3.7l1.4 0.1l1.4-1.1l1.4-3.4l1.4 0.4l1.4-0.2l1.4-2.5l1.5 0.4l1.4-3.5l1.4-1.5l1.4 1.8l1.4-0.1l1.4-1.8l1.4-0.1l1.4 2.6l1.4-4.3l1.4 1.2l1.4-4l1.4 1.7l1.4 1.8l1.4-1.5l1.4-3.5l1.4 4.1l1.4-5.1l1.4-3l1.4 1.5l1.4-3.1l1.4-2.2l1.4-6l1.4-7.1l1.4-10.8l1.4-10.5l1.4-10.9l1.4-12l1.4-14.6l1.4-8.4l1.4 1.8l1.4 7.6l1.4 6.5l1.4 12l1.4 10l1.4 8l1.4 11.4l1.4 3.4l1.4 7.9l1.4 5l1.4 7.9l1.4 0.8l1.4-0.2l1.4 2.7l1.5-1.9l1.4-2.5l1.4 1.5l1.4 2.3l1.4 5.8l1.4 3.3l1.4 1.3l1.4 2.5l1.4 5.2l1.4-0.9l1.4-0.3l1.4 4.9" stroke="#3b82ad"/>
<path d="M1300.5 534.5l1.4 2.5l1.4 0.5l1.4-0.1l1.4 1.2l1.4 0.9l1.4 3l1.4 2.3l1.4-0.8l1.4 1.3l1.4 1.7l1.4 5.9l1.4 1.4l1.4-4.1l1.4-5l1.4-1.6l1.5 1.6l1.4-1.2l1.4-0.9l1.4 2.7l1.4-0.1l1.4-2.3l1.4 1.6l1.4-0.3l1.4 0.7l1.4-1.8l1.4-2.6l1.4-3.3l1.4 0.8l1.4-1.4l1.4-3.1l1.4 2l1.4 3.6l1.4-6.9l1.4-1.1l1.4-2.8l1.4 2.7l1.4 0.9l1.4 1.4l1.4-4.7l1.4 0.5l1.4-2.8l1.4-1l1.4-0.2l1.4-3.7l1.4 0.6l1.4 0.5l1.4 5.7l1.4 0.5l1.4 0.4l1.4-0.8l1.4-2.9l1.4 0.4l1.4-0.8l1.4-2.6l1.4 0.6l1.4 3.2l1.4 0.4l1.4-3.8l1.5-1l1.4-3.5l1.4 2.1l1.4-2.2l1.4-0.3l1.4 2.7l1.4-3.9l1.4 3.8l1.4-1.5l1.4 1.7l1.4 0.2l1.4-3.1l1.4-0.1l1.4-1.4l1.4 0.4l1.4-1.8l1.4-2.2l1.4 2.1l1.4-0.4l1.4-0.4l1.4-3.6l1.4-2.7l1.4 2.5l1.4-1.3l1.4-0.7l1.4 2.9l1.4-0.1l1.4-3.6l1.4-1.9l1.4 2.7l1.4 0.9l1.4 2l1.4 2.8l1.4-1.1l1.4-0.6l1.4-3.5l1.4 0.8l1.4 4l1.4-0.9l1.4-2.2l1.4 2.4l1.4-2.2l1.4 1.1l1.4 0.5l1.5 3.3l1.4-0.8l1.4 2.7l1.4 2.5l1.4-1.4l1.4-0.2l1.4 0l1.4 5.5l1.4-2l1.4 1.2l1.4-0.2l1.4-0.7l1.4 1.7l1.4-1.6l1.4 6.4l1.4-0.5l1.4 2.1l1.4 3.1l1.4 1.6l1.4 4.4l1.4-1.3l1.4 5.4l1.4 5.7l1.4 1.1l1.4 2.8l1.4 5.9l1.4-0.1l1.4-1.9l1.4 5l1.4 2.1l1.4-1.7l1.4 5.4l1.4 2.2l1.4-0.8l1.4-2.4l1.4 4.2l1.4 3.9l1.4-2.1l1.4-1.4l1.4 1.1l1.4 0.3l1.4 2.2l1.4 2.6l1.5-4.8l1.4 0.1l1.4 0.6l1.4-3l1.4 0.1l1.4-2l1.4 0.6l1.4-1.3l1.4 2.7l1.4 6.7l1.4 3.2l1.4-4.8l1.4-5.5l1.4-6.7l1.4-0.7l1.4-0.8l1.4 4.9l1.4-4.4l1.4-2.1l1.4-2.8l1.4-7l1.4-6.6l1.4-6.9l1.4-8.2l1.4-10.5l1.4-13.6l1.4-12.1l1.4-9.9l1.4-5.1l1.4 1l1.4 2.3l1.4 7l1.4 8.9l1.4 8.4l1.4 7.6l1.4 6.3l1.4 4.9l1.4 3.8l1.4 3.6l1.4 3.5l1.4 6.3l1.4-2.2l1.4 1.6l1.5 1.5l1.4 2.6l1.4 5.8l1.4 3l1.4 2.7l1.4 1.4l1.4 1.7l1.4 2.4l1.4-0.2l1.4 1.2l1.4-3.7l1.4 2.6" stroke="#737373"/>
<path d="M1300.5 581.4l1.4-3.3l1.4-1.1l1.4 1.4l1.4 0.2l1.4 1.1l1.4 0.6l1.4 4.3l1.4-2l1.4 0.9l1.4 0.5l1.4 0.4l1.4 2.7l1.4 3.7l1.4-2.6l1.4-2.8l1.5 2.6l1.4 3.9l1.4-2.2l1.4 0.4l1.4 1.6l1.4-2l1.4-5.8l1.4 4l1.4 0l1.4 0.5l1.4-0.3l1.4 2.9l1.4 2.2l1.4-2.5l1.4-3.2l1.4-0.8l1.4 3.8l1.4-3.8l1.4-3.1l1.4 1.9l1.4-3.8l1.4-1l1.4-1.7l1.4 2.2l1.4-0.1l1.4 2.7l1.4-2.9l1.4-1.7l1.4-2l1.4 2.9l1.4-1.6l1.4 0.3l1.4-1.8l1.4 4l1.4-4.8l1.4-1.4l1.4 4.4l1.4 1.7l1.4 1.2l1.4 2.6l1.4-0.2l1.4-0.5l1.4 1.2l1.5-3.8l1.4 1.4l1.4-2.9l1.4 0.5l1.4-6.9l1.4 1.3l1.4 2.8l1.4 0.5l1.4-3.1l1.4-3.3l1.4 3.3l1.4 1.6l1.4-7.4l1.4 1.4l1.4 1.1l1.4-0.7l1.4-4.1l1.4 1.8l1.4-1.1l1.4-1.9l1.4 1.2l1.4 1.2l1.4-2l1.4 4.5l1.4-3.6l1.4 5.5l1.4-4.7l1.4 3.4l1.4-4.5l1.4 1.1l1.4 1.9l1.4-3.1l1.4 1.5l1.4-2.1l1.4 0.2l1.4 2.1l1.4 0.2l1.4 0.7l1.4 1.1l1.4 3.8l1.4-2.5l1.4-1.8l1.4-0.6l1.4 2.4l1.5 4.1l1.4 1l1.4 5.1l1.4-1.3l1.4-2.5l1.4 0.4l1.4 3.7l1.4 2.2l1.4-0.4l1.4-0.2l1.4 0.3l1.4 2.8l1.4 0l1.4-3l1.4 4.4l1.4-2.4l1.4 3.4l1.4 6.2l1.4-0.1l1.4-6.3l1.4 1.5l1.4 0.8l1.4 4.7l1.4 1.4l1.4 3.8l1.4 2.2l1.4 4.7l1.4-0.3l1.4 0.9l1.4 0.9l1.4-2.2l1.4 5.5l1.4 0.9l1.4-2.2l1.4 6.5l1.4 0.5l1.4 3.4l1.4-1l1.4-1l1.4 1l1.4 0.7l1.4 3.5l1.4 0.8l1.5 5l1.4-1.5l1.4 0.6l1.4 1.6l1.4-3.6l1.4-2.2l1.4 5.1l1.4-6.5l1.4-1.6l1.4 2.1l1.4 0l1.4-1.6l1.4-2.6l1.4 4.5l1.4-0.1l1.4-1.8l1.4-0.2l1.4 1.6l1.4 0.7l1.4-3.3l1.4-3.9l1.4-2.3l1.4-9.3l1.4-1.7l1.4-8.9l1.4-7.4l1.4-6.1l1.4-7.2l1.4-4.4l1.4 1.8l1.4-2.4l1.4 2.2l1.4 3.7l1.4 5.8l1.4 4.8l1.4 6.5l1.4 5.4l1.4 5.8l1.4 5.9l1.4-0.1l1.4 4.7l1.4 2.2l1.4 2.2l1.5-0.7l1.4 2.9l1.4 5.7l1.4-2.5l1.4 2.4l1.4-4.3l1.4-2.5l1.4 2.3l1.4-2.3l1.4 2.3l1.4 3.6l1.4 5" stroke="#3b82ad"/>
<path d="M1300.5 644.5l1.4-1l1.4-1l1.4 2.6l1.4 1l1.4-1.6l1.4 0.6l1.4 0.8l1.4-0.6l1.4 3.3l1.4 4.4l1.4-0.2l1.4-0.5l1.4 0.9l1.4 0.6l1.4 3.5l1.5-5.8l1.4 3.3l1.4-3.1l1.4 1.1l1.4 0.6l1.4-1.3l1.4 2.3l1.4 3.4l1.4-1.4l1.4 2.1l1.4-3.2l1.4-1.1l1.4 1.4l1.4-3.3l1.4-2l1.4 2.1l1.4-1.2l1.4 2.1l1.4-4.3l1.4 1.5l1.4 2.8l1.4 0.3l1.4 1l1.4-0.9l1.4 1.3l1.4-0.3l1.4 0.4l1.4 3.5l1.4-1.8l1.4 2.2l1.4 2.2l1.4 1.2l1.4-1.9l1.4 5.2l1.4 2.6l1.4-1.7l1.4-0.5l1.4 1.1l1.4-2.5l1.4 2.7l1.4 0.5l1.4-0.4l1.4-0.2l1.5-2.7l1.4 1.9l1.4 1.2l1.4-5.8l1.4 0.8l1.4 2.4l1.4-1.3l1.4-1.2l1.4 0.5l1.4 1.3l1.4-2.7l1.4-2.3l1.4 1.4l1.4-2.7l1.4 0.1l1.4-1.1l1.4 0.2l1.4-1.7l1.4 4.9l1.4-1.8l1.4 1.8l1.4-3.5l1.4-1.1l1.4 0.1l1.4-1.3l1.4-0.6l1.4-0.3l1.4 0.7l1.4 0.3l1.4-0.4l1.4 0.4l1.4 0.1l1.4-0.5l1.4-1.5l1.4 2l1.4-2.7l1.4-2.7l1.4 4.3l1.4 1.8l1.4-1.9l1.4 3.1l1.4 0.1l1.4-0.9l1.4-0.9l1.5 3.8l1.4-1.8l1.4 1l1.4-2.3l1.4 2.6l1.4-2.5l1.4 2.6l1.4 0.1l1.4 0.2l1.4-1.6l1.4 2.9l1.4-0.1l1.4-2.4l1.4-2.5l1.4 3.9l1.4-0.9l1.4-0.3l1.4 3.9l1.4 3.9l1.4 2.8l1.4 0.8l1.4-0.9l1.4 0.1l1.4 1.4l1.4 5.7l1.4 0l1.4 0.4l1.4 2l1.4 3.9l1.4 1l1.4-0.6l1.4-1.7l1.4 1.4l1.4 2.4l1.4 0.4l1.4 4.7l1.4 1.8l1.4-1.7l1.4-0.8l1.4 4.4l1.4-2.7l1.4 0.6l1.4-3l1.5 0.8l1.4-0.9l1.4 1.7l1.4-0.7l1.4-2.5l1.4 1.6l1.4 2.9l1.4-6.2l1.4 4.2l1.4 0.3l1.4 2.7l1.4-3.1l1.4-7.4l1.4 4.4l1.4 0.5l1.4-3l1.4 0.5l1.4-2l1.4-1.9l1.4-1.3l1.4-2.8l1.4-0.4l1.4-4.7l1.4-6.8l1.4-0.3l1.4 0.7l1.4-5.2l1.4-3.7l1.4-1.6l1.4 2l1.4 0.4l1.4 2.2l1.4 2.3l1.4 3.8l1.4 4l1.4 8l1.4 3.3l1.4-4l1.4-1.4l1.4 3l1.4 1l1.4 4.6l1.4-0.2l1.5 0.5l1.4 0.1l1.4-0.1l1.4-3.6l1.4-1.2l1.4-1.2l1.4-2.4l1.4 5.1l1.4 3.2l1.4 0.9l1.4 3.5l1.4 0.1" stroke="#737373"/>
<path d="M1300.5 705.4l1.4 1.2l1.4-0.2l1.4-0.4l1.4-0.7l1.4 1.7l1.4 0.2l1.4-0.6l1.4-3.1l1.4 2.2l1.4 0.5l1.4-1.7l1.4 0.8l1.4 0.8l1.4 0.5l1.4-0.6l1.5-2.4l1.4 1.5l1.4 1l1.4 3.2l1.4 1.5l1.4-2.3l1.4-0.3l1.4 0.5l1.4-1l1.4 1.3l1.4-2.7l1.4 2.5l1.4-1.7l1.4-4.6l1.4-0.4l1.4-1.4l1.4 2l1.4-0.2l1.4-2.8l1.4 0.1l1.4 1.7l1.4 1.5l1.4-0.4l1.4-1.9l1.4 1.4l1.4 0.2l1.4-3.3l1.4-0.7l1.4 0.5l1.4-2.2l1.4-4.6l1.4 3.9l1.4-1.6l1.4 0.3l1.4-1.9l1.4 2.3l1.4-2.7l1.4 0l1.4-3.5l1.4 4.8l1.4 1.4l1.4-3.2l1.4-0.1l1.5-0.6l1.4 3.1l1.4-3.5l1.4-2.6l1.4-0.5l1.4 3.4l1.4 3.1l1.4-3.6l1.4-0.6l1.4 1.8l1.4-0.9l1.4-0.3l1.4-0.7l1.4-2.1l1.4 0.1l1.4 0.7l1.4-3.2l1.4 1.8l1.4 0.9l1.4 0.7l1.4-1.1l1.4 0.7l1.4 0.8l1.4 4l1.4 0.6l1.4 0.7l1.4-0.8l1.4 4l1.4-4.7l1.4 4.1l1.4-0.4l1.4 0.1l1.4 0l1.4 1.8l1.4 0.5l1.4-2.5l1.4 2.6l1.4-3.5l1.4 1l1.4 0.8l1.4-1l1.4 2.7l1.4-1.1l1.4-1.7l1.5-3l1.4-2.4l1.4 3.4l1.4-3l1.4-0.8l1.4 0.9l1.4-2.1l1.4 0.9l1.4-0.6l1.4-0.3l1.4 0l1.4-0.6l1.4 0l1.4 2.4l1.4-0.5l1.4 2.8l1.4 2.6l1.4-2.2l1.4-1.6l1.4 3.9l1.4-2.3l1.4 0.4l1.4 4.8l1.4-2l1.4 2.3l1.4-0.6l1.4 2.7l1.4 1.2l1.4 0.8l1.4 1.4l1.4 0.2l1.4-2.1l1.4 4.7l1.4 3.7l1.4 1.7l1.4 1.2l1.4 2.1l1.4 2.1l1.4-0.8l1.4 4.6l1.4 2.6l1.4 1.1l1.4 0.4l1.5 3.1l1.4 1.9l1.4 0.1l1.4 1.6l1.4 1.2l1.4-0.1l1.4 0.2l1.4 3l1.4-0.6l1.4 0.3l1.4-0.9l1.4-3.2l1.4 5.6l1.4 2.2l1.4 2.6l1.4-4l1.4 0.1l1.4 0.5l1.4 2l1.4-3.4l1.4 3.9l1.4-0.1l1.4 0.5l1.4 3.6l1.4-0.8l1.4-2.4l1.4 1.2l1.4 1.5l1.4-0.6l1.4-1.7l1.4 1.4l1.4-1.2l1.4 2.5l1.4 2.7l1.4 2.4l1.4 1.8l1.4-1l1.4 1.1l1.4 3.4l1.4-6l1.4-2.2l1.4 2.1l1.4-0.3l1.5 1l1.4-2.1l1.4 0.3l1.4 1.7l1.4-0.4l1.4 0.3l1.4 1.1l1.4-0.1l1.4 0.3l1.4 0.3l1.4 0l1.4 1.4" stroke="#737373"/>
<path d="M1300.5 759l1.4 1.7l1.4-2.3l1.4 1.4l1.4-1.9l1.4-0.5l1.4 0.7l1.4 1.2l1.4-1.2l1.4 2.3l1.4 0.1l1.4-1.1l1.4-0.2l1.4 2.7l1.4-0.8l1.4 2.2l1.5 0.1l1.4 2.6l1.4-5.3l1.4 1.1l1.4-1.3l1.4-0.7l1.4 1.5l1.4 3.5l1.4-3l1.4-2.9l1.4 1l1.4-0.8l1.4-2l1.4 2l1.4-1.1l1.4 3.8l1.4-2.6l1.4-1.5l1.4 2.9l1.4-1.6l1.4-2.4l1.4-1.7l1.4 2.4l1.4 1.4l1.4-0.5l1.4-0.7l1.4-2.3l1.4-1.4l1.4 1.9l1.4 1.2l1.4-1.7l1.4 0.3l1.4-0.4l1.4 0l1.4 0.9l1.4-1l1.4-1.6l1.4 0.1l1.4 1.1l1.4 0.1l1.4-3.1l1.4-3.4l1.4 2.2l1.5 0l1.4-1.7l1.4 1.3l1.4-2.4l1.4-1.1l1.4 0.3l1.4-3.2l1.4 0.9l1.4-0.5l1.4-1l1.4 1.6l1.4 0.7l1.4 1.9l1.4-1.4l1.4 0.9l1.4 3.1l1.4-0.6l1.4-0.6l1.4-1.7l1.4 0.1l1.4 0.4l1.4-0.6l1.4 2.2l1.4 1.5l1.4-1.2l1.4 1l1.4-0.8l1.4 3l1.4 1.9l1.4-3.8l1.4 1.7l1.4-0.6l1.4 2.2l1.4-3l1.4 0l1.4 0.6l1.4-1.9l1.4 3.7l1.4-2.3l1.4-0.3l1.4 1.6l1.4-2.3l1.4 4.2l1.4 0.7l1.5-3l1.4 1.3l1.4-2.8l1.4 0.8l1.4-1.7l1.4 2.7l1.4-6l1.4-0.8l1.4-2.3l1.4 0.5l1.4 1.5l1.4-2.5l1.4 1.5l1.4-5.3l1.4 4.6l1.4 1.7l1.4 0.7l1.4-1.5l1.4-1.8l1.4 1.4l1.4 0.3l1.4 0.4l1.4-2.6l1.4 4.8l1.4 1.1l1.4-0.8l1.4 0.9l1.4 2.2l1.4 2.8l1.4-3l1.4 0.9l1.4 4.9l1.4 0.3l1.4 1.2l1.4 1.5l1.4 0.5l1.4 2.4l1.4 6.1l1.4-0.6l1.4 1.6l1.4 2.9l1.4 1.9l1.4 1.5l1.5-1.5l1.4 2.1l1.4 3.2l1.4-2.7l1.4 3.9l1.4 0.4l1.4 0.3l1.4-0.5l1.4 3.3l1.4 3.6l1.4-5.7l1.4 0.5l1.4-0.2l1.4-1.7l1.4 2.1l1.4-0.8l1.4 1.4l1.4 0.9l1.4-2l1.4 4.4l1.4-1.6l1.4-1l1.4-1.4l1.4-0.5l1.4 0.9l1.4 1l1.4 4.1l1.4 1.8l1.4-1.8l1.4-0.4l1.4 3l1.4-0.9l1.4 0.2l1.4 2.6l1.4 1.8l1.4-3.3l1.4-1.5l1.4 1.1l1.4-0.3l1.4 0.3l1.4 1.2l1.4-2.9l1.4 0.2l1.5 1.6l1.4 1.8l1.4-1.2l1.4-1.2l1.4-0.1l1.4 2.6l1.4-2.1l1.4 0.4l1.4 0.7l1.4-0.7l1.4 3l1.4 1.7" stroke="#737373"/>
<path d="M1300.5 813.6l1.4 0.8l1.4-0.4l1.4-2.2l1.4 3.7l1.4 0.2l1.4-1.6l1.4-1.4l1.4 1.5l1.4-2.5l1.4 1l1.4 1.7l1.4-0.8l1.4-1.3l1.4-0.1l1.4 0.6l1.5 2.5l1.4 1.8l1.4-1.5l1.4-0.6l1.4-1l1.4-1.5l1.4 0l1.4-2.5l1.4 1l1.4 2.6l1.4 1.7l1.4-3l1.4 1l1.4 2.8l1.4-1l1.4-0.5l1.4 0.7l1.4-3.8l1.4 0.4l1.4 2.4l1.4-3.1l1.4 2.4l1.4-1.8l1.4-0.8l1.4-1.4l1.4-1.1l1.4-1.9l1.4-3.4l1.4 4.2l1.4-1.9l1.4 1.1l1.4-0.5l1.4 1.3l1.4-3.2l1.4-1.2l1.4 0.8l1.4 0.3l1.4-1.8l1.4-2.8l1.4 4.2l1.4-1.7l1.4 1.9l1.4-2l1.5 1.6l1.4-3.2l1.4-0.1l1.4 1.2l1.4-0.6l1.4-1.9l1.4 1.7l1.4-1.2l1.4-1.6l1.4-1.7l1.4 2l1.4 0l1.4-0.8l1.4 0.9l1.4 0.1l1.4 3.3l1.4 1.9l1.4-5.4l1.4-1.8l1.4 4.5l1.4-3l1.4 1.6l1.4-1.2l1.4 0.2l1.4 2.8l1.4 0.7l1.4 1.2l1.4 0.5l1.4 1.1l1.4-1.3l1.4-1.9l1.4 3.9l1.4-1.6l1.4-1.9l1.4 0.7l1.4-0.5l1.4 0.5l1.4-1l1.4 1.5l1.4 1.6l1.4-3.5l1.4 3l1.4 1.3l1.4-1.7l1.5 3.1l1.4-3.8l1.4 0.2l1.4-2.5l1.4-1.3l1.4 0.6l1.4 0.2l1.4 1.3l1.4-2.4l1.4-0.1l1.4-1.9l1.4-1.2l1.4-1.8l1.4-0.3l1.4 2.1l1.4 2.6l1.4-2.8l1.4 2.3l1.4-1.4l1.4 2.5l1.4 0l1.4-0.8l1.4 3.1l1.4-3.6l1.4-0.1l1.4 3.5l1.4 0.8l1.4-0.3l1.4 0.8l1.4 1.9l1.4 1l1.4-0.6l1.4 0.4l1.4-0.3l1.4 5.1l1.4 1.3l1.4-2.3l1.4 0.8l1.4 1.3l1.4 1.6l1.4 2.8l1.4 1.1l1.4 1.3l1.5 2l1.4-0.6l1.4 0.9l1.4 1.6l1.4 0l1.4 1.5l1.4 3.9l1.4-2.2l1.4 0.2l1.4 1.7l1.4-0.6l1.4 0.3l1.4 0.2l1.4-0.7l1.4-1.4l1.4 0.9l1.4 0.9l1.4 3.5l1.4-0.8l1.4 0.5l1.4-0.8l1.4-1.2l1.4-0.6l1.4 1.8l1.4 0.8l1.4 1.4l1.4-0.9l1.4-3.6l1.4-3.9l1.4 3.3l1.4-0.4l1.4-0.8l1.4 3.6l1.4 2.7l1.4-2.1l1.4 0.6l1.4 0.9l1.4 1.9l1.4-0.1l1.4-2.3l1.4 1.7l1.4 0.8l1.4-0.5l1.5-1.5l1.4 0.3l1.4-0.3l1.4 0.9l1.4 0.4l1.4-1l1.4 4.1l1.4-0.8l1.4-3.4l1.4-1.3l1.4 0.9l1.4-0.7" stroke="#737373"/>
<path d="M1688.2 220.1l1.4-2.1l1.4 0.4l1.4 0.1l1.4 1.8l1.4 0.3l1.4-3.3l1.4-2.4l1.4 0.4l1.4-0.2l1.4-0.6l1.4-1.9l1.4 4.6l1.4 1.1l1.4 5.4l1.4 0.3l1.4 2.1l1.4-3.3l1.4 1.4l1.4-1.8l1.4-0.3l1.4-3.8l1.4 1.5l1.4-0.1l1.4-0.1l1.4 0.9l1.4 1.1l1.4 1.1l1.4-0.6l1.4 0.4l1.4-1.9l1.4-0.2l1.4 3.4l1.4-1l1.4 3.4l1.4-3.3l1.4 1l1.4-0.2l1.4 0.1l1.4 0.4l1.4-1.1l1.4-1l1.4-2.5l1.4 2.8l1.4 2.9l1.4-3.2l1.4-0.5l1.4 1l1.4 4.3l1.4-4.2l1.4 2.5l1.4-2.5l1.4-0.5l1.4 1.9l1.4 2.6l1.4 1.2l1.4 4.3l1.4 1.9l1.4 2.3l1.4-0.8l1.4-1.7l1.4-5l1.4-1.5l1.4 5l1.4-1.3l1.4-1.1l1.4 5.1l1.4-2.3l1.4 1l1.4 0.1l1.4 1l1.4 1.6l1.4 1.4l1.4-3l1.4 0.5l1.4 2.9l1.4-1.5l1.4-3.1l1.4 2.1l1.4 3.1l1.4 0.6l1.4-2.9l1.4 1.7l1.4 1.4l1.4-2.3l1.4 3.5l1.4 1.6l1.4-0.1l1.4 2.4l1.4 2.5l1.4-0.8l1.4-1.1l1.4 5.8l1.4-1.3l1.4-4l1.4 2.8l1.4-0.2l1.4-1.3l1.4 2.5l1.4-3.1l1.4 3l1.4 3.6l1.4-4l1.4-0.6l1.4 3.1l1.4-1.4l1.4 0.2l1.4-0.3l1.4 2.2l1.4-2.3l1.4-0.8l1.4 5.1l1.4-1.3l1.4-0.2l1.4-3.2l1.4-0.2l1.4 4.5l1.4 2.2l1.4-1.4l1.4 3.8l1.4-0.5l1.4-0.6l1.4 1.4l1.4 4.1l1.4-5.6l1.4 3l1.4-0.9l1.4 0.2l1.4 1l1.4 4.3l1.4 2.6l1.4-1.8l1.4 4.6l1.4 1.8l1.4 1.2l1.4-1.4l1.4-2.6l1.4 1l1.4-2.7l1.4 0.9l1.4-1.1l1.4 1.3l1.4-2.7l1.4 2.6l1.4-3.7l1.4-6.4l1.4-3l1.4-5.4l1.4-3.4l1.4-3.9l1.4-3.6l1.4-1.1l1.4-5.1l1.4-1.8l1.4 1l1.4 1.8l1.4 4.4l1.4 3.8l1.4 5.7l1.4 1.5l1.4 3.1l1.4 3.2l1.4 2.2l1.4 5.6l1.4-2.2l1.4 0.7l1.4 2.4l1.4 0.5l1.4-1.5l1.4-0.5l1.4 3.9l1.4 0.5l1.4-0.1l1.4 1.6l1.4 2.8l1.4 0.7l1.4 0.6l1.4-1l1.4 0l1.4 1.6l1.4-0.3l1.4-1.1l1.4 1.5l1.4 2.5l1.4-0.1l1.4-0.1l1.4 2.3l1.4-1.2l1.4-5.7l1.4-0.5l1.4-0.9l1.4-0.2l1.4-1.6l1.4 0l1.4-0.3l1.4-2.5l1.4-0.7l1.4-0.8l1.4-0.3l1.4-0.3l1.4-2.9l1.4-0.4" stroke="#737373"/>
<path d="M1688.2 278.1l1.4-2.3l1.4-0.9l1.4-0.4l1.4 0.8l1.4 3.9l1.4-8.1l1.4-2.9l1.4 5.6l1.4 1.2l1.4-0.8l1.4 1.4l1.4-3.6l1.4 2.9l1.4 1.2l1.4-1l1.4-2.9l1.4 3.8l1.4 1.2l1.4-2.4l1.4-3.1l1.4 2.2l1.4-3.1l1.4 2l1.4 1.7l1.4 3.1l1.4 0.9l1.4-2.6l1.4-0.3l1.4-0.7l1.4-3.7l1.4-4.1l1.4 5.3l1.4 1.2l1.4-1l1.4-1.9l1.4-0.6l1.4-0.4l1.4 2.7l1.4-0.8l1.4 1.7l1.4-1.9l1.4-1.3l1.4 4.6l1.4-3.6l1.4-1.9l1.4 4l1.4-1.5l1.4-1.6l1.4 2.1l1.4-2.4l1.4-0.6l1.4-0.9l1.4 2.2l1.4 3l1.4 1.4l1.4 1.4l1.4-4.3l1.4 0.9l1.4 0.4l1.4-2.7l1.4 0.1l1.4 4.8l1.4-5.9l1.4 2.8l1.4-1.5l1.4 1.2l1.4 2.1l1.4-1.1l1.4 0.8l1.4 2.8l1.4-2.1l1.4-0.1l1.4-0.7l1.4 5.3l1.4-1.5l1.4 1l1.4 2l1.4-3.4l1.4-1l1.4-1.3l1.4 3.2l1.4-3.1l1.4 2.4l1.4 3.5l1.4 3.9l1.4 1.1l1.4-1.4l1.4 1.2l1.4 0.3l1.4 3.2l1.4-2.1l1.4-1.7l1.4 1l1.4 3.7l1.4 0.2l1.4-2.5l1.4 0.1l1.4 1.5l1.4-0.5l1.4-5.6l1.4 5.9l1.4 1l1.4 1.9l1.4 1l1.4 0.6l1.4-0.1l1.4 0.6l1.4-2.4l1.4 2.2l1.4-2.4l1.4 1.2l1.4-1.7l1.4-0.6l1.4 4.7l1.4 0.9l1.4-1.7l1.4 3.2l1.4 0.5l1.4 0.9l1.4 1.2l1.4-3.1l1.4-0.4l1.4 0.3l1.4 0.8l1.4 4.6l1.4-3l1.4-0.6l1.4 3l1.4 3l1.4-2.1l1.4-0.1l1.4 4.5l1.4-1l1.4-0.3l1.4 3.6l1.4 2.6l1.4 1l1.4 4.2l1.4-4.9l1.4-0.5l1.4 1.5l1.4-5.4l1.4 1.4l1.4-3.1l1.4-5.1l1.4 0.3l1.4-5l1.4 0l1.4-5.9l1.4-4.6l1.4 0.9l1.4-1.5l1.4-2.7l1.4-2.3l1.4 2.7l1.4 1.7l1.4 3l1.4 2l1.4 5.3l1.4 5.2l1.4 0.9l1.4-2.2l1.4 0.3l1.4 5.9l1.4 1.2l1.4 2l1.4 4.7l1.4 6.2l1.4-1.5l1.4-3.7l1.4 6.4l1.4-2.2l1.4 2.4l1.4-1.7l1.4 3.3l1.4 4.3l1.4-1.9l1.4 2.1l1.4-0.3l1.4-0.5l1.4 1.8l1.4-1.5l1.4 4.1l1.4-0.9l1.4-4.8l1.4 1.6l1.4-1.4l1.4 1.4l1.4-1.1l1.4 1.1l1.4-0.5l1.4 0.1l1.4-1.5l1.4 1.6l1.4-2.8l1.4 1.4l1.4 6.4l1.4-0.5l1.4 0.6l1.4 2.8l1.4-3.8" stroke="#509551"/>
<path d="M1688.2 340.7l1.4 0.8l1.4-1l1.4 2.2l1.4-3.4l1.4 0.9l1.4 4.1l1.4-2.3l1.4-1.2l1.4 0.5l1.4-1.4l1.4-0.4l1.4 0.3l1.4 1.5l1.4-1.5l1.4 1.8l1.4 0.3l1.4 1.9l1.4-0.5l1.4-2.4l1.4 2.2l1.4 0.8l1.4-1.1l1.4 1.2l1.4-0.5l1.4-1.8l1.4 0.6l1.4-3.1l1.4-2.6l1.4 3.8l1.4-0.5l1.4 0.4l1.4-0.1l1.4 0.8l1.4-1.2l1.4 1.5l1.4-2.1l1.4 0.8l1.4 0.8l1.4-1l1.4 1.3l1.4-0.2l1.4-1.5l1.4-1.2l1.4 1.6l1.4-0.2l1.4-0.6l1.4 1.3l1.4-0.1l1.4 1.6l1.4-1.8l1.4 0.6l1.4 0.7l1.4-2l1.4-0.1l1.4-3.1l1.4 3.9l1.4-0.5l1.4 2.8l1.4-3l1.4 0.7l1.4 0.3l1.4 1.8l1.4-1.7l1.4 2.7l1.4-3.7l1.4 2.2l1.4 0l1.4-1.4l1.4 1.7l1.4-2l1.4 2.6l1.4 2l1.4-1.6l1.4-1l1.4 2.5l1.4 1.5l1.4-0.5l1.4 1.1l1.4-1.4l1.4 0l1.4 1l1.4-2.3l1.4 1.5l1.4 0.5l1.4-0.3l1.4-1.7l1.4 0.8l1.4-1.7l1.4 2.4l1.4 2l1.4-4.2l1.4 0.7l1.4-1.1l1.4-3.3l1.4 3l1.4-1.4l1.4 0.9l1.4 2.7l1.4 2.5l1.4-1.9l1.4-1.5l1.4 1.3l1.4-2.5l1.4 2.4l1.4 0.3l1.4 1.4l1.4-1.7l1.4 0.9l1.4 0.6l1.4 0.2l1.4 2.9l1.4-3.2l1.4 0.3l1.4 2.2l1.4-0.7l1.4-0.2l1.4-1.7l1.4 1.4l1.4 1.9l1.4 1.3l1.4 1l1.4 0.3l1.4 1.9l1.4 2l1.4-0.2l1.4 0.5l1.4-2l1.4 1.3l1.4 2.7l1.4 7.2l1.4-1.7l1.4-1l1.4-0.7l1.4-1.5l1.4-0.8l1.4 4.4l1.4 1.2l1.4 1.6l1.4 0.6l1.4-0.2l1.4-2.4l1.4-2.7l1.4 0.4l1.4-0.1l1.4-1.5l1.4-2.1l1.4-3.8l1.4-7.3l1.4-3.6l1.4-3.3l1.4-2.9l1.4-3.6l1.4 0.3l1.4-3l1.4 4.7l1.4 3.3l1.4 5.6l1.4 5.8l1.4 5.5l1.4 4.3l1.4 3.2l1.4-0.2l1.4-0.8l1.4 1.4l1.4-1.4l1.4 3.1l1.4 1.1l1.4-2.5l1.4-1.2l1.4 3.5l1.4 2.9l1.4-1.5l1.4-1.7l1.4 2.3l1.4 1.2l1.4 1.6l1.4 2.3l1.4-1.7l1.4 1.3l1.4-1.2l1.4 1.9l1.4 2.2l1.4 0.9l1.4-1.4l1.4 2.3l1.4-1.3l1.4-1.5l1.4-2.1l1.4-1.9l1.4 3l1.4-1.2l1.4-5.5l1.4 3.9l1.4-3.6l1.4-0.3l1.4 1.1l1.4-2.5l1.4-0.8l1.4-2.4l1.4 2.7l1.4-1.9" stroke="#737373"/>
<path d="M1688.2 394.3l1.4 1.7l1.4 1l1.4-1.7l1.4 2.3l1.4-2.7l1.4 0.8l1.4 2.2l1.4-3.4l1.4 0l1.4 0.4l1.4-0.5l1.4 0.3l1.4 2.4l1.4-0.3l1.4 3.6l1.4-1.9l1.4 3.3l1.4 0.5l1.4-1.8l1.4-4.9l1.4-0.2l1.4 1.3l1.4-1.3l1.4 4.2l1.4-2.7l1.4 2.4l1.4 0.7l1.4 2l1.4-4.1l1.4 2.1l1.4-1.1l1.4-2.8l1.4 1.6l1.4 1.2l1.4-3l1.4-0.2l1.4-1.6l1.4 2.1l1.4 0.3l1.4 2.5l1.4 0.6l1.4-1l1.4-0.6l1.4 2.6l1.4-1.1l1.4 1.9l1.4-1.2l1.4-3.7l1.4-0.9l1.4 2.2l1.4-1.1l1.4 2l1.4 1.7l1.4 0.7l1.4 0.8l1.4-1.4l1.4-1.9l1.4-1.5l1.4 2.7l1.4 4.3l1.4-6l1.4 4l1.4-3.5l1.4 0.6l1.4 1.7l1.4 4.8l1.4-2.5l1.4 2.7l1.4 1.5l1.4 1l1.4-1.2l1.4 1l1.4 1l1.4 1.5l1.4-0.2l1.4 0.5l1.4-3.2l1.4 2.4l1.4 2.9l1.4 3.6l1.4 3.1l1.4-3.1l1.4-0.9l1.4-1l1.4 4.3l1.4-3.1l1.4-0.5l1.4 1.3l1.4-0.7l1.4 5.1l1.4-0.6l1.4-1.9l1.4 2.9l1.4-1.9l1.4 2.7l1.4 0.5l1.4-3.7l1.4 0.1l1.4 1.3l1.4-2.5l1.4 3.7l1.4-1.8l1.4-0.1l1.4-0.4l1.4 1.2l1.4 2l1.4 0.5l1.4 0.7l1.4 1.1l1.4-1.1l1.4-1.3l1.4 1.8l1.4-2l1.4 1.3l1.4 0.1l1.4 0.7l1.4 0.3l1.4-1.5l1.4-1.9l1.4 3.4l1.4 5.2l1.4-3.4l1.4 1.4l1.4 2.3l1.4-0.6l1.4-0.2l1.4-0.7l1.4 5.3l1.4-1.6l1.4 0.6l1.4 0.7l1.4-2.8l1.4 1.5l1.4 2.7l1.4-0.9l1.4-1l1.4-0.6l1.4 2.2l1.4 0.6l1.4 3.3l1.4-3.4l1.4 2.1l1.4-0.4l1.4 1.4l1.4-0.6l1.4-1.9l1.4-2l1.4-5l1.4-6.7l1.4-3.4l1.4-5.7l1.4-7.7l1.4-6.5l1.4-0.3l1.4-1l1.4 6.1l1.4 6.8l1.4 11.8l1.4 8.4l1.4-0.5l1.4 1.9l1.4 2.8l1.4 0.4l1.4-0.1l1.4 0.6l1.4 1.6l1.4-1.6l1.4 0.1l1.4 4.5l1.4 3.7l1.4-1l1.4-1l1.4 2.5l1.4-1.9l1.4 1.9l1.4 2.8l1.4-0.7l1.4 1.4l1.4 0.4l1.4-2.4l1.4 4.6l1.4-1.7l1.4 0.5l1.4 0.8l1.4-2.5l1.4 2.7l1.4-0.3l1.4-1.7l1.4 1.5l1.4-2.4l1.4-0.8l1.4 1l1.4-3.2l1.4 6.3l1.4-1.4l1.4-1.3l1.4-2.3l1.4 1l1.4 1.1l1.4-3.2l1.4 2.7" stroke="#509551"/>
<path d="M1688.2 465.9l1.4-1.7l1.4 0.1l1.4 0.9l1.4-2.5l1.4-0.9l1.4 3.3l1.4-0.1l1.4-1.2l1.4 2l1.4-0.7l1.4 0.1l1.4 0.7l1.4-3.2l1.4-1.3l1.4 1.1l1.4-0.7l1.4 0.7l1.4-3.2l1.4-2.1l1.4 4l1.4-1.1l1.4 0.8l1.4-1.1l1.4 1.3l1.4 2.3l1.4-0.3l1.4 3.2l1.4-0.5l1.4 0.6l1.4 0.5l1.4 3.6l1.4-1.8l1.4-2l1.4 1.5l1.4-3.8l1.4-0.5l1.4-3.4l1.4-0.3l1.4 1.6l1.4 1.6l1.4-1.3l1.4-1l1.4-0.1l1.4-1.4l1.4 1.5l1.4 1.4l1.4 3l1.4 0l1.4-3.2l1.4 3.5l1.4 0.3l1.4-0.2l1.4 2l1.4 2l1.4 0.4l1.4-1.8l1.4 0.7l1.4 2.5l1.4 1.9l1.4-0.5l1.4 1l1.4-0.7l1.4-0.4l1.4 3.2l1.4 1.3l1.4-1.9l1.4 0.9l1.4-0.1l1.4-2l1.4 1.3l1.4 2.3l1.4-2l1.4 1.5l1.4-6.4l1.4 3.5l1.4 0.5l1.4 0.2l1.4 1.9l1.4-2.2l1.4 2.3l1.4 1.3l1.4 2.1l1.4-2.7l1.4-1.1l1.4 0.4l1.4 2.5l1.4 0.1l1.4-0.9l1.4 1.4l1.4 0.4l1.4 1.1l1.4-2.5l1.4-0.8l1.4-0.9l1.4-2.3l1.4 2l1.4 1l1.4-0.4l1.4-0.6l1.4-1.2l1.4 1.5l1.4 1l1.4-0.3l1.4 1l1.4 1.4l1.4 2.3l1.4-1.7l1.4 0.4l1.4-0.3l1.4-3.1l1.4 2.2l1.4 0.7l1.4 2.9l1.4-3.7l1.4-0.2l1.4 1.3l1.4-0.2l1.4 4.2l1.4 1.2l1.4 0.2l1.4-2.7l1.4 3.4l1.4-2.4l1.4 3.2l1.4 4.8l1.4-2.7l1.4-0.2l1.4 1.1l1.4-0.9l1.4-2l1.4 1.8l1.4-1.2l1.4 1.7l1.4-1l1.4 4.6l1.4-1.1l1.4 1l1.4 3.2l1.4-1.9l1.4 2.2l1.4 2.3l1.4-4.1l1.4 1.2l1.4 0.2l1.4 0.7l1.4-4.2l1.4-3.9l1.4-1.2l1.4-6.3l1.4-6.7l1.4-6.1l1.4-6l1.4-2.9l1.4-0.8l1.4 2.4l1.4 8.8l1.4 9.9l1.4 8.4l1.4 8.5l1.4-0.7l1.4 2.6l1.4 2.1l1.4-2.6l1.4 2.4l1.4 0.7l1.4 0.6l1.4 2.8l1.4-2.2l1.4-1l1.4-0.2l1.4 1.1l1.4 2.2l1.4 2.2l1.4 0.4l1.4 1.7l1.4-0.9l1.4 2l1.4-1.9l1.4 4.7l1.4-2.6l1.4-2.9l1.4-0.8l1.4 3.3l1.4 0.4l1.4 1.5l1.4 0.3l1.4 0.4l1.4-0.6l1.4-0.6l1.4 2.1l1.4 2.3l1.4-0.7l1.4-3.2l1.4 2l1.4 1.4l1.4-2.5l1.4 1.1l1.4 0.3l1.4-2.6l1.4 0.8l1.4-0.2" stroke="#737373"/>
<path d="M1688.2 521.3l1.4-3.2l1.4-0.6l1.4-0.8l1.4 2l1.4-1.5l1.4 1.3l1.4 4.3l1.4-0.7l1.4-2.7l1.4-0.1l1.4 2.3l1.4-2.9l1.4 1.2l1.4 3l1.4-0.1l1.4 3.7l1.4-4l1.4-2.4l1.4-0.7l1.4 0.7l1.4-1.1l1.4 4l1.4-3.8l1.4-0.2l1.4 1.8l1.4-0.8l1.4 1.1l1.4-0.1l1.4 0l1.4-4.8l1.4 2.9l1.4-1.4l1.4 0.1l1.4-0.4l1.4 4.3l1.4-6.1l1.4 5l1.4-1.9l1.4 3.8l1.4 0.5l1.4-0.7l1.4-0.5l1.4 2.8l1.4-5.5l1.4-1.3l1.4 0l1.4 3.3l1.4-3.9l1.4 4l1.4 0.6l1.4-0.2l1.4 1l1.4 1.1l1.4-0.6l1.4 3.1l1.4 0.6l1.4 0.9l1.4-2.8l1.4 1.5l1.4 0.8l1.4 2l1.4 0.5l1.4-0.7l1.4-3.7l1.4 2.8l1.4 1.4l1.4-1.3l1.4 1.5l1.4 0l1.4 2.2l1.4 3l1.4 4.6l1.4-4.7l1.4 0.7l1.4-1.8l1.4 0.3l1.4-0.9l1.4 1.4l1.4 1.1l1.4-1.1l1.4-0.4l1.4 2.7l1.4-1l1.4 2.2l1.4-5l1.4 5.5l1.4-2.1l1.4-0.9l1.4 3.5l1.4 0.5l1.4 4.4l1.4 0.6l1.4 1.8l1.4-0.4l1.4 1.7l1.4 1l1.4-0.4l1.4 2.2l1.4-1.7l1.4-1l1.4-4.5l1.4 3.7l1.4 3.4l1.4-2.7l1.4 1.6l1.4-3.5l1.4 3.5l1.4-0.1l1.4 4.4l1.4 1.2l1.4 0.4l1.4-0.7l1.4 3.6l1.4-3.5l1.4 0.1l1.4 2.6l1.4-1.2l1.4-0.1l1.4-1.4l1.4 1.3l1.4 3.3l1.4-4.2l1.4 4l1.4 3.5l1.4 2.3l1.4 4.8l1.4-4.1l1.4 1.7l1.4-0.6l1.4-3.5l1.4 0l1.4 1.6l1.4-0.7l1.4 2.8l1.4-2.2l1.4 0.4l1.4-4.3l1.4 0.1l1.4 3l1.4-3.3l1.4 0.5l1.4-1.9l1.4 1.4l1.4 0.4l1.4-2.4l1.4-1.5l1.4-0.8l1.4-3.3l1.4-4l1.4-3.8l1.4-10.8l1.4-6.2l1.4 3l1.4 1l1.4 5.7l1.4 11.5l1.4 5.4l1.4 5.2l1.4 4.1l1.4 3.7l1.4-0.2l1.4 6l1.4 0.1l1.4-2.6l1.4-1.1l1.4 0.9l1.4 2.2l1.4 4.2l1.4 0.7l1.4 1.3l1.4-0.2l1.4 3.2l1.4 0.3l1.4 2.6l1.4 3.6l1.4 1l1.4-1.3l1.4-1l1.4 5.1l1.4 2.5l1.4 2.8l1.4-0.6l1.4-2.1l1.4 1.7l1.4 0.5l1.4-5.9l1.4-0.2l1.4 3.1l1.4 0.4l1.4-0.1l1.4 1.6l1.4 1l1.4-6.8l1.4-1.8l1.4-2.5l1.4-1.9l1.4-2.8l1.4 3.8l1.4 1.8l1.4 4.7l1.4-0.5" stroke="#509551"/>
<path d="M1688.2 566.6l1.4 2.5l1.4-0.6l1.4-6.1l1.4-2.1l1.4-1l1.4 5.9l1.4-2.6l1.4-1.2l1.4 1.8l1.4-3.1l1.4 0.7l1.4-0.8l1.4 3.5l1.4-1.3l1.4 2.7l1.4 3.1l1.4-0.9l1.4 2.1l1.4-1.3l1.4 0.8l1.4 3.4l1.4 0.2l1.4-3l1.4 0.9l1.4 2.8l1.4-3l1.4-0.1l1.4-0.9l1.4 1.9l1.4 2.4l1.4 2.1l1.4 1.9l1.4 0.3l1.4-1.7l1.4-2.1l1.4-2.6l1.4-3.7l1.4 5.3l1.4 2.3l1.4 1.8l1.4-1.2l1.4 4.5l1.4-3.7l1.4 4l1.4 0.6l1.4 1.2l1.4 1.5l1.4 3l1.4 0.7l1.4-0.2l1.4 2.3l1.4-0.1l1.4 0.5l1.4-0.4l1.4 0.1l1.4 0.3l1.4-2.6l1.4-1.2l1.4-0.6l1.4 3.8l1.4-2l1.4 0.3l1.4-1.4l1.4 1.1l1.4-2.9l1.4 3.1l1.4 0.9l1.4 4.2l1.4 0.8l1.4-0.1l1.4-0.2l1.4 0.5l1.4 3.7l1.4-0.8l1.4 5l1.4-2.8l1.4 1l1.4 1.1l1.4 0.2l1.4 4.5l1.4 0.5l1.4 4.4l1.4 0.1l1.4-3.4l1.4 1l1.4 1.8l1.4 2l1.4-3.1l1.4-1l1.4-2.7l1.4 3.4l1.4-4.3l1.4 3.9l1.4 2.2l1.4 1.4l1.4 1.8l1.4 1.4l1.4-1.1l1.4-3.4l1.4 5.9l1.4-1.6l1.4 3.1l1.4 0l1.4 2.1l1.4-2.3l1.4-3.1l1.4-0.1l1.4-5.9l1.4 1.7l1.4 1.7l1.4 0.7l1.4-1.6l1.4-2.4l1.4 4.8l1.4-0.2l1.4 3.8l1.4 1.8l1.4 0.4l1.4 2.4l1.4-0.6l1.4-4.6l1.4-2.8l1.4 4.8l1.4 3.1l1.4-5.4l1.4 0.1l1.4-1.6l1.4 0.2l1.4 6.6l1.4-1.9l1.4 0.6l1.4 2.5l1.4 0l1.4 2.7l1.4 2.9l1.4-0.1l1.4-4.4l1.4-1.5l1.4 2.4l1.4-0.8l1.4-1.1l1.4-2.5l1.4-0.3l1.4-3.1l1.4-3.2l1.4-0.8l1.4 0.1l1.4-3.6l1.4-3l1.4-6.1l1.4-1l1.4-1.3l1.4-5l1.4-1.1l1.4 3.8l1.4 5.9l1.4 5.4l1.4 6.2l1.4 2.8l1.4 3.3l1.4 0.4l1.4-0.9l1.4 4.6l1.4-3.8l1.4-1l1.4 2.9l1.4 3.4l1.4 5l1.4 2.2l1.4 0.5l1.4 3l1.4 6.1l1.4-0.8l1.4 0.9l1.4 1.6l1.4-1.4l1.4 6.6l1.4 0.2l1.4-2.8l1.4 2.8l1.4-2.6l1.4 4l1.4 1l1.4 0.9l1.4-1.7l1.4 2l1.4-3l1.4 3.5l1.4-0.3l1.4-2.7l1.4 1.1l1.4 1.5l1.4-6.9l1.4-0.7l1.4 3.7l1.4-0.9l1.4 1.1l1.4-0.7l1.4 2.1l1.4-1.1l1.4 2.2" stroke="#737373"/>
<path d="M1688.2 627l1.4 0.2l1.4-0.7l1.4-0.5l1.4-1.6l1.4-3.2l1.4 4.5l1.4-1.6l1.4 1.6l1.4 1.7l1.4-1.3l1.4 0l1.4-2.7l1.4 3.8l1.4-2.7l1.4 1.7l1.4 0.4l1.4 1.7l1.4-0.1l1.4-3.5l1.4 0.2l1.4-2.4l1.4-0.1l1.4 0.9l1.4-3.1l1.4 4.1l1.4-3.8l1.4 0.1l1.4 2.2l1.4-6.9l1.4 2.1l1.4 3.6l1.4 0.7l1.4 3.1l1.4-2.5l1.4 1.2l1.4-3.4l1.4 0.3l1.4-1.9l1.4-1.3l1.4-0.3l1.4 0.1l1.4-2.7l1.4-0.5l1.4 0.5l1.4 1.1l1.4-1.1l1.4 2.1l1.4 3.9l1.4-4.7l1.4 0.1l1.4 3.5l1.4-3.9l1.4-1.7l1.4 2.9l1.4 0.4l1.4 2.5l1.4-3.1l1.4 3.3l1.4 1.6l1.4 0.3l1.4-1.2l1.4 2l1.4 2.5l1.4-1.7l1.4-0.5l1.4-0.3l1.4-1.1l1.4-1.2l1.4 1.8l1.4 3.2l1.4 0.5l1.4-0.7l1.4 3.1l1.4 1.1l1.4 1.3l1.4-5.4l1.4 3.3l1.4 4.8l1.4 2.1l1.4-2.1l1.4-0.8l1.4 0.2l1.4 2.6l1.4 1.5l1.4 2.1l1.4-0.4l1.4-1l1.4-0.5l1.4-1.2l1.4-1.6l1.4-2.3l1.4 1.8l1.4 0.3l1.4 1.4l1.4-0.4l1.4 3.1l1.4 0.6l1.4-4.4l1.4 5.8l1.4 1.1l1.4 0.9l1.4 1.3l1.4 0.6l1.4-2.6l1.4 4.7l1.4-1l1.4 1.4l1.4 3.3l1.4-2.3l1.4 5.4l1.4-1.8l1.4 0.8l1.4 6.4l1.4-4.9l1.4-1.3l1.4 4.3l1.4-0.2l1.4-0.7l1.4 1.9l1.4 2.4l1.4-0.5l1.4 1.9l1.4-2.3l1.4 5l1.4-3.7l1.4 2.8l1.4 5.5l1.4-1.6l1.4 2.7l1.4-2.6l1.4-1.8l1.4-2.1l1.4 1.2l1.4 5l1.4-1.3l1.4 0.5l1.4 5.5l1.4-2.6l1.4-0.3l1.4 2.5l1.4 3.6l1.4 0.3l1.4 0.2l1.4-1.7l1.4-1.7l1.4 1l1.4-4.3l1.4-1.9l1.4-3.4l1.4-4.1l1.4-8.7l1.4-5.2l1.4-5.6l1.4-1l1.4 2.6l1.4 9l1.4 10.3l1.4 9.6l1.4 2.6l1.4 2.1l1.4 2.5l1.4-1.1l1.4 1.9l1.4 0.5l1.4-2.3l1.4-1.6l1.4 3.1l1.4-2.7l1.4 0.6l1.4-0.3l1.4 1l1.4 4.2l1.4 0.1l1.4-0.7l1.4 0.7l1.4 2.5l1.4-1l1.4 2l1.4 1l1.4-1.4l1.4-2.7l1.4-2.9l1.4-1.2l1.4 1.1l1.4 2.2l1.4-0.6l1.4 2.1l1.4-2.9l1.4 1.5l1.4-2.6l1.4 3.3l1.4-0.8l1.4 1.7l1.4-1.8l1.4-4.7l1.4 5.4l1.4 0.8l1.4-5.2l1.4-0.7l1.4 2.6l1.4 1.7" stroke="#509551"/>
<path d="M1688.2 672.5l1.4 1.5l1.4-0.3l1.4-3.3l1.4 0.8l1.4-0.5l1.4-0.2l1.4 0.7l1.4 1.6l1.4 2.5l1.4-3.1l1.4-0.3l1.4 1.6l1.4-3.4l1.4-0.8l1.4 1.6l1.4-1l1.4-0.7l1.4 2.7l1.4-3.5l1.4 1.6l1.4 1l1.4-2.6l1.4-0.9l1.4-0.7l1.4-3.7l1.4 1l1.4 0.8l1.4 2.9l1.4-0.1l1.4-0.6l1.4-2l1.4-4.1l1.4 0l1.4 2l1.4 1l1.4-0.3l1.4 1.8l1.4 2.4l1.4-1.4l1.4-3.6l1.4 2.9l1.4-1.2l1.4-1.7l1.4-0.5l1.4 1.6l1.4 2l1.4-1.6l1.4 0l1.4 3.1l1.4-2l1.4-4.6l1.4-1.8l1.4 6.7l1.4-3l1.4 4.1l1.4 0.4l1.4 0.7l1.4 1l1.4-5.4l1.4 1l1.4 3.3l1.4 0.7l1.4 2.9l1.4-3.4l1.4-0.6l1.4 0.2l1.4-0.6l1.4-3l1.4-1.7l1.4 0.3l1.4 1.5l1.4 1.7l1.4-0.3l1.4 1.6l1.4 3.3l1.4-3.8l1.4 3.2l1.4-0.1l1.4-1.2l1.4 2.2l1.4-1.2l1.4 2.6l1.4-1.6l1.4 3.9l1.4 2.1l1.4 4l1.4-0.8l1.4-1.5l1.4-1.2l1.4-0.6l1.4 3.7l1.4-1l1.4 0.8l1.4 2.3l1.4-1.1l1.4 1.7l1.4 2.8l1.4 0.6l1.4-1.2l1.4 2.1l1.4 0.6l1.4 2.5l1.4-1l1.4 5.7l1.4-0.7l1.4 0.3l1.4 0.8l1.4 0.5l1.4-0.7l1.4 1.4l1.4-0.3l1.4 4.9l1.4-0.4l1.4 2.1l1.4-1.7l1.4 3.5l1.4 1.3l1.4 5.5l1.4-1.5l1.4 1l1.4 1.8l1.4 1.7l1.4-5.6l1.4 3.1l1.4 1.9l1.4 1.6l1.4-1.7l1.4 0.7l1.4 2l1.4 2.2l1.4 1.5l1.4-4l1.4 0.8l1.4 1.9l1.4-0.8l1.4 2.8l1.4-0.8l1.4-1.9l1.4-1.1l1.4 1.9l1.4 1.2l1.4-1.8l1.4-1.7l1.4 2.4l1.4-4.5l1.4-0.5l1.4 1.2l1.4-4.1l1.4-2.2l1.4-3.3l1.4-6.9l1.4-7.4l1.4-1.8l1.4 1.3l1.4 5.6l1.4 11.5l1.4 5.1l1.4 1.6l1.4 0l1.4 1.9l1.4 2.8l1.4 3.7l1.4 1l1.4-1.8l1.4-1.6l1.4 4.6l1.4-2.4l1.4-1.6l1.4 4l1.4-2.7l1.4 1.6l1.4-0.8l1.4 0.7l1.4 1.4l1.4-3.2l1.4 1.4l1.4 1.3l1.4 2.1l1.4-1.2l1.4-0.3l1.4-2.1l1.4 0.7l1.4 5.7l1.4 1.8l1.4-0.2l1.4-2.3l1.4 1.6l1.4 1.4l1.4 0.2l1.4 0.2l1.4-2.9l1.4-1.5l1.4 0.4l1.4-0.1l1.4 2.6l1.4 0.6l1.4-3.2l1.4 4l1.4-3.3l1.4 1.1l1.4 1.8" stroke="#737373"/>
<path d="M1688.2 751.9l1.4 2.4l1.4-0.2l1.4-0.4l1.4-2.2l1.4 3.4l1.4-2.6l1.4 1.5l1.4-0.4l1.4-0.1l1.4-0.8l1.4 3.5l1.4-1.8l1.4-0.7l1.4 1.4l1.4 0.9l1.4 0.3l1.4-0.6l1.4-1.6l1.4 1.4l1.4-1.7l1.4 2.7l1.4 2l1.4 0.2l1.4-0.8l1.4 2l1.4-1.4l1.4-5l1.4-1.5l1.4 1.7l1.4-0.4l1.4-1.4l1.4 1.2l1.4-0.8l1.4 1.1l1.4 0l1.4-0.5l1.4-2l1.4-1.8l1.4 1.6l1.4 0.7l1.4-1.9l1.4 0.9l1.4-1l1.4-0.7l1.4-0.1l1.4 1.1l1.4-2.1l1.4-3.7l1.4 0.4l1.4-0.5l1.4-0.4l1.4-0.6l1.4-0.7l1.4-3l1.4 0.8l1.4 1.4l1.4 0.4l1.4-0.3l1.4-0.5l1.4-3.3l1.4 1.2l1.4 1.4l1.4-4.7l1.4 2.3l1.4 2.8l1.4-2.7l1.4-0.6l1.4 0.5l1.4-0.9l1.4 0.3l1.4-3.7l1.4 1.7l1.4 4.5l1.4 1.7l1.4 0.2l1.4 0l1.4-1.8l1.4 0.4l1.4 2.6l1.4 0l1.4 1l1.4 1.3l1.4-0.7l1.4-0.3l1.4 0.4l1.4 0.9l1.4 1.1l1.4-1.2l1.4-2.6l1.4 1.1l1.4-1.2l1.4-1.5l1.4-0.2l1.4-0.2l1.4-2.1l1.4 3.2l1.4 0.1l1.4-0.6l1.4 0.7l1.4-3.8l1.4 0l1.4 0l1.4-2l1.4-1.2l1.4-2.1l1.4 0.3l1.4-2.3l1.4 0l1.4 2.7l1.4-0.5l1.4-2.5l1.4-2.1l1.4-0.4l1.4 1.7l1.4-2.1l1.4-0.4l1.4-2.4l1.4-0.5l1.4 0.8l1.4 0.7l1.4 1.9l1.4-3l1.4-0.6l1.4 0.3l1.4 3.6l1.4 0.8l1.4-3.4l1.4 1.1l1.4 0.8l1.4 1.7l1.4-0.9l1.4 0.5l1.4 2.2l1.4 5.7l1.4 1.5l1.4 1.3l1.4 1.8l1.4 1.7l1.4 2.7l1.4 2.9l1.4 2.7l1.4 3.4l1.4 1.3l1.4 2.5l1.4 2.7l1.4-0.3l1.4 1.7l1.4 0.8l1.4 0.5l1.4 1.2l1.4-1.3l1.4 0.3l1.4 0.1l1.4 1.7l1.4-0.6l1.4 1.1l1.4 0.9l1.4 2.1l1.4 0.6l1.4 1.8l1.4-0.2l1.4-1.3l1.4 0.8l1.4-1.1l1.4 3l1.4-2.2l1.4 3.8l1.4-2.7l1.4 3.4l1.4-2.5l1.4 0.9l1.4 0.7l1.4 1l1.4-2l1.4 1.3l1.4-0.1l1.4 1.7l1.4 0.2l1.4-1.2l1.4 1.9l1.4 0.6l1.4 0.1l1.4-1.1l1.4 2.5l1.4-1l1.4-2.3l1.4 1.2l1.4 0.6l1.4 2.8l1.4-0.1l1.4-1.4l1.4 0.6l1.4 0.5l1.4-2l1.4 2.2l1.4-1.7l1.4 1.2l1.4-0.7l1.4-0.6l1.4-0.3l1.4 1.2" stroke="#737373"/>
<path d="M1688.2 791.3l1.4-0.1l1.4 1l1.4 2.4l1.4-1.3l1.4 0.9l1.4-3.3l1.4 1.2l1.4 1.1l1.4-2.2l1.4 3.3l1.4-1.3l1.4 1.3l1.4-0.7l1.4 1.8l1.4-1l1.4 3.3l1.4-1.2l1.4 0.2l1.4 1.1l1.4-3.4l1.4-1.5l1.4 4.1l1.4-2.1l1.4 0.4l1.4-0.1l1.4 0.5l1.4-0.2l1.4 0.6l1.4-0.7l1.4 0.6l1.4-2.2l1.4 1.2l1.4-1.9l1.4-0.2l1.4-0.7l1.4 1l1.4-0.7l1.4-0.1l1.4-0.6l1.4-1.9l1.4-0.1l1.4-0.5l1.4-0.8l1.4-0.2l1.4 0l1.4-1.2l1.4 0.6l1.4-1.7l1.4 1.9l1.4-3.2l1.4 2.1l1.4-1.3l1.4-0.8l1.4-1.4l1.4-0.8l1.4-4.2l1.4-1.4l1.4-0.2l1.4 2.2l1.4 1.8l1.4-4.1l1.4-2l1.4-0.4l1.4 1l1.4 0.7l1.4-1.1l1.4-1.1l1.4 0.7l1.4 0.8l1.4-1.4l1.4 0.5l1.4 3l1.4 2l1.4-1l1.4 1.1l1.4 1.2l1.4-0.7l1.4-0.1l1.4 2l1.4 0.7l1.4 1.9l1.4-1.9l1.4 0.6l1.4 1.6l1.4-1.7l1.4-1.5l1.4-0.9l1.4-0.7l1.4-0.1l1.4 0.3l1.4-0.2l1.4-1.2l1.4 2.5l1.4-1.2l1.4-0.4l1.4-2.3l1.4-2l1.4 0.9l1.4 1.3l1.4-2.8l1.4-0.3l1.4-0.1l1.4 1.7l1.4 1.4l1.4-3.5l1.4 0.8l1.4-1.1l1.4-2.5l1.4 0.9l1.4-0.3l1.4-1.3l1.4-1.4l1.4-1.1l1.4 0.6l1.4-1.1l1.4 0.6l1.4-1.9l1.4 0.8l1.4-2.9l1.4 2l1.4 1.8l1.4-2.1l1.4-1.4l1.4 0.5l1.4-0.1l1.4-1.1l1.4-0.1l1.4 4.7l1.4-0.9l1.4 1.8l1.4 2.4l1.4 0.7l1.4 2.2l1.4 0.4l1.4 3.6l1.4 2.7l1.4 3.4l1.4 0.9l1.4 3.4l1.4 1.8l1.4 3.1l1.4 4.5l1.4 1l1.4 1l1.4 2.7l1.4-1.4l1.4-1.1l1.4 2.6l1.4 0.3l1.4 1.6l1.4-0.4l1.4 0.3l1.4-0.3l1.4 1.2l1.4 1l1.4 1.7l1.4 1.5l1.4 0.7l1.4-0.4l1.4 1.4l1.4-1.2l1.4 2.2l1.4 0.3l1.4-1l1.4 1.6l1.4-2.4l1.4 1.3l1.4-1.8l1.4 3.1l1.4-2.1l1.4-4.5l1.4 2.5l1.4 2.6l1.4 1.6l1.4 0.3l1.4 1.5l1.4 1.8l1.4-0.4l1.4 2.7l1.4-1.7l1.4 0.6l1.4-1.8l1.4 0.2l1.4-0.5l1.4 1.4l1.4-0.9l1.4 0l1.4-1l1.4 1.8l1.4 1l1.4-0.4l1.4-0.5l1.4-3.4l1.4 1.6l1.4 3l1.4-1.3l1.4 0.6l1.4 0.1l1.4 1.5l1.4 0.8l1.4-2" stroke="#737373"/>
<path d="M1688.2 831.4l1.4 0.5l1.4 3l1.4 1.9l1.4-3.8l1.4 1.3l1.4 0.5l1.4-0.9l1.4-0.6l1.4 1.7l1.4-0.5l1.4-3.3l1.4-1.3l1.4 1.2l1.4-1.9l1.4 0.5l1.4 4.9l1.4 1.8l1.4-1.3l1.4-0.1l1.4-2l1.4-1.4l1.4 1.7l1.4 1l1.4-0.9l1.4 0.7l1.4 0.5l1.4-0.6l1.4 0.3l1.4 0.4l1.4-2.9l1.4 2.8l1.4-1.7l1.4 3.4l1.4-4.4l1.4-0.6l1.4 0.7l1.4-2l1.4-0.4l1.4-0.1l1.4 1.5l1.4-0.8l1.4-1.8l1.4-0.9l1.4 1.5l1.4-1.4l1.4-0.5l1.4-3.4l1.4 2.4l1.4-1.7l1.4 0.1l1.4 0.1l1.4-1.9l1.4-0.6l1.4 1.1l1.4-0.6l1.4-1l1.4-1.7l1.4-1.5l1.4-0.8l1.4 0.2l1.4 1l1.4-0.5l1.4-2.7l1.4 1l1.4-0.7l1.4 0.5l1.4-1.6l1.4 2.8l1.4 0l1.4 1.5l1.4-0.2l1.4-0.1l1.4 2.7l1.4-4.2l1.4-1.2l1.4 2.4l1.4-0.1l1.4-2.7l1.4 0.7l1.4 2.4l1.4 3.9l1.4 0.1l1.4 1.3l1.4-0.9l1.4 1l1.4-2.6l1.4 0.4l1.4-2l1.4 2.5l1.4 0.2l1.4-2.4l1.4 1.3l1.4 1.9l1.4 1.3l1.4 0.1l1.4-2.1l1.4-0.9l1.4-2.4l1.4 0.6l1.4-0.2l1.4-1.5l1.4-1.5l1.4-0.7l1.4-0.7l1.4 0.7l1.4-1.2l1.4-2.2l1.4 0l1.4 0.3l1.4-2.6l1.4-0.3l1.4 4.7l1.4-2.6l1.4-0.8l1.4-1.7l1.4-1.2l1.4 1.5l1.4-2.9l1.4 0l1.4 1.2l1.4-1.3l1.4 0.7l1.4 0.6l1.4-2.1l1.4 0.1l1.4 1l1.4 0.8l1.4 0.3l1.4 2l1.4-0.2l1.4 0.6l1.4 3.5l1.4-1.2l1.4 2.4l1.4 2.2l1.4 2.9l1.4 0.4l1.4 2.4l1.4 3.2l1.4 2.2l1.4-0.2l1.4 2.4l1.4 4.4l1.4-0.4l1.4 1.5l1.4 1.7l1.4-2.1l1.4 3.8l1.4 0.1l1.4 1.2l1.4 1.2l1.4 2.5l1.4 0.4l1.4-1l1.4-1.9l1.4-1l1.4 0.2l1.4 0.6l1.4 4.8l1.4 0.5l1.4-0.1l1.4 0.8l1.4-0.7l1.4 0.7l1.4-1.5l1.4 2.5l1.4-4.9l1.4 0.6l1.4 0.8l1.4 0.2l1.4-0.4l1.4 1.4l1.4 2.2l1.4-0.6l1.4-0.7l1.4 3l1.4-2.2l1.4 1.7l1.4-0.5l1.4 0l1.4 1.1l1.4-1l1.4 0.6l1.4-1.1l1.4-0.4l1.4-1.1l1.4 5.3l1.4-1.3l1.4 0.2l1.4-2.5l1.4 4l1.4 1.7l1.4-1.1l1.4-1.2l1.4-1.8l1.4 1l1.4-2.5l1.4 0.8l1.4 1.2l1.4-0.8l1.4 1" stroke="#737373"/>
</g>
<path d="M1304.6 865.4v4.3M1316.7 865.4v4.3M1328.7 865.4v4.3M1340.8 865.4v4.3M1352.9 865.4v4.3M1364.9 865.4v4.3M1377 865.4v4.3M1389 865.4v4.3M1401.1 865.4v4.3M1413.1 865.4v4.3M1425.2 865.4v4.3M1437.2 865.4v4.3M1449.3 865.4v4.3M1461.3 865.4v4.3M1473.4 865.4v4.3M1485.4 865.4v4.3M1497.5 865.4v4.3M1509.5 865.4v4.3M1521.6 865.4v4.3M1533.6 865.4v4.3M1545.7 865.4v4.3M1557.7 865.4v4.3M1569.8 865.4v4.3M1581.8 865.4v4.3" stroke="#000" stroke-width="1.5" fill="none"/>
<path d="M1340.8 865.4v8.2M1461.3 865.4v8.2M1581.8 865.4v8.2" stroke="#000" stroke-width="1.7" fill="none"/>
<text x="1339.8" y="909.1" font-size="33.6" text-anchor="middle">450</text>
<text x="1460.3" y="909.1" font-size="33.6" text-anchor="middle">600</text>
<text x="1580.8" y="909.1" font-size="33.6" text-anchor="middle">750</text>
<path d="M1692 865.4v4.3M1704.1 865.4v4.3M1716.1 865.4v4.3M1728.2 865.4v4.3M1740.3 865.4v4.3M1752.3 865.4v4.3M1764.4 865.4v4.3M1776.4 865.4v4.3M1788.5 865.4v4.3M1800.5 865.4v4.3M1812.6 865.4v4.3M1824.6 865.4v4.3M1836.7 865.4v4.3M1848.7 865.4v4.3M1860.8 865.4v4.3M1872.8 865.4v4.3M1884.9 865.4v4.3M1896.9 865.4v4.3M1909 865.4v4.3M1921 865.4v4.3M1933.1 865.4v4.3M1945.1 865.4v4.3M1957.2 865.4v4.3M1969.2 865.4v4.3" stroke="#000" stroke-width="1.5" fill="none"/>
<path d="M1728.2 865.4v8.2M1848.7 865.4v8.2M1969.2 865.4v8.2" stroke="#000" stroke-width="1.7" fill="none"/>
<text x="1727.2" y="909.1" font-size="33.6" text-anchor="middle">450</text>
<text x="1847.7" y="909.1" font-size="33.6" text-anchor="middle">600</text>
<text x="1968.2" y="909.1" font-size="33.6" text-anchor="middle">750</text>
<text x="1632.7" y="960.4" font-size="33.5" text-anchor="middle">Raman shift (cm<tspan font-size="24.5" dy="-12.8">–1</tspan><tspan dy="12.8">)</tspan></text>
<text x="1263" y="31" font-size="40" font-weight="bold">c</text>
<text x="1444.5" y="54" font-size="29.3" text-anchor="middle" fill="#fb0d14">Pure O<tspan font-size="20.8" dy="7.6">2</tspan></text>
<text x="1443.7" y="97" font-size="29.3" text-anchor="middle">0.1 M KHCO<tspan font-size="20.8" dy="7.6">3</tspan><tspan dy="-7.6"> in H</tspan><tspan font-size="20.8" dy="7.6">2</tspan><tspan dy="-7.6">O</tspan></text>
<text x="1823.2" y="54" font-size="29.3" text-anchor="middle" fill="#fb0d14">Pure O<tspan font-size="20.8" dy="7.6">2</tspan></text>
<text x="1823.2" y="97" font-size="29.3" text-anchor="middle">0.1 M K<tspan fill="#fb0d14">D</tspan>CO<tspan font-size="20.8" dy="7.6">3</tspan><tspan dy="-7.6"> in </tspan><tspan fill="#fb0d14">D</tspan><tspan font-size="20.8" dy="7.6">2</tspan><tspan dy="-7.6">O</tspan></text>
<path d="M1332.5 127.4H1345.1M1338.8 127.4V163.4M1332.5 163.4H1345.1" stroke="#000" stroke-width="4" stroke-linejoin="round" fill="none"/>
<text x="1349.8" y="155.7" font-size="29.3">500 a.u.</text>
<text x="1632.3" y="230.9" font-size="29.3" text-anchor="middle" fill="#737373">–0.8 V</text>
<text x="1632.3" y="345.1" font-size="29.3" text-anchor="middle" fill="#737373">–0.6 V</text>
<text x="1632.3" y="469.5" font-size="29.3" text-anchor="middle" fill="#737373">–0.4 V</text>
<text x="1632.3" y="572" font-size="29.3" text-anchor="middle" fill="#737373">–0.2 V</text>
<text x="1632.3" y="691.3" font-size="29.3" text-anchor="middle" fill="#737373">0 V</text>
<text x="1632.3" y="760.6" font-size="29.3" text-anchor="middle" fill="#737373">0.2 V</text>
<text x="1632.3" y="801.6" font-size="29.3" text-anchor="middle" fill="#737373">0.4 V</text>
<text x="1632.3" y="839.2" font-size="29.3" text-anchor="middle" fill="#737373">ocp</text>
<path d="M1545.8 163.6V716.7" stroke="#000" stroke-width="3.2" stroke-dasharray="8 4.7" fill="none"/>
<text x="1544.6" y="153.4" font-size="29.3" text-anchor="middle">706</text>
<path d="M1903.4 203.5V730.4" stroke="#000" stroke-width="3.2" stroke-dasharray="8 4.7" fill="none"/>
<text x="1901.5" y="193.7" font-size="29.3" text-anchor="middle">668</text>
<rect x="45.5" y="1035.5" width="669" height="899" fill="none" stroke="#000" stroke-width="1.2"/>
<clipPath id="cd"><rect x="44.8" y="1034.8" width="670.5" height="900.5"/></clipPath>
<g clip-path="url(#cd)" fill="none" stroke-width="4.5" stroke-linejoin="round" stroke-linecap="round">
<path d="M52.6 1019.8l1.4 14.2l1.4 9.3l1.4 6.9l1.4 9l1.4 5l1.4 5.2l1.4 7.1l1.4 3.1l1.4 4.1l1.4 6.1l1.4 5.8l1.4 3.6l1.4 2.4l1.4 2.4l1.4 5.4l1.4 5.3l1.4 0.4l1.4 1.1l1.4 2.3l1.4 0.7l1.4 1.9l1.4 1.1l1.4 0.9l1.4 1.5l1.4 1.3l1.4 0.4l1.4 3l1.4-0.3l1.4 1.3l1.4 1.9l1.4 1.5l1.4-1.8l1.4 2.6l1.4 2.3l1.4 1.4l1.4 1l1.3 3.8l1.4 0.7l1.4 3.1l1.4 2.3l1.4 4.1l1.4 3.4l1.4 0l1.4 1.3l1.4 3.6l1.4 2.2l1.4 2.6l1.4 2.4l1.4 0.1l1.4 2l1.4 3.2l1.4 5.4l1.4-1.7l1.4 2.8l1.4 3l1.4 2.8l1.4 1.3l1.4 1.7l1.4 2.1l1.4 1.4l1.4 1.2l1.4 1.9l1.4-0.8l1.4 1.3l1.4 2.9l1.4 0.1l1.4 0.3l1.4 0.2l1.4 1.7l1.4 1.7l1.4 1.7l1.4 1.8l1.4 0.9l1.4 2.2l1.4-0.6l1.4 3.9l1.4 1.4l1.4 1.1l1.4-0.4l1.4 4.5l1.4-1.3l1.4 3.6l1.4-2.3l1.4 4.3l1.4 3l1.4 1l1.4 0.6l1.4 1l1.4-1.6l1.4 3.2l1.4 0.6l1.4 1.9l1.4 2.2l1.4 0.6l1.4-3.1l1.4-0.1l1.4 1.1l1.4 1.8l1.4-1l1.4-0.2l1.4 0.4l1.4-1.3l1.3-0.1l1.4-0.6l1.4 0.3l1.4 1l1.4 1.9l1.4-0.4l1.4-2.8l1.4 0.8l1.4 1.1l1.4-2.1l1.4-2.6l1.4 0.5l1.4 0.9l1.4-3.2l1.4-1l1.4 0.4l1.4-0.1l1.4 3.6l1.4-2.8l1.4 1.7l1.4 0.4l1.4 0.1l1.4-0.7l1.4-1.4l1.4-0.5l1.4-0.4l1.4 0.7l1.4 0.3l1.4 1.8l1.4-0.3l1.4 1.8l1.4 2.3l1.4 2.9l1.4-1.3l1.4-1.8l1.4 3.6l1.4-0.1l1.4 1.2l1.4-0.8l1.4 1.1l1.4 1.7l1.4 0.1l1.4 3.4l1.4 2.1l1.4-0.8l1.4-1.9l1.4-0.3l1.4 0.2l1.4 0.3l1.4 0.2l1.4 1.9l1.4-1.4l1.4 0.4l1.4 2.2l1.4-1.9l1.4 0.5l1.4 0.1l1.4 0.9l1.4-0.7l1.4-2.6l1.4 1.5l1.4 1l1.4 2.9l1.4 0.1l1.4 0.9l1.4 0.4l1.4 0.7l1.3-1.5l1.4-0.3l1.4-0.3l1.4 0.1l1.4-0.6l1.4 1.3l1.4 3.1l1.4-2.8l1.4-4.1l1.4 3.2l1.4-0.5l1.4 2.3l1.4 0.5l1.4-1.4l1.4 2.7l1.4 0.1l1.4 0.3l1.4 0.2l1.4 4.2l1.4-1.8l1.4-0.1l1.4 0.4l1.4-0.9l1.4 1.6l1.4 0.9l1.4 2.5l1.4-2.7l1.4 1.9l1.4-1.6l1.4-1.1l1.4 1.8l1.4-0.2l1.4-0.4l1.4 0.4l1.4-1.2l1.4 0.7l1.4 0.6l1.4 0.2l1.4-1.5l1.4-0.7l1.4-2.2l1.4-0.3l1.4 1.4l1.4 0.1l1.4-0.7l1.4 0.2l1.4 0.3l1.4 2.1l1.4-0.3l1.4-0.9l1.4-2l1.4 0.5l1.4 2.5l1.4 0.8l1.4-0.8l1.4-0.3l1.4-1.3l1.4-2.9l1.4 2l1.4-1.3l1.4-0.8l1.4 2l1.4 0.2l1.4 0.6l1.4-1.3l1.4 0.7l1.3-1.9l1.4-1.6l1.4 2.2l1.4-0.8l1.4-2.5l1.4 0.4l1.4 3.5l1.4-0.4l1.4-1.6l1.4 0.2l1.4 0.3l1.4-1.9l1.4 0.5l1.4-0.7l1.4 1.5l1.4-1.5l1.4 2l1.4 1.7l1.4-1.1l1.4-1.4l1.4 0.2l1.4 0.5l1.4-0.8l1.4-0.8l1.4 1.3l1.4 1.8l1.4-0.5l1.4-0.7l1.4-0.8l1.4 4.5l1.4 0.4l1.4 1.9l1.4-1.1l1.4-0.7l1.4-1.7l1.4 1.3l1.4-0.5l1.4 1.5l1.4 0.3l1.4-1l1.4 2.9l1.4-2.7l1.4 1.2l1.4-0.3l1.4-1.2l1.4 0.6l1.4 0.4l1.4 1.8l1.4 1.2l1.4 0l1.4-1.8l1.4 0.2l1.4-1.9l1.4 3.9l1.4 0.7l1.4-1.7l1.4 0l1.4-2.5l1.4 0.4l1.4 2.1l1.4-1.1l1.4 0.5l1.4 0.9l1.4-0.1l1.4 0.5l1.4 0.5l1.4 0.3l1.3-1.3l1.4 1.2l1.4-1.3l1.4-1.8l1.4 1.5l1.4 0.4l1.4 0.9l1.4-3.5l1.4 1.3l1.4-0.3l1.4 2.7l1.4-1.4l1.4-0.1l1.4 2.3l1.4 3.2l1.4-0.7l1.4-3.6l1.4 1.2l1.4 1.8l1.4-1l1.4 0.3l1.4 2.1l1.4-1.5l1.4-1.6l1.4 1.8l1.4 0.1l1.4-0.5l1.4-1.5l1.4-0.1l1.4 3.5l1.4-2.1l1.4 0.6l1.4-1.6l1.4 0.8l1.4 1.4l1.4-0.4l1.4-0.8l1.4-0.4l1.4-2l1.4 1.2l1.4 0l1.4-1l1.4-1.2l1.4 3.4l1.4-1.2l1.4-1.9l1.4 0.3l1.4 0.1l1.4 1.1l1.4-0.2l1.4-1.7l1.4 0.1l1.4-0.1l1.4 0.4l1.4 0.8l1.4-2.5l1.4-1.9l1.4 0l1.4-2.3l1.4-4.8l1.4-5l1.4-2.4l1.4-1.6l1.4 0.7l1.4-3.5l1.4 1l1.3 5l1.4 2.8l1.4 1.7l1.4 3l1.4 3.6l1.4 4.6l1.4-0.8l1.4 3.1l1.4 2.9l1.4 2l1.4-1.6l1.4 0.5l1.4-1.9l1.4 0.8l1.4-3.7l1.4 1.6l1.4 1.2l1.4 2l1.4 0l1.4 1.8l1.4-0.8l1.4-1.8l1.4 0.2l1.4 1.5l1.4-0.1l1.4 0.7" stroke="#737373"/>
<path d="M45.5 1042.6l1.4 6.9l1.4 7.6l1.4 4.6l1.4 7.8l1.4 7.4l1.4 6.6l1.4 5.6l1.4 6.8l1.4 8.7l1.4 3.3l1.4 4.7l1.4 4.5l1.4 6.3l1.4 3.4l1.4 4.2l1.4 2.6l1.4 3.5l1.4 3.7l1.4 4.1l1.4 4.9l1.4 4.3l1.4 4.9l1.4 2.5l1.4 3.9l1.4 2.3l1.4 0.8l1.4 1.8l1.4-0.1l1.4 1.3l1.4 1l1.4 4.4l1.4 1l1.4 1.4l1.4 1.1l1.4 0.6l1.4 1.8l1.4 1.8l1.4 2.3l1.4 0.1l1.4 1.7l1.4-0.5l1.4 0l1.4-1.6l1.4-3.2l1.4 6.5l1.4 7.8l1.4 9.6l1.4 4l1.4 3l1.4 1.9l1.4 1.9l1.3 2.5l1.4 2.3l1.4-0.1l1.4 0.6l1.4 1.8l1.4 1.7l1.4 2.2l1.4-0.1l1.4 0.7l1.4 1l1.4 2.7l1.4 0.6l1.4 3.2l1.4 2.3l1.4 0.6l1.4 1.5l1.4-1.9l1.4 3.5l1.4 1.8l1.4-0.1l1.4-3.1l1.4 4l1.4 2.7l1.4 3.6l1.4-0.2l1.4 0.5l1.4 0.3l1.4 2.9l1.4 3.4l1.4 2.1l1.4 0.3l1.4 0.2l1.4 3.6l1.4 3.8l1.4-1.9l1.4 2.8l1.4 2.1l1.4-0.1l1.4 1.2l1.4 1.9l1.4 1.9l1.4 1.4l1.4 0.2l1.4 0.7l1.4 1.6l1.4-1.8l1.4 3.4l1.4-0.3l1.4-0.9l1.4-1.8l1.4-0.1l1.4 1.8l1.4-1.4l1.4 0.5l1.4-2.1l1.4 0.4l1.4 3.2l1.4-0.7l1.4 1.9l1.4-2.9l1.4-0.1l1.4 1.2l1.4-0.2l1.4 0.3l1.4-2.5l1.4-2l1.4 1.8l1.4-3.6l1.4-0.8l1.4 3.7l1.4 1.6l1.4 0.4l1.4-0.5l1.4-3.4l1.4 1.3l1.4 0.5l1.4 0.9l1.4-0.1l1.4 1.4l1.3 2l1.4 0.5l1.4-1.3l1.4 0.2l1.4 0.2l1.4-0.4l1.4 0.8l1.4-1.5l1.4 2l1.4 0.9l1.4 1.1l1.4 0.6l1.4-0.6l1.4 0.9l1.4 2.5l1.4 2.4l1.4-2.1l1.4 1.3l1.4 1.9l1.4 0.6l1.4-0.5l1.4-2.3l1.4 3.7l1.4-1.6l1.4 0.1l1.4-1.2l1.4 0.1l1.4 0.3l1.4-1.8l1.4 2.5l1.4-1.3l1.4 0.5l1.4-0.9l1.4-0.1l1.4-1l1.4 0l1.4-0.9l1.4 3.5l1.4 0.5l1.4 0.8l1.4-3.4l1.4 0.1l1.4 1.8l1.4 1.6l1.4-1.8l1.4-1l1.4-1l1.4 0.2l1.4 0.4l1.4 2.1l1.4 0.1l1.4-1.4l1.4 2.3l1.4 2.7l1.4-1.5l1.4-0.5l1.4 2.4l1.4-0.4l1.4 2.4l1.4-0.8l1.4 0.9l1.4 0.7l1.4 1.2l1.4-0.6l1.4 0.5l1.4 0.7l1.4-3.5l1.4 3.1l1.4-0.7l1.4-0.6l1.4 0.2l1.4-0.1l1.4 0l1.4-0.7l1.4 1.9l1.4 1l1.4-1.4l1.4 2.4l1.4-0.3l1.4-2.3l1.3-1.8l1.4-1.5l1.4 2.4l1.4-1l1.4 2.7l1.4-3l1.4 2.2l1.4-0.6l1.4 0.7l1.4-1.3l1.4 0.1l1.4-1.3l1.4 1.6l1.4-1.3l1.4 1.4l1.4-2.8l1.4 1.3l1.4-1.6l1.4-0.2l1.4 0l1.4-0.9l1.4-0.9l1.4 1.2l1.4-1.5l1.4 1.7l1.4 1.6l1.4-2l1.4 1.3l1.4-1.2l1.4 1.2l1.4 1.2l1.4-1l1.4 0.1l1.4 2.6l1.4-2.9l1.4 0.6l1.4-2.1l1.4 2.3l1.4-0.8l1.4-0.3l1.4 2.4l1.4-0.5l1.4-2l1.4-0.1l1.4 0.3l1.4 1.2l1.4-1.9l1.4 0.3l1.4-1.6l1.4 2.4l1.4 0.4l1.4-1.3l1.4-0.7l1.4-0.1l1.4 1.1l1.4-1.1l1.4 0.5l1.4 2l1.4-1.2l1.4 2.1l1.4-1l1.4 0.4l1.4 1.3l1.4 1.8l1.4 0.8l1.4-2.8l1.4 1.1l1.4 0.6l1.4 1l1.4 0.3l1.4 0.4l1.4 1.6l1.4 0.1l1.4-0.4l1.4-0.1l1.4 0.8l1.4-0.8l1.4 2.8l1.4-2.1l1.3 1.5l1.4-0.7l1.4-2.5l1.4 3l1.4 0.7l1.4 0l1.4-1.7l1.4 0.3l1.4-2.3l1.4 2.6l1.4-3l1.4 0.1l1.4 1.7l1.4-0.9l1.4 1l1.4-2l1.4 0.7l1.4 2.1l1.4-2.8l1.4-0.4l1.4-1.8l1.4 0.3l1.4 1.1l1.4-0.6l1.4 2.3l1.4-0.3l1.4 1.2l1.4-0.2l1.4 2l1.4-1.1l1.4-0.6l1.4 4.6l1.4-1.5l1.4 0.9l1.4-0.5l1.4-0.1l1.4 0.6l1.4-0.3l1.4-1.5l1.4-1.2l1.4 1.5l1.4-1.4l1.4 2l1.4 0.4l1.4 1.1l1.4 0.3l1.4-0.4l1.4-4l1.4 3.7l1.4 1.4l1.4-2l1.4-1.4l1.4 0.9l1.4 0.1l1.4-2.2l1.4 0.1l1.4-0.1l1.4-1.2l1.4 3.3l1.4 0.2l1.4 0l1.4-1.8l1.4 1.5l1.4-1l1.4-1.3l1.4-0.7l1.4-1.5l1.4 2.3l1.4-1.1l1.4-1.1l1.4 1.9l1.4 0l1.4-2.2l1.4-0.8l1.4-0.9l1.4 1.1l1.4 0l1.4-4.6l1.4-2.7l1.3-4.4l1.4-7.4l1.4-1.4l1.4 0.4l1.4 4.1l1.4 3.2l1.4 7.1l1.4 3.5l1.4-0.4l1.4-1.1l1.4 2.9l1.4 1l1.4 1.7l1.4 2.8l1.4-2.3l1.4 1.9l1.4-0.8l1.4 1.3l1.4-0.2l1.4 1l1.4 1.3l1.4-1.2l1.4 5.4l1.4-0.5l1.4-0.9l1.4 0.4l1.4 0.3l1.4-2.8l1.4-0.3l1.4 2l1.4-1.3" stroke="#509551"/>
<path d="M45.5 1137.2l1.4 8l1.4 10.3l1.4 9.4l1.4 10.9l1.4 11.2l1.4 11.7l1.4 10.2l1.4 7.3l1.4 8.5l1.4 4.5l1.4 6.5l1.4 4.1l1.4 3.4l1.4 3.8l1.4 1.9l1.4 1.8l1.4 2.7l1.4 1.2l1.4 0.4l1.4 4.3l1.4 2.5l1.4 1.3l1.4 0.7l1.4 1.6l1.4 3.6l1.4 2l1.4 0.2l1.4 2.7l1.4-1.1l1.4 1l1.4 0.6l1.4-0.2l1.4 1.9l1.4 1.1l1.4 1.2l1.4 2.2l1.4-0.1l1.4 1.6l1.4 0.3l1.4 1.7l1.4 2l1.4 0.9l1.4 2.9l1.4 1.7l1.4 1.2l1.4 2.9l1.4-1l1.4 2.6l1.4 4.7l1.4 1.2l1.4 1.5l1.3 0.3l1.4-0.4l1.4 0.9l1.4 1.1l1.4 0.9l1.4 2.4l1.4 0.6l1.4 1.9l1.4 2.2l1.4-0.4l1.4 1.1l1.4 3.4l1.4-0.9l1.4 1.2l1.4 2.5l1.4 0.5l1.4-0.1l1.4-0.9l1.4 3.5l1.4-1.5l1.4-2.3l1.4 0.1l1.4 3.1l1.4 1.5l1.4 0.7l1.4 2.2l1.4 2.7l1.4-1.1l1.4 1.8l1.4-0.1l1.4 2.4l1.4 3.2l1.4-2l1.4 1.6l1.4 1.9l1.4 0.4l1.4 1.6l1.4-1.5l1.4 0.2l1.4 0.6l1.4 1.3l1.4 0.4l1.4 0.8l1.4-0.3l1.4 4.6l1.4-1.3l1.4-0.7l1.4 3.5l1.4-1.8l1.4-1.7l1.4 1.3l1.4 0.3l1.4-1.4l1.4-2.4l1.4-0.7l1.4 0.2l1.4 2.9l1.4 0.4l1.4-3.4l1.4-2.2l1.4 0.3l1.4 0.6l1.4 1.1l1.4 0l1.4-0.2l1.4 2.2l1.4-1l1.4-0.7l1.4 1.9l1.4 0.4l1.4-0.6l1.4 2.9l1.4-0.4l1.4-0.4l1.4-2.5l1.4-0.9l1.4 0l1.4 0.9l1.4-1.5l1.3 0l1.4-1.3l1.4 1.7l1.4-0.8l1.4 0.6l1.4-1.1l1.4-0.8l1.4 0l1.4 2.5l1.4 1.6l1.4-0.1l1.4 1.6l1.4-0.8l1.4 1l1.4 0.9l1.4 0l1.4 1l1.4-3l1.4-0.9l1.4 1.7l1.4 1.3l1.4-0.5l1.4-3.3l1.4 2l1.4 1.9l1.4-0.2l1.4 1.4l1.4 2.9l1.4-4.4l1.4 0.4l1.4 0.5l1.4 0.8l1.4 0.4l1.4 0.6l1.4-0.5l1.4 0.4l1.4-1.2l1.4-1.8l1.4 4.6l1.4 1.3l1.4-2l1.4-0.3l1.4-1l1.4-0.3l1.4 1.5l1.4 1.2l1.4-1.2l1.4 0.4l1.4 1.1l1.4 0.4l1.4 1.6l1.4-1.7l1.4 1.1l1.4 0.3l1.4 0.8l1.4-1.4l1.4-1.2l1.4-2.8l1.4-0.1l1.4 2.9l1.4 2.3l1.4 0.7l1.4-1.1l1.4-0.9l1.4 3.4l1.4-1.7l1.4-1.6l1.4-1.3l1.4 2.9l1.4 1.5l1.4 0l1.4 0.9l1.4-3.7l1.4 2.2l1.4 1.2l1.4-1.1l1.4 0.1l1.4-0.7l1.4 0.3l1.4-2l1.3-0.8l1.4 1.9l1.4-2.1l1.4-1.1l1.4 0.7l1.4-0.7l1.4-2.3l1.4 0.2l1.4 1.2l1.4-1.5l1.4-1l1.4 0.3l1.4-0.3l1.4 2.5l1.4-1.7l1.4 1.8l1.4-2.5l1.4 0l1.4-1.1l1.4 3.5l1.4 0.2l1.4-0.3l1.4 0.5l1.4-2l1.4-1.1l1.4 1.6l1.4-2.7l1.4 1.7l1.4 2l1.4-0.9l1.4-1.8l1.4-0.7l1.4 1.7l1.4 0.2l1.4-2.2l1.4 2.4l1.4-1.4l1.4 2.3l1.4-3.4l1.4 3l1.4-0.6l1.4 0.9l1.4 0.9l1.4-2.1l1.4-1l1.4-0.9l1.4 2.2l1.4-2.1l1.4 1.7l1.4-0.6l1.4-0.9l1.4-1.4l1.4 1.9l1.4 0.6l1.4 2l1.4-1.6l1.4 0.4l1.4 0.6l1.4 1.4l1.4 0.5l1.4-0.9l1.4-3l1.4 2l1.4 1.6l1.4 0.9l1.4 0.6l1.4-0.7l1.4-1.5l1.4 2.8l1.4-0.1l1.4-0.8l1.4-0.2l1.4 0.4l1.4 1.2l1.4-1.2l1.4 0.2l1.4 1.1l1.4-0.5l1.4-3.1l1.3 2.8l1.4 0.4l1.4 0.3l1.4-1.9l1.4 0.1l1.4-1.1l1.4 0.1l1.4-0.6l1.4-0.8l1.4 1.1l1.4 1.7l1.4-2.1l1.4 0.3l1.4 0.2l1.4-0.6l1.4-0.5l1.4 1.3l1.4-0.1l1.4 0.8l1.4-2.5l1.4 0.9l1.4-0.7l1.4-0.2l1.4 0.2l1.4-0.2l1.4-0.6l1.4 2.4l1.4-1.4l1.4 2.6l1.4-1.9l1.4-0.8l1.4 3.1l1.4 0l1.4-3l1.4-0.5l1.4 3.4l1.4-3l1.4 0.8l1.4 1.2l1.4 2.4l1.4 1.2l1.4-1l1.4-1l1.4 0.4l1.4 0.5l1.4-1.8l1.4 1.4l1.4-1.2l1.4 0.8l1.4-0.7l1.4-0.7l1.4-0.9l1.4-0.5l1.4-0.1l1.4 2l1.4-0.7l1.4-2.6l1.4-1.1l1.4-1.2l1.4 2.7l1.4-3.1l1.4 2.3l1.4 0.3l1.4 0.1l1.4 0l1.4 1.4l1.4-1.5l1.4-0.4l1.4-0.2l1.4-2.3l1.4 0.6l1.4-3.2l1.4-0.6l1.4-1.9l1.4-3.4l1.4-3.5l1.4-2.4l1.4-1.5l1.4-3.1l1.3 2.3l1.4 5.4l1.4 1.6l1.4 3.5l1.4 4.1l1.4 0.1l1.4 3.2l1.4-0.5l1.4 0.6l1.4 0.4l1.4 1.5l1.4-2l1.4-0.6l1.4 1.5l1.4 0.5l1.4-1.4l1.4 0.3l1.4-0.1l1.4-0.1l1.4-2.8l1.4 0l1.4 2.2l1.4 2.3l1.4 0.8l1.4 1.6l1.4 0.6l1.4-3.6l1.4 1.4l1.4-0.5l1.4-3.3l1.4 1.4" stroke="#737373"/>
<path d="M45.5 1039.7l1.4 7.6l1.4 3.7l1.4 7.6l1.4 9.1l1.4 9.2l1.4 5.4l1.4 8l1.4 5l1.4 8.3l1.4 7.6l1.4 6.2l1.4 6.9l1.4 6.2l1.4 7l1.4 1.5l1.4 8.3l1.4 2.3l1.4 6.7l1.4 4.5l1.4 4.3l1.4 0.5l1.4 1.1l1.4 2.5l1.4 4.7l1.4 0.7l1.4 1.2l1.4 3.5l1.4-1.3l1.4 0.2l1.4 6.1l1.4 2.2l1.4 3.2l1.4 2.3l1.4-0.5l1.4 1.5l1.4 2.1l1.4-1.8l1.4 2l1.4-1.1l1.4-0.5l1.4-1.2l1.4 1l1.4 0.4l1.4 2.2l1.4 7.8l1.4 9.2l1.4 7.1l1.4 7.7l1.4 6.8l1.4 4.3l1.4 2.2l1.3 1.6l1.4 3.9l1.4 1.1l1.4 4.4l1.4 1.8l1.4 3l1.4 4.9l1.4 2.7l1.4 2.7l1.4 1.9l1.4 2.5l1.4 4.6l1.4 1.6l1.4 3l1.4 2.9l1.4 3.9l1.4 2.8l1.4 2.4l1.4 7.2l1.4 1.8l1.4 4.9l1.4 1.9l1.4 4.1l1.4 4.3l1.4 2.5l1.4 0.4l1.4 5.1l1.4 5l1.4 3.5l1.4-0.5l1.4 5.2l1.4 1.3l1.4 2.6l1.4 4.5l1.4 1.9l1.4 1.3l1.4 1.6l1.4 5.4l1.4 3l1.4-1l1.4 4.2l1.4-0.5l1.4-0.5l1.4 5.7l1.4 2.2l1.4-0.1l1.4-0.4l1.4 1.3l1.4 1.9l1.4 1.1l1.4 3.3l1.4 0.8l1.4-3l1.4 0.4l1.4 1.2l1.4 2.2l1.4-2.9l1.4 1.3l1.4 2.1l1.4-0.7l1.4-4.1l1.4 1.1l1.4 5.5l1.4-5l1.4 1.1l1.4-0.4l1.4 0l1.4 1.7l1.4 0.2l1.4-1.1l1.4 1.9l1.4-3.4l1.4 0.4l1.4-0.2l1.4-3.2l1.4 5.7l1.4-3.9l1.4 2.4l1.4 0.8l1.3 3.9l1.4 0.4l1.4 0.6l1.4-1.5l1.4-3.2l1.4 2.2l1.4-3.3l1.4-1.4l1.4 1.9l1.4 4.4l1.4-1.6l1.4-0.3l1.4 0.7l1.4 1.4l1.4-2.3l1.4 1.9l1.4-0.5l1.4 0.7l1.4 2.1l1.4 1.5l1.4 0.1l1.4-1.9l1.4 1.5l1.4-0.8l1.4 0.7l1.4 3.1l1.4-0.6l1.4-1.7l1.4 4.7l1.4 0.9l1.4-0.6l1.4 0.1l1.4 1.7l1.4 1.6l1.4 1l1.4 1.7l1.4 0l1.4 3.1l1.4-2.6l1.4 3.5l1.4-3.6l1.4 4.5l1.4-1.3l1.4 1.2l1.4 1.2l1.4 3.4l1.4-1.3l1.4-0.9l1.4 0.5l1.4 1.2l1.4 0.2l1.4 0.4l1.4-0.1l1.4-1.6l1.4-1.1l1.4 3.7l1.4-0.9l1.4 0.9l1.4 0.1l1.4 2.6l1.4-2.5l1.4-0.3l1.4 0.6l1.4 1.8l1.4-0.5l1.4 1.9l1.4 1.5l1.4-4.2l1.4-1.8l1.4 1.8l1.4 0.5l1.4 0.9l1.4 1.4l1.4-1l1.4 0.7l1.4 0.8l1.4 1.6l1.4-2.1l1.4 1.9l1.4 3.4l1.3-1.5l1.4-0.2l1.4-4.9l1.4 1.7l1.4-0.8l1.4-1.5l1.4 2.3l1.4-0.4l1.4-1l1.4-1.9l1.4 0.9l1.4 0.7l1.4-1.2l1.4 1.9l1.4-2.1l1.4-1.5l1.4-1.7l1.4-0.5l1.4-1.4l1.4 2l1.4-0.9l1.4 1.3l1.4-1.9l1.4 1l1.4 2.7l1.4 0.5l1.4 0.7l1.4-2.5l1.4-1.7l1.4 1.6l1.4 2.2l1.4 1.1l1.4 0.8l1.4 2.6l1.4 0l1.4-3l1.4 0l1.4 0.1l1.4 1.6l1.4 0.6l1.4-2.5l1.4 2.6l1.4-1.1l1.4-2.4l1.4-1.2l1.4 2.7l1.4-4.3l1.4 1.6l1.4 0.3l1.4 3.3l1.4 1.3l1.4-0.1l1.4 0.3l1.4 0l1.4 1l1.4-6.1l1.4 2.1l1.4-2.9l1.4-1.5l1.4-0.4l1.4 1.1l1.4 1.9l1.4 2.4l1.4-3.1l1.4-0.2l1.4 1.8l1.4 0.4l1.4-2.1l1.4-1.1l1.4 2.8l1.4-2.8l1.4 0.8l1.4 1.3l1.4 2.4l1.4-1.4l1.4 0l1.4 2.8l1.4-2.5l1.4-2.3l1.3 3.2l1.4-0.4l1.4-1.2l1.4 2.2l1.4 0l1.4 0.4l1.4 1.6l1.4 0.1l1.4-1.4l1.4-0.4l1.4-2.6l1.4-1.3l1.4 1.2l1.4 0.9l1.4-0.9l1.4 1.6l1.4-0.4l1.4 0.7l1.4 2.2l1.4 1l1.4 0.6l1.4-0.1l1.4 0.2l1.4 2.4l1.4-1.9l1.4-0.2l1.4-0.6l1.4-0.5l1.4 7.2l1.4-2.3l1.4-0.8l1.4 0.1l1.4 2.1l1.4-1l1.4 3.6l1.4-3.1l1.4-0.5l1.4 0.9l1.4 0l1.4 0.6l1.4-2.8l1.4 4.6l1.4-1.5l1.4 1.3l1.4 2.6l1.4-3.4l1.4-1.3l1.4-0.5l1.4-4l1.4 2.2l1.4-5l1.4 0.7l1.4-2.6l1.4 0l1.4-0.8l1.4 0.4l1.4-0.6l1.4 1.5l1.4 0.9l1.4-1.3l1.4 2.2l1.4 1.1l1.4 1.2l1.4-2.6l1.4 1.5l1.4 1.7l1.4 0.2l1.4 3.1l1.4-0.2l1.4-1.7l1.4 1.2l1.4-3l1.4 0l1.4 0.5l1.4-4.1l1.4-4.8l1.4-13.7l1.4-9l1.4-6l1.3-4.2l1.4-2.3l1.4-2.1l1.4 3.5l1.4 6.2l1.4 9.1l1.4 5.9l1.4 8l1.4 2.1l1.4 4.2l1.4 0.3l1.4 0.8l1.4 0l1.4-0.5l1.4 1.2l1.4-1.4l1.4 3.1l1.4 2.5l1.4 4.5l1.4-0.2l1.4 3.2l1.4 0.1l1.4 5l1.4 2.6l1.4 2.7l1.4 1.2l1.4 1.7l1.4 3.6l1.4-5.7l1.4-1.3l1.4 1.2" stroke="#509551"/>
<path d="M51.8 1019.1l1.4 15.4l1.4 15.4l1.4 12.4l1.4 14l1.4 12.3l1.4 8.8l1.4 9.5l1.4 11.7l1.4 8.3l1.4 9.5l1.4 7.4l1.4 5.3l1.4 6l1.4 5.1l1.4 5.3l1.4 4.5l1.4 4.1l1.4 3.4l1.4 7.6l1.4-1.4l1.4 3.6l1.4 4.2l1.4 5.4l1.4 2.4l1.4 0.5l1.4 2.5l1.4 4.7l1.4 0.3l1.4-0.3l1.4 3.4l1.4-0.4l1.4 1.5l1.4 1.5l1.4 0.3l1.4-1l1.4-2.1l1.4-0.9l1.4 1.3l1.4 2l1.4 4.5l1.4 7l1.4 7.3l1.4 8.1l1.4 7.8l1.4 7.5l1.4 6.1l1.4 7.6l1.4 4.6l1.4 1.9l1.4 0.5l1.4 1.7l1.4 4.2l1.4 3.6l1.4 0.6l1.4 2l1.4 4.8l1.4 6.1l1.4 2.4l1.4 7.5l1.4 3.8l1.4 3.8l1.4 2.9l1.4 3.5l1.4 2.7l1.4 5.7l1.4 3.9l1.5 3.6l1.4 4.7l1.4 1.1l1.4 3.7l1.4 2.9l1.4 2.2l1.4 1.8l1.4 5.8l1.4 4.3l1.4 1l1.4 2.4l1.4 4.1l1.4 3.8l1.4 5.4l1.4 4l1.4 2.8l1.4 4.5l1.4 4.1l1.4 6.5l1.4 2.3l1.4-1.8l1.4 4.5l1.4 2.7l1.4 0.6l1.4 0.7l1.4 5.2l1.4 1.1l1.4-4.2l1.4 2.7l1.4-0.5l1.4-2.4l1.4-1.3l1.4-1.3l1.4 3.5l1.4-0.2l1.4 0.5l1.4-1.7l1.4 0.8l1.4 1.4l1.4-1.3l1.4-0.4l1.4-1.8l1.4 2.2l1.4-5.7l1.4 0.1l1.4-0.3l1.4 0.6l1.4 5.5l1.4 0.5l1.4 0.1l1.4 0l1.4-3.4l1.4-1.1l1.4 2.7l1.4 1l1.4-2.3l1.4 2.4l1.4 1.3l1.4 1.6l1.4 2.6l1.4-0.6l1.4 2.3l1.4-3.3l1.4-1.6l1.4 1.6l1.4-0.8l1.4 0.5l1.4-5.5l1.4 2.8l1.4-0.4l1.4 2.2l1.4-0.6l1.4-0.2l1.4-0.3l1.4 3.1l1.4-5.1l1.4 1.7l1.4 1.8l1.4-2.5l1.4-1.1l1.4-0.3l1.4 3.6l1.4 0.8l1.4 0.6l1.4-1.6l1.4-0.4l1.4-1.5l1.4 1.4l1.4-0.1l1.4-1l1.4 5.3l1.4-3.2l1.4 4l1.4 1.2l1.4-0.5l1.4 1.8l1.4 1.9l1.4 4.2l1.4-1.9l1.4 1.2l1.4 5.3l1.4-1.4l1.4 0.1l1.4 1.2l1.4 2.7l1.4 1.3l1.4 2.8l1.4 2.7l1.4 1.7l1.4 0.1l1.4 0.6l1.4-0.9l1.4 0.9l1.4 1.6l1.4-1l1.4 2.7l1.4 1.7l1.4-0.2l1.4-3.6l1.4 3.2l1.4-0.4l1.4 0.1l1.4 1.3l1.4-2.2l1.4 0.5l1.4 2.7l1.4 0.2l1.4-1.4l1.4 4.3l1.4-4.5l1.4 1.5l1.4 0.4l1.4 2.8l1.4-1.2l1.4-0.5l1.4 1.3l1.4 0.6l1.4-0.5l1.4 2.5l1.4-1.6l1.4-1.4l1.4-3.2l1.4 2.1l1.4-4.1l1.4 1.8l1.4-0.4l1.4-2.7l1.4-0.5l1.4 1.6l1.4-0.6l1.4 2.9l1.4-5.1l1.4-0.4l1.4 0.3l1.4-1.1l1.4 3.4l1.4 0.2l1.4-1.8l1.4-4.8l1.4 0.2l1.4 3.9l1.4 3.8l1.4-3l1.4-1l1.4-0.5l1.4-4.4l1.4 2.4l1.4 2.6l1.4-3.2l1.4-1.5l1.4 0.1l1.4 2.5l1.4 4.4l1.4 0.6l1.4-3l1.4-1.8l1.4 1l1.4-3l1.4-0.2l1.4-3.1l1.4-2.1l1.4 1l1.4-1l1.4 0.6l1.4 0.5l1.4-0.1l1.4-2.2l1.4 0.9l1.4 0l1.4-0.5l1.4 0.6l1.4-2.1l1.4-2.3l1.4-0.9l1.4-0.5l1.4 1.7l1.4-1.1l1.4-2.9l1.4 0.8l1.4 3.1l1.4-3.5l1.4-1.7l1.5 2.2l1.4-2.9l1.4 1.2l1.4 2l1.4-4.1l1.4-0.7l1.4 1.4l1.4-1.1l1.4-0.5l1.4 0l1.4-1.7l1.4 3.1l1.4-0.3l1.4 0.6l1.4 1.9l1.4-2.9l1.4 3.6l1.4 1.3l1.4 0l1.4-0.4l1.4 2.3l1.4-0.2l1.4-0.3l1.4 0.9l1.4 1.9l1.4 0.3l1.4 2.7l1.4-1.7l1.4-1l1.4 0.6l1.4 1.2l1.4-0.9l1.4 1.5l1.4-0.1l1.4-0.8l1.4 0.1l1.4 2.6l1.4 2.5l1.4 3.8l1.4-1.5l1.4 0.3l1.4 0.9l1.4 3.3l1.4 4.3l1.4-3.1l1.4 1.2l1.4 0.7l1.4 0.3l1.4 1.8l1.4-0.3l1.4-3.3l1.4 5.3l1.4-2l1.4 2.5l1.4-1.2l1.4 0.7l1.4 3.4l1.4-2.6l1.4 3.6l1.4-0.6l1.4-2.5l1.4 6.4l1.4-2.2l1.4 1.2l1.4-0.8l1.4 0.4l1.4-2.3l1.4-0.9l1.4 1.2l1.4 2.9l1.4-2.8l1.4-4.9l1.4-1.1l1.4 4.6l1.4-1.3l1.4-1.6l1.4 3.3l1.4 0.2l1.4 2.3l1.4 2.8l1.4-1.2l1.4-0.5l1.4 0.8l1.4-1.3l1.4-5.8l1.4 2.7l1.4-2.2l1.4-3.2l1.4 3.9l1.4-5.8l1.4-1.1l1.4-5l1.4-7.7l1.4-4.4l1.4-2.9l1.4-6.3l1.4-1.6l1.4 1.9l1.4 4.2l1.4 3.9l1.4 4.6l1.4 3.8l1.4 4.5l1.4 2.2l1.4 6.2l1.4 1.4l1.4 4.1l1.4 4.1l1.4 0.6l1.4 5.7l1.4 0.2l1.4 1.7l1.4 1.3l1.4 2.8l1.4 4.3l1.4-5l1.4 4.6l1.4 1.3l1.4-2.5l1.4-0.9l1.4 0.3l1.4-0.1l1.4 1l1.4 1.4l1.4 0.6l1.4-0.3" stroke="#737373"/>
<path d="M49.5 1019.5l1.4 19.7l1.4 16.8l1.4 16.9l1.4 15.2l1.4 12.9l1.4 11.4l1.3 10.1l1.4 9.4l1.4 8l1.4 11l1.4 7.8l1.4 11.1l1.4 5.3l1.4 7.8l1.4 9.1l1.4 5.3l1.4 5.4l1.4 5l1.4 4.4l1.4 1.8l1.4 3.1l1.4 4.6l1.4 4.8l1.4 3.6l1.4 2.6l1.4 2.6l1.4 4.9l1.4 1.9l1.4 2.3l1.4 2.8l1.4 3.5l1.4 3.6l1.4 1.9l1.4-0.1l1.4-1.6l1.4-3.5l1.4 1.4l1.4-3.1l1.4-0.3l1.4 0.7l1.4 8.5l1.4 11.7l1.4 8.6l1.4 8l1.4 6.1l1.4 7.8l1.4 6.8l1.4-0.5l1.4 3.2l1.4 4.7l1.4 4.5l1.4 6l1.4 4.3l1.4 2.5l1.4 3l1.4 5l1.4 1.6l1.4 4.2l1.4 6l1.4 4l1.4 1.1l1.4 8l1.4 3.9l1.4 2.5l1.4 1.7l1.4 3.2l1.4 5.8l1.4 2.9l1.4 2.9l1.4 4.8l1.4 1.9l1.4 6l1.4 4.6l1.4 5.9l1.4 2.7l1.4 3l1.4 3.5l1.4 5.3l1.4 1l1.4 6.5l1.4 1.7l1.4 2.9l1.4 0.7l1.4 4.3l1.4 9.2l1.4 1.3l1.4 2.7l1.4 0.6l1.4 0.9l1.4 3l1.4 4.1l1.4 1.8l1.4-1.8l1.4 1l1.4 1.8l1.4-2.8l1.4 2.8l1.4 1.6l1.4 0.3l1.4-1.7l1.4-1.7l1.4 0l1.4-1.7l1.4-2l1.4-0.6l1.4-0.7l1.4 3.5l1.4-4.2l1.4-0.7l1.4-0.7l1.4-1.8l1.4 1.2l1.4-2.7l1.4 0.4l1.4 0.9l1.4 0.4l1.4 0.6l1.4-0.1l1.4-4.6l1.4 4.8l1.4-1.6l1.4 6.8l1.4-2.1l1.4-4.2l1.4 0.7l1.4 2.6l1.4 3.5l1.4-0.1l1.4-1.5l1.4 1.5l1.4 0.8l1.4 0.5l1.4 1.6l1.4 0.8l1.4-0.1l1.4-2.8l1.4-1.8l1.4-1.2l1.4-1.3l1.4-1.3l1.4 1.3l1.4-1.7l1.4-0.9l1.4-1l1.4 1l1.4-1.2l1.4 2.3l1.4-0.1l1.4-0.1l1.4-0.8l1.4-0.2l1.4-0.5l1.4 2.1l1.4 2.1l1.4 1.9l1.4-1.2l1.4-1.9l1.4 0.2l1.4 3.1l1.4-0.5l1.4-1l1.4 2.7l1.4 4.5l1.4-1.3l1.4 4.2l1.4 1.9l1.4 1.9l1.4 1l1.4-0.9l1.3 3l1.4 4.3l1.4 0.7l1.4 1.4l1.4 7.4l1.4-1.9l1.4 4.4l1.4-1.8l1.4 0.3l1.4 2l1.4 3.2l1.4 0.6l1.4-0.7l1.4 0.8l1.4 2.6l1.4-1.3l1.4 0.4l1.4-2l1.4 1.7l1.4 2.7l1.4 2.9l1.4-3.8l1.4 3.3l1.4 2.3l1.4 1.5l1.4-2.7l1.4 0.6l1.4 2.6l1.4-1.3l1.4 1.1l1.4 0.8l1.4 0.3l1.4-1.1l1.4 0.7l1.4-1.3l1.4 0.3l1.4-1.7l1.4-2l1.4 1l1.4-0.7l1.4-0.6l1.4 1.7l1.4-2.1l1.4-1.1l1.4-1.1l1.4-2.4l1.4 1.8l1.4 1.1l1.4 1.2l1.4-0.7l1.4-2l1.4 1.8l1.4-0.7l1.4-0.1l1.4 2.3l1.4-0.5l1.4-0.6l1.4-2l1.4-1.6l1.4 1.5l1.4 0.5l1.4 0.6l1.4 1.1l1.4 0l1.4-1.2l1.4 0l1.4-2.5l1.4 2.5l1.4-1.2l1.4-0.4l1.4 0.5l1.4-2l1.4-3.7l1.4-0.2l1.4 1.2l1.4-2.3l1.4-2.7l1.4 0.5l1.4-2.3l1.4 1.4l1.4-0.6l1.4 1.2l1.4-3l1.4-1.3l1.4 2.7l1.4-2.9l1.4 2.4l1.4 0.3l1.4 2.8l1.4-6.6l1.4 0.1l1.4-3.5l1.4 0.5l1.4-3.7l1.4-0.3l1.4 0.3l1.4 0.6l1.4-1.6l1.4 0.1l1.4-0.9l1.4-1.8l1.4-2.7l1.4 0.7l1.4-0.1l1.4 1.8l1.4-0.6l1.4 1.5l1.4 2.5l1.4 0.3l1.4 0.2l1.4-0.7l1.4 0.7l1.4-0.3l1.4-0.3l1.4-0.2l1.4 3.7l1.4 1.9l1.4 1l1.4-0.4l1.4-1l1.4-0.3l1.4-0.3l1.4-1.3l1.4 3.2l1.4 2.6l1.4-1.2l1.4-0.8l1.4 1.6l1.4 4.3l1.4 0.8l1.4 1l1.4-0.3l1.4 2.4l1.4 0.3l1.4-1.6l1.4 1.1l1.4 1.2l1.4 1.1l1.4 3.1l1.4-0.1l1.4 1.9l1.4 0.7l1.4 0.5l1.4 2.6l1.4 3.3l1.4 0.7l1.4 2.2l1.4 1.8l1.4 0.8l1.4-1.7l1.4 1.6l1.4 1l1.4 1.3l1.4-0.2l1.4 3.4l1.4 4l1.4 0.2l1.4 1.4l1.4-0.9l1.4 1.8l1.4 1.2l1.4-1.7l1.4 1.1l1.4-1.5l1.3-0.3l1.4-1.7l1.4 1.9l1.4 4.7l1.4-2.3l1.4 1.3l1.4-1.5l1.4 1.2l1.4-5.2l1.4-3.7l1.4 0.5l1.4 1l1.4 0.7l1.4-3l1.4 1l1.4-3.4l1.4 3.7l1.4-1l1.4-5.3l1.4 1.9l1.4-0.9l1.4-0.4l1.4 2.8l1.4-2.9l1.4-2.1l1.4-2.4l1.4-5.9l1.4-6.2l1.4-5.7l1.4-5l1.4-8l1.4-9.7l1.4-6.8l1.4-5.7l1.4-2.3l1.4-0.7l1.4 0.4l1.4 1.2l1.4 4.3l1.4 7.7l1.4 7.7l1.4 7.3l1.4 6.8l1.4 7.5l1.4 6.7l1.4 2.3l1.4 1.8l1.4 0.1l1.4 3.9l1.4 2.4l1.4-4.3l1.4-0.1l1.4 0l1.4 2.2l1.4 1l1.4 1.7l1.4 2.2l1.4-1.3l1.4 0l1.4 0.7l1.4 1.1l1.4 1.5l1.4-0.4" stroke="#509551"/>
<path d="M45.5 1149.2l1.4 11.5l1.4 11.3l1.4 9.4l1.4 10.1l1.4 9.9l1.4 14.4l1.4 15.7l1.4 11l1.4 10.5l1.4 9.9l1.4 8.6l1.4 4.5l1.4 7l1.4 8.9l1.4 6.9l1.4 6.4l1.4 4.8l1.4 3.7l1.4 0.9l1.4 6.3l1.4 4.5l1.4 3l1.4 3.3l1.4 1.3l1.4 5l1.4 2l1.4-1.1l1.4 4.1l1.4 0.4l1.4 1l1.4 4.5l1.4 3.2l1.4 4.6l1.4 1.5l1.4 3.4l1.4 0.7l1.4 2.1l1.4-0.1l1.4 1.1l1.4-3.4l1.4-0.4l1.4-2l1.4-0.5l1.4 6.4l1.4 7.3l1.4 7.5l1.4 5.4l1.4 5.7l1.4 5.5l1.4 1.4l1.4 2.9l1.3 4.9l1.4 3.6l1.4 2.4l1.4 2l1.4 6.1l1.4 2.2l1.4 1.5l1.4 3.8l1.4 5.6l1.4 1.5l1.4 0.8l1.4 4l1.4 4.1l1.4 0.1l1.4 8l1.4 2.1l1.4 2.2l1.4 3.4l1.4 4.4l1.4 1l1.4 3.9l1.4 3.4l1.4 2.9l1.4 3.1l1.4 2.2l1.4 5.5l1.4 4.2l1.4 4.1l1.4 6.2l1.4 0.9l1.4 5.2l1.4 1.7l1.4 1.5l1.4 3.8l1.4 4.5l1.4 1.2l1.4 3l1.4 1.3l1.4 1.1l1.4 4l1.4 3.1l1.4 1.5l1.4 0.7l1.4 2.5l1.4 0l1.4 0.2l1.4 0.4l1.4 1l1.4 1.4l1.4-0.1l1.4-1.9l1.4 1.6l1.4-0.2l1.4-1.8l1.4 1.9l1.4-1.7l1.4-3.3l1.4-0.6l1.4 1.8l1.4-2.4l1.4 0.5l1.4-2.8l1.4-1.2l1.4-0.4l1.4-1l1.4-0.9l1.4 0.5l1.4 0.5l1.4 1.3l1.4-1.6l1.4-0.7l1.4 0.7l1.4 0.1l1.4-1.4l1.4 1.2l1.4 0l1.4-0.7l1.4 3.9l1.4 0.2l1.3 2.1l1.4 1.2l1.4-3l1.4-1.3l1.4-1.4l1.4 2.5l1.4-0.1l1.4-1.1l1.4-3.1l1.4 0.3l1.4-4l1.4 0.6l1.4-0.1l1.4-3l1.4 5l1.4-2.9l1.4-1.7l1.4-1.5l1.4-1.2l1.4-1.5l1.4 0.8l1.4 0.4l1.4 1.8l1.4 0.9l1.4-2.4l1.4 0.8l1.4 0.6l1.4-1.8l1.4-1.4l1.4 3.1l1.4-0.4l1.4 1l1.4 5l1.4 0.8l1.4 1l1.4 1.2l1.4-0.4l1.4-1.9l1.4 3.5l1.4 3.3l1.4 1.6l1.4 2l1.4 1.7l1.4 3l1.4 3.7l1.4 1.4l1.4 1.9l1.4 2.6l1.4 0.4l1.4 1.1l1.4 2.2l1.4 0.1l1.4 0.4l1.4 1.7l1.4-0.6l1.4 2.8l1.4 0.4l1.4 2.7l1.4-1.6l1.4 0.9l1.4 1.4l1.4-1.4l1.4-0.1l1.4 2.5l1.4 2.7l1.4-3.6l1.4-0.4l1.4-1.5l1.4 4.3l1.4 0.2l1.4 1l1.4-1.2l1.4 1.6l1.4 2.5l1.4-1.4l1.4 2l1.4-0.7l1.4 0.6l1.4 2.2l1.4-0.5l1.3-0.9l1.4-3.5l1.4 1l1.4-1.6l1.4 0.5l1.4 0.8l1.4-0.8l1.4-1.6l1.4 0.2l1.4 1.2l1.4-1.1l1.4-1l1.4 0.9l1.4 0.6l1.4 0.6l1.4 1.8l1.4-0.5l1.4-0.5l1.4-0.5l1.4-0.8l1.4-2.1l1.4-1.1l1.4 3l1.4 1.4l1.4 2.6l1.4-0.5l1.4-1.5l1.4-3.4l1.4 1.9l1.4-1.4l1.4-3l1.4 3.2l1.4-3.1l1.4-1.4l1.4 1.3l1.4 0.6l1.4 2.3l1.4-3.6l1.4 1.5l1.4 1.4l1.4 0.5l1.4-1.8l1.4 0.3l1.4-2.5l1.4-2l1.4 1.2l1.4-0.5l1.4 1.1l1.4 0.1l1.4 0.8l1.4-2.6l1.4-0.8l1.4-1.2l1.4 2.2l1.4-0.3l1.4-1.9l1.4 2.3l1.4-1.6l1.4 0.1l1.4 2.2l1.4-1.8l1.4-0.3l1.4 2.4l1.4-1.5l1.4-1.6l1.4 2l1.4-0.6l1.4-2.9l1.4 0.4l1.4 3.4l1.4-0.2l1.4-0.6l1.4-1.8l1.4 0.2l1.4 1.9l1.4 0l1.4-2.9l1.4 1.9l1.4-1.7l1.3 2.1l1.4-0.4l1.4 0.9l1.4 0.6l1.4 4.5l1.4-3.4l1.4-2.3l1.4-0.4l1.4-0.1l1.4-0.6l1.4-1.4l1.4 1.2l1.4 1.2l1.4 0.4l1.4 1.6l1.4 1.7l1.4-1.2l1.4-0.9l1.4 0.2l1.4 1.5l1.4 4.6l1.4-2.6l1.4-0.7l1.4 3.1l1.4 0.7l1.4 0.9l1.4 3.4l1.4 2.5l1.4 1.1l1.4-0.8l1.4 1.2l1.4-0.3l1.4 0.3l1.4 3l1.4 1.5l1.4-1.9l1.4 0.5l1.4-0.8l1.4 2l1.4 0.7l1.4-0.4l1.4 2.5l1.4 4.4l1.4 1.7l1.4-1l1.4 0.5l1.4-0.6l1.4 1l1.4-1.8l1.4-1.7l1.4-0.1l1.4-1.9l1.4-0.6l1.4 1.6l1.4-1.2l1.4-0.4l1.4-0.9l1.4-0.8l1.4 0.9l1.4-0.7l1.4 1l1.4 0.9l1.4-0.9l1.4-1l1.4 1.5l1.4-2.6l1.4 0.1l1.4 0l1.4-0.4l1.4-1.6l1.4-1l1.4-0.7l1.4-2.6l1.4-0.9l1.4-2.6l1.4-0.2l1.4-5.7l1.4-4l1.4-6.9l1.3-4.5l1.4-6.9l1.4-0.3l1.4 0.2l1.4-0.6l1.4 5.6l1.4 2.9l1.4 2.1l1.4 2.8l1.4 3.6l1.4 2.1l1.4 3.4l1.4 1.7l1.4 6.2l1.4 2.3l1.4 1l1.4 0.7l1.4 1.9l1.4 1.2l1.4-1.9l1.4 0.3l1.4-1.1l1.4-1.1l1.4 3.3l1.4-1.9l1.4 3.4l1.4-0.7l1.4-0.8l1.4 2.7l1.4-1.2l1.4 0.6" stroke="#737373"/>
<path d="M45.5 1159.6l1.4 6.8l1.4 7.2l1.4 10.7l1.4 13.1l1.4 12.6l1.4 8.2l1.4 13.2l1.4 12.3l1.4 8l1.4 10.7l1.4 9.3l1.4 12.3l1.4 16.5l1.4 7.3l1.4 6.3l1.4 6.9l1.4 6.7l1.4 7.2l1.4 8.8l1.4 9.2l1.4 2.8l1.4 3.9l1.4 2.4l1.4 2.2l1.4 3.1l1.4 1.9l1.4 3.2l1.4 1.7l1.4 1.3l1.4 1.8l1.4 4.9l1.4 3.9l1.4 2.6l1.4 2.1l1.4 2.8l1.4 1.4l1.4-0.2l1.4 0.4l1.4-1.8l1.4-2.4l1.4-0.7l1.4 4.2l1.4 5.7l1.4 7.9l1.4 5.9l1.4 7.8l1.4 5.4l1.4 6.8l1.4 4.2l1.4 6.4l1.4 1.6l1.3 2.2l1.4 5.2l1.4 4.2l1.4 3.1l1.4 2.7l1.4 3.3l1.4 3.9l1.4 6.7l1.4 2.8l1.4 3.2l1.4 5.8l1.4 5.4l1.4 2.3l1.4 5.5l1.4 3.2l1.4 2.5l1.4 3.3l1.4 4.6l1.4 3.9l1.4 2.9l1.4 3l1.4 5l1.4 2.8l1.4 2.9l1.4 6.9l1.4 3.3l1.4 4.2l1.4 5.4l1.4 5.5l1.4 2.9l1.4 4l1.4 5.1l1.4 5.4l1.4 5.2l1.4 1.2l1.4 3.5l1.4 3.2l1.4 4l1.4 4l1.4-0.4l1.4 1.2l1.4-0.9l1.4 1.3l1.4 3.4l1.4 1.1l1.4 0.1l1.4 0l1.4 3l1.4-0.2l1.4-2.2l1.4-1.1l1.4 0.8l1.4-1.3l1.4-0.5l1.4 1.1l1.4-3l1.4-2.4l1.4-1.8l1.4 0.1l1.4 3.3l1.4-3.4l1.4-0.2l1.4-1.6l1.4 1.6l1.4-0.8l1.4-2.7l1.4-1.2l1.4-1.5l1.4-0.4l1.4 2.7l1.4 2.2l1.4-1.3l1.4 1.1l1.4 0.1l1.4-3l1.4 1.7l1.4 2l1.4-1.3l1.4-0.6l1.3 2.7l1.4-2.8l1.4 0.4l1.4-1.2l1.4 1l1.4-2.1l1.4 0.5l1.4-3.6l1.4 0.8l1.4-3.3l1.4-1.9l1.4-1.1l1.4-0.6l1.4 0.4l1.4-0.7l1.4-3.2l1.4-1.4l1.4-0.5l1.4-1.3l1.4-1.6l1.4-0.6l1.4-1l1.4-1.7l1.4-2l1.4-2.3l1.4-1.9l1.4 4.2l1.4-4.1l1.4 1.9l1.4 1l1.4-0.9l1.4 2.2l1.4 0.5l1.4 2l1.4 0.2l1.4 1.2l1.4 2.8l1.4 1.1l1.4 0.5l1.4 3l1.4 6.5l1.4 4l1.4 4.2l1.4 3.2l1.4 1.2l1.4 3l1.4 2.9l1.4-0.3l1.4 5.5l1.4 0.8l1.4-0.3l1.4 3.6l1.4 2l1.4 2.3l1.4-0.7l1.4 0.7l1.4 0l1.4-0.1l1.4 4.3l1.4-0.7l1.4 0.1l1.4-0.8l1.4 3l1.4-1.1l1.4 0.7l1.4-0.7l1.4-0.3l1.4 5.4l1.4-1.6l1.4 1.4l1.4-0.2l1.4 1.6l1.4-1.6l1.4-0.9l1.4 1l1.4-1.3l1.4 0.4l1.4 1.6l1.4-1.9l1.4 2.6l1.3 1.6l1.4-3.1l1.4-2.6l1.4 1.1l1.4-0.3l1.4 1.1l1.4-3.2l1.4-2.3l1.4 1.3l1.4 0.5l1.4 2.3l1.4-0.8l1.4-1.3l1.4 0.7l1.4 4.2l1.4-2.3l1.4 0.4l1.4 0.2l1.4-3.7l1.4 0.4l1.4-0.8l1.4-0.4l1.4 0.3l1.4 3l1.4 0.9l1.4 2.3l1.4 1.1l1.4-1.7l1.4 2.4l1.4-2.5l1.4-1.4l1.4 2.5l1.4 1.7l1.4 1.2l1.4-3.6l1.4-1.4l1.4-6l1.4 1.3l1.4-0.4l1.4-0.8l1.4-2.4l1.4 1.2l1.4-4.4l1.4 4.1l1.4-1.1l1.4-2.5l1.4 0.3l1.4-3l1.4 0l1.4-0.3l1.4 1.5l1.4 3.1l1.4-2.1l1.4-1.9l1.4 2.4l1.4-2.1l1.4 0.4l1.4-2.1l1.4 0.6l1.4-0.9l1.4-0.3l1.4 1.8l1.4-2.2l1.4 1.9l1.4-1.5l1.4 0l1.4 0.6l1.4-0.8l1.4-1.1l1.4 1.4l1.4-0.8l1.4-1.6l1.4 0.1l1.4-1l1.4 1.1l1.4 3.2l1.4-1.8l1.4-3.8l1.4 0.2l1.3-1.5l1.4 3.3l1.4-1.2l1.4 1.6l1.4 0.3l1.4-1.3l1.4-2.5l1.4 0.3l1.4 0.8l1.4-2.7l1.4 0.6l1.4 0.8l1.4 1.4l1.4-0.7l1.4-0.2l1.4 1l1.4 2.1l1.4 0.1l1.4-0.8l1.4 2.2l1.4 0l1.4-0.3l1.4 0.2l1.4-0.4l1.4-1.2l1.4-0.5l1.4 1.9l1.4-0.4l1.4 4.1l1.4-3l1.4 0.3l1.4 2.3l1.4-1.8l1.4-0.5l1.4-0.6l1.4-1.5l1.4 0.4l1.4 0.6l1.4 0l1.4-0.2l1.4 2.5l1.4 1.8l1.4 0l1.4 2.6l1.4 0.2l1.4 3.5l1.4-2.5l1.4 3.4l1.4-6l1.4 0.1l1.4 1.8l1.4-1l1.4 3.6l1.4-0.8l1.4-0.4l1.4-4l1.4-0.4l1.4-0.9l1.4 0.8l1.4-1.2l1.4 4.3l1.4-1.2l1.4-0.1l1.4 0.2l1.4 1.2l1.4-2.8l1.4-4.4l1.4-2.8l1.4-2.7l1.4 2.5l1.4 0.2l1.4-0.4l1.4-3.7l1.4-0.4l1.4-4.3l1.4-3.1l1.4-1.5l1.4-4.1l1.4-3.2l1.3-1.7l1.4-4.3l1.4-2.7l1.4 1.9l1.4-0.6l1.4 2l1.4 0.1l1.4 1.2l1.4 4.6l1.4 6.6l1.4 1.3l1.4 4.5l1.4 1.1l1.4 0.6l1.4 3.2l1.4 1.3l1.4-3.2l1.4 1.4l1.4-1.1l1.4 4.1l1.4-2.2l1.4 1.8l1.4-2l1.4-3.2l1.4-2.1l1.4 1.1l1.4 0.4l1.4-3l1.4-2.2l1.4 1.9l1.4-0.8" stroke="#509551"/>
<path d="M45.5 1314.6l1.4 8.6l1.4 7.7l1.4 9.1l1.4 9.5l1.4 11.9l1.4 10l1.4 9.8l1.4 10.4l1.4 11.4l1.4 9l1.4 6.9l1.4 7.7l1.4 8.7l1.4 4.8l1.4 7.1l1.4 4.8l1.4 4.6l1.4 7.2l1.4 6l1.4 2.7l1.4 4.9l1.4 2.9l1.4 5.4l1.4 1.9l1.4 5.3l1.4 2.8l1.4 2.3l1.4 6.9l1.4 3.6l1.4 2.7l1.4 2.2l1.4 2.1l1.4 2.8l1.4 2.1l1.4 4.8l1.4 1.7l1.4 3.3l1.4 1.3l1.4 0.8l1.4 1.3l1.4 2.4l1.4 3.3l1.4 4.2l1.4 3.2l1.4 4.8l1.4 5.2l1.4 4.4l1.4 5.8l1.4 4.7l1.4 1.1l1.4 2.5l1.3 1.8l1.4 3.1l1.4 0.2l1.4 4.8l1.4 0.9l1.4 2.1l1.4 4.6l1.4 1.8l1.4 1.9l1.4 3.3l1.4 1.8l1.4 2.6l1.4 2.4l1.4 3.4l1.4 2l1.4 3.7l1.4-0.5l1.4 3.9l1.4 3.5l1.4-0.7l1.4 2.6l1.4 1.8l1.4 2.3l1.4 3.2l1.4 1.8l1.4 2.1l1.4 1.5l1.4 2.1l1.4 1.7l1.4 3.9l1.4 2l1.4 1.3l1.4 2l1.4 2.6l1.4 3.8l1.4 2.3l1.4 2.3l1.4 1.4l1.4 4.9l1.4 0l1.4 0l1.4 1.5l1.4 0.8l1.4 0.7l1.4 0l1.4 1.6l1.4 0.3l1.4 1l1.4-0.3l1.4-1.3l1.4-2.1l1.4 2l1.4-0.7l1.4-1.6l1.4-0.5l1.4 1.5l1.4-1.6l1.4 0.3l1.4-1.3l1.4-1l1.4-0.3l1.4-0.1l1.4-0.5l1.4-2.8l1.4 2l1.4 0.6l1.4-0.7l1.4 0.4l1.4-1.4l1.4 1.5l1.4 0.7l1.4-1.1l1.4 0.6l1.4 0.6l1.4 0.9l1.4 0.4l1.4-0.8l1.4 2.6l1.4 1.1l1.3-0.2l1.4 2.9l1.4-0.7l1.4-0.3l1.4-0.7l1.4-0.7l1.4 2l1.4-2.4l1.4 1.5l1.4-1.7l1.4-0.3l1.4 1.7l1.4-0.1l1.4 0l1.4-3.8l1.4-0.5l1.4 0.7l1.4 0.8l1.4-0.9l1.4 1.7l1.4-1l1.4-0.3l1.4 1.6l1.4 0.7l1.4-1.2l1.4 0.8l1.4-0.5l1.4 3.4l1.4 1.9l1.4 1.7l1.4 0l1.4-0.2l1.4-0.6l1.4 2.2l1.4 1.4l1.4 2.6l1.4 0.4l1.4-2.2l1.4 1l1.4 2.9l1.4 0.8l1.4-1.1l1.4 3l1.4 1.3l1.4-2.2l1.4 2.9l1.4 0.3l1.4-0.7l1.4 2.5l1.4-3l1.4-0.2l1.4-0.2l1.4-0.5l1.4 0.6l1.4 3.2l1.4-1.5l1.4 1.3l1.4-0.8l1.4 1l1.4 0.4l1.4-1.1l1.4 1.9l1.4 1.2l1.4-0.2l1.4 0.7l1.4-0.6l1.4 1.2l1.4-2.6l1.4 1.6l1.4-0.3l1.4-1.2l1.4 0.8l1.4 0.5l1.4-0.3l1.4 0.4l1.4 2.2l1.4-1.4l1.4-1.7l1.4-0.5l1.4-0.7l1.3-0.4l1.4 1.3l1.4-1.4l1.4 1.4l1.4-0.9l1.4-1.9l1.4 0.9l1.4-1.2l1.4-1.8l1.4 0.4l1.4 0.7l1.4-0.5l1.4 0l1.4-2.2l1.4-2.8l1.4 4.6l1.4-1.2l1.4-1.6l1.4 0.5l1.4 0.2l1.4-1.6l1.4-0.1l1.4 0l1.4 0.3l1.4 0.9l1.4-1.5l1.4 0.7l1.4-4.3l1.4 0.7l1.4 2.8l1.4-0.5l1.4-2.6l1.4 0.6l1.4-2l1.4 0l1.4-2.7l1.4-2.2l1.4-0.1l1.4-0.4l1.4-1.7l1.4-0.1l1.4-0.9l1.4-2.2l1.4-1.8l1.4 1.6l1.4-2.4l1.4 0.4l1.4-1.6l1.4 0.1l1.4 0.7l1.4-2.8l1.4-1.5l1.4-3.9l1.4-1.8l1.4-2.6l1.4-0.7l1.4-1.9l1.4-1.1l1.4-1.3l1.4 0.8l1.4-3.3l1.4-3.6l1.4-0.1l1.4-1.6l1.4-2.3l1.4-0.7l1.4-0.4l1.4 1l1.4-3.6l1.4 0.6l1.4-0.4l1.4-1.7l1.4-0.5l1.4-0.9l1.4-1.8l1.4 2.1l1.4-1.9l1.4 0.3l1.4 0.8l1.3-1l1.4-1.4l1.4 2l1.4 0.2l1.4-2.8l1.4-0.3l1.4 0.1l1.4 0.2l1.4 0.8l1.4 1.7l1.4-0.3l1.4 1.3l1.4 0.6l1.4-0.9l1.4-2.7l1.4 1.5l1.4-0.2l1.4 1.4l1.4 2.3l1.4 0l1.4 2.5l1.4-1.7l1.4 2.4l1.4 0.4l1.4 3.2l1.4 3.2l1.4 3.4l1.4-0.5l1.4 1.9l1.4 0.8l1.4 0.2l1.4 2.6l1.4 2.1l1.4 0.5l1.4 3.1l1.4 2l1.4 2.2l1.4 3.8l1.4 2.7l1.4 0.9l1.4 2.1l1.4 1.2l1.4-0.6l1.4 0.7l1.4 1.8l1.4 1.5l1.4-1.8l1.4 2.4l1.4 2.6l1.4 0.5l1.4 1.8l1.4-1.1l1.4 3.5l1.4-0.5l1.4-1.1l1.4 0.1l1.4 1.2l1.4 1.9l1.4-0.7l1.4 2.2l1.4-1.3l1.4-0.6l1.4 2.5l1.4 1.8l1.4-0.7l1.4-1.7l1.4 1.1l1.4-2.3l1.4-0.9l1.4-0.5l1.4-0.7l1.4-0.4l1.4-3l1.4-1.6l1.4-0.9l1.4-5.3l1.4-4.7l1.4-3.4l1.4-7.4l1.3-8l1.4-6l1.4-3.5l1.4-2.2l1.4-2.7l1.4 0.1l1.4 1.1l1.4 4.2l1.4 3.5l1.4 1.6l1.4 4.7l1.4 5.9l1.4 5.2l1.4 2.8l1.4 3.2l1.4 1.7l1.4 1.7l1.4-0.3l1.4 4.3l1.4-3.2l1.4-1.9l1.4 1.7l1.4 0.5l1.4-1.6l1.4-1.9l1.4 1.2l1.4 0.5l1.4-0.1l1.4-0.2l1.4 0.5l1.4 1.4" stroke="#737373"/>
<path d="M45.5 1393.4l1.4 24.7l1.4 22.6l1.4 19.9l1.4 21.8l1.4 19l1.4 15.7l1.4 14.4l1.4 8.5l1.4 6.8l1.4 6.8l1.4 4.4l1.4 3.2l1.4 1.6l1.4 3.1l1.4 3.1l1.4 4.9l1.4 7.8l1.4 4.4l1.4 0.3l1.4-1.6l1.4 0.4l1.4-3.9l1.4-0.8l1.4 2.8l1.4-1.1l1.4 3.8l1.4 7.9l1.4 9.3l1.4 0.3l1.4 3.1l1.4 3.8l1.4 2.8l1.4 10l1.4 4.6l1.4 3.4l1.4 0.6l1.4 4.3l1.4 7l1.4 3.6l1.4 1.7l1.4 5.4l1.4 2l1.4 3.2l1.4 5.6l1.4 1.2l1.4 2.9l1.4 4.2l1.4 3l1.4 2.9l1.4-0.3l1.4-0.5l1.3 3.8l1.4 3.3l1.4 0.5l1.4 3.2l1.4 2l1.4 0.9l1.4 0.9l1.4-0.4l1.4 1.6l1.4-1.2l1.4 4.3l1.4-0.4l1.4 0.4l1.4-2.7l1.4-1.2l1.4 1.2l1.4 3.5l1.4-2.2l1.4 1.4l1.4-1l1.4 0.2l1.4 4.5l1.4 1.7l1.4-0.1l1.4 5.2l1.4 3.2l1.4 0.9l1.4 0.6l1.4 3.8l1.4 1.2l1.4 1.3l1.4 0.1l1.4 3.2l1.4-2.1l1.4 4l1.4-0.8l1.4-0.1l1.4 0.1l1.4-0.5l1.4 2.7l1.4-1.7l1.4 2l1.4 2.4l1.4 0.1l1.4 2l1.4-1.5l1.4 0.5l1.4-0.4l1.4-1.3l1.4 1.9l1.4 1l1.4 1.4l1.4-1l1.4 0.7l1.4-1.3l1.4 0.5l1.4-1.8l1.4-1.5l1.4 1.1l1.4 2.7l1.4 2.9l1.4-1.8l1.4-2.3l1.4 2.8l1.4 3.3l1.4-1.8l1.4-0.4l1.4-3.8l1.4 1.6l1.4 1.2l1.4 1.6l1.4 1.3l1.4-1l1.4 2.1l1.4-1.7l1.4-2.9l1.4 2.1l1.4-2l1.4 0.5l1.3 1.7l1.4-2.1l1.4 0.2l1.4 1l1.4 1.1l1.4 1.3l1.4-0.2l1.4 2.2l1.4 0.2l1.4-2.9l1.4-0.4l1.4 0.8l1.4-2.6l1.4 3.4l1.4-1l1.4-0.6l1.4 1.5l1.4-2.3l1.4 1.5l1.4-0.1l1.4-0.8l1.4-1.4l1.4-1.3l1.4 1.5l1.4 0.6l1.4 2.6l1.4-0.9l1.4-1.6l1.4 1l1.4-0.5l1.4-2.9l1.4 3.8l1.4-2.9l1.4 2.8l1.4-2.7l1.4 1.6l1.4-2.2l1.4 2.2l1.4-2l1.4-1l1.4-1l1.4 2.4l1.4 1.1l1.4-2.8l1.4-0.9l1.4-1.9l1.4 1.1l1.4-3l1.4 1.1l1.4 1.7l1.4-1.8l1.4-1.8l1.4 0.3l1.4 0.8l1.4 0.2l1.4 0.5l1.4 0.7l1.4-0.7l1.4-0.9l1.4 2.5l1.4 1.5l1.4-1.2l1.4-2.2l1.4-0.5l1.4 0.8l1.4 0.8l1.4-0.6l1.4-1.4l1.4-1.6l1.4 1.8l1.4-1.8l1.4 2.9l1.4-2.8l1.4 0.9l1.4 0.7l1.4-3l1.4-0.6l1.4 1.1l1.4 3l1.4 1.1l1.3-0.5l1.4 0.6l1.4-1.6l1.4-1.8l1.4-1.4l1.4 2.1l1.4-1.9l1.4-0.9l1.4-5l1.4 3.7l1.4-0.8l1.4-1.9l1.4-0.3l1.4-0.1l1.4-0.3l1.4-1.2l1.4 0.1l1.4-1.5l1.4-3.5l1.4-2.4l1.4 1.2l1.4-0.7l1.4 1.2l1.4-3.7l1.4 2.7l1.4 1.4l1.4-0.2l1.4-1.9l1.4 1.2l1.4-2.4l1.4 0.3l1.4 1.3l1.4-2.4l1.4 0l1.4-2.5l1.4-2.4l1.4-0.4l1.4-2.1l1.4 0.8l1.4-0.1l1.4-1.6l1.4 0.7l1.4-2.8l1.4 0l1.4 0.3l1.4 2.2l1.4-0.6l1.4 0.8l1.4 3.1l1.4 0.5l1.4-1.4l1.4-2.2l1.4 0l1.4-0.5l1.4 1.2l1.4 0.9l1.4 0.7l1.4 4.1l1.4-4.8l1.4 2.5l1.4-0.1l1.4 2.1l1.4 1.3l1.4-1.5l1.4 2.2l1.4 2.1l1.4 0.6l1.4 1.7l1.4 2.9l1.4 0.9l1.4-2.5l1.4-1.3l1.4 3.1l1.4-2.5l1.4 1.4l1.4-1.9l1.4-0.4l1.4-1.4l1.4 0.9l1.3-0.1l1.4 0.4l1.4-0.8l1.4 2.6l1.4-0.4l1.4 0l1.4-0.1l1.4-1.1l1.4-3.4l1.4-3.6l1.4-0.2l1.4 1l1.4 1.7l1.4 0.4l1.4-0.7l1.4-2.2l1.4 0l1.4-0.3l1.4 0.3l1.4 1.1l1.4 2.1l1.4 1.7l1.4 3.5l1.4-2.9l1.4 0.8l1.4-2.5l1.4-2.1l1.4-0.2l1.4 2.4l1.4-1l1.4 0.3l1.4 0.8l1.4-0.7l1.4 2.2l1.4-3.1l1.4 2.2l1.4 1.8l1.4 1l1.4 5.4l1.4 1.4l1.4-0.9l1.4 1.4l1.4 3.5l1.4 1.7l1.4 1l1.4 1.8l1.4 3.3l1.4 1.3l1.4 2l1.4 1.2l1.4-3.5l1.4 1.8l1.4 3.2l1.4 0.2l1.4 1.4l1.4 2.8l1.4 3.8l1.4-0.9l1.4-1.4l1.4-0.2l1.4 2.5l1.4 1.2l1.4-5.2l1.4 0.7l1.4-0.8l1.4 2.9l1.4-0.9l1.4-0.4l1.4-0.5l1.4-1.5l1.4-2.2l1.4 1.8l1.4 0.2l1.4 1l1.4-1.9l1.4 0.3l1.4 2l1.4-0.6l1.4 3.9l1.3 0.7l1.4-2.5l1.4 3.8l1.4-1.4l1.4 1.2l1.4 3.9l1.4-1.8l1.4-1.6l1.4 3.7l1.4 0.8l1.4-0.8l1.4-1.9l1.4-1.3l1.4-2.3l1.4 1.4l1.4 1.9l1.4 0.6l1.4-2l1.4-0.5l1.4-1.4l1.4 2.5l1.4-1l1.4 0.9l1.4 0.8l1.4 4.3l1.4-1.4l1.4-1l1.4-0.6l1.4 0.2l1.4 1.7l1.4-0.1" stroke="#737373"/>
<path d="M45.5 1417.5l1.4 24.5l1.4 23.3l1.4 18.6l1.4 17.7l1.4 19l1.4 14l1.4 9.4l1.4 7l1.4 6l1.4 6.4l1.4 7.2l1.4 10.2l1.4 5.4l1.4 6.1l1.4 7.4l1.4 7.2l1.4 5.9l1.4 3.8l1.4-0.7l1.4-4.1l1.4-7.9l1.4-0.3l1.4-1.4l1.4 2.4l1.4 3.5l1.4 4.1l1.4 5.1l1.4 8.3l1.4 7.7l1.4 6.4l1.4 3.5l1.4 8.3l1.4 8.4l1.4 4.3l1.4 2l1.4 5.6l1.4 3.7l1.4 2.8l1.4 4.5l1.4 5.7l1.4 0.6l1.4 4.7l1.4 3.9l1.4 3.1l1.4 2.3l1.4 1l1.4 0.5l1.4 1.6l1.4 3.6l1.4 3.5l1.4 2.8l1.3 2.1l1.4 1.3l1.4-1.8l1.4 2.5l1.4 3.4l1.4 0.2l1.4-0.2l1.4 2.7l1.4 5.3l1.4 2.3l1.4 1.8l1.4-2.3l1.4-2l1.4 3.9l1.4-0.7l1.4-3.6l1.4 1.1l1.4 1.5l1.4 5.4l1.4 0.4l1.4 3.4l1.4 1.2l1.4 3.9l1.4 1.5l1.4 1.1l1.4 3.3l1.4-0.9l1.4 0.9l1.4 2.4l1.4-0.6l1.4 3.9l1.4 0.8l1.4 1.3l1.4 0.9l1.4 3l1.4 1.2l1.4-0.2l1.4-0.9l1.4 1.4l1.4 3.2l1.4 1l1.4 1.1l1.4-1.3l1.4-0.1l1.4 1.7l1.4 3l1.4-0.1l1.4-2.3l1.4-1.5l1.4 5.5l1.4-0.3l1.4 0.9l1.4-2.8l1.4 1.7l1.4 3.1l1.4-1.1l1.4 0l1.4-1.7l1.4 0l1.4 1.1l1.4-2l1.4 1.4l1.4-2.6l1.4 0.1l1.4 0.5l1.4-1.5l1.4 1.9l1.4-2l1.4-1.1l1.4 2.2l1.4 0.7l1.4 1.7l1.4-3.5l1.4-0.1l1.4 5.3l1.4-3.9l1.4 2.7l1.4-0.8l1.4-0.2l1.3 2.6l1.4 1.6l1.4-1.3l1.4 0.2l1.4 0l1.4 2.9l1.4-3.5l1.4 1l1.4 1.4l1.4-2.8l1.4 1.8l1.4-2.7l1.4-0.7l1.4-0.1l1.4 0.6l1.4-0.6l1.4 1.9l1.4-1.2l1.4 2.3l1.4 1l1.4-0.5l1.4-0.8l1.4-0.7l1.4-0.3l1.4 0.6l1.4-1.6l1.4 0.7l1.4-0.2l1.4 0.8l1.4 1.7l1.4-1.3l1.4-5.8l1.4 3.9l1.4-1.6l1.4-3l1.4 0.4l1.4-0.7l1.4-1l1.4 1.2l1.4 2l1.4-2.2l1.4-0.3l1.4-0.6l1.4 0.8l1.4-1.5l1.4-1.8l1.4 1.6l1.4 0l1.4-1.2l1.4-0.5l1.4 0.8l1.4 2.5l1.4-1.2l1.4-0.9l1.4 0l1.4 3l1.4-3.4l1.4-0.9l1.4 2.9l1.4-1.8l1.4-0.8l1.4-1.6l1.4 0.4l1.4 2.3l1.4-0.7l1.4-0.9l1.4 1.4l1.4-1.8l1.4 0.8l1.4 1.2l1.4-1.9l1.4 1.2l1.4 1.5l1.4-3.6l1.4 0.1l1.4 3.3l1.4 0.8l1.4-1.6l1.4-1.3l1.4-0.6l1.3 1.5l1.4-1l1.4 0.3l1.4 0.1l1.4-1.7l1.4-1.7l1.4-1.1l1.4 0l1.4-1.6l1.4-1.5l1.4 1.8l1.4 1.9l1.4-2.7l1.4 0.4l1.4-3.1l1.4-0.9l1.4 3l1.4 0.2l1.4-2.8l1.4 0.6l1.4 0.3l1.4-0.6l1.4-0.1l1.4-2.2l1.4 1.8l1.4-0.2l1.4-1.7l1.4-1.4l1.4-1.3l1.4-1.1l1.4 1.5l1.4 0.4l1.4-3.4l1.4-0.2l1.4-0.3l1.4 0.3l1.4-1l1.4 3l1.4-4.1l1.4-0.9l1.4-0.5l1.4-1.5l1.4 3.4l1.4-1.2l1.4 2.7l1.4-2.1l1.4-0.4l1.4 1.9l1.4-0.1l1.4 1.7l1.4-1.1l1.4-1.8l1.4-1.8l1.4 1.6l1.4-0.9l1.4-3l1.4 4.4l1.4 2l1.4 5l1.4-0.1l1.4 0.1l1.4 0.3l1.4 3.3l1.4 1.2l1.4-3l1.4-0.5l1.4 1.6l1.4 5.1l1.4 1.4l1.4-3.8l1.4 1.7l1.4 0.3l1.4-1.1l1.4-2.5l1.4 1.9l1.4-0.9l1.4-2.7l1.4-1.4l1.4 1.7l1.3-1.4l1.4 0.6l1.4-2.3l1.4-0.7l1.4-0.5l1.4-0.8l1.4-0.6l1.4 2.6l1.4-2.7l1.4 0.8l1.4-2.4l1.4 0.5l1.4 1.9l1.4-0.2l1.4-1.9l1.4 0.4l1.4-1l1.4-1.9l1.4-0.6l1.4 2.7l1.4 1.5l1.4 2.8l1.4-1.9l1.4 3.3l1.4 0.2l1.4 0.2l1.4-2.4l1.4-1.7l1.4 2.3l1.4 0.4l1.4 2.3l1.4-0.4l1.4-0.7l1.4 4.1l1.4-0.4l1.4 3.4l1.4 3.2l1.4-3.2l1.4-0.4l1.4 0.9l1.4 3.2l1.4 1l1.4 3.6l1.4 3.5l1.4 1.2l1.4 1.3l1.4 3l1.4-1.7l1.4 1.5l1.4 5.3l1.4-0.1l1.4-0.2l1.4 0l1.4 2.1l1.4-3l1.4 8.3l1.4-3.6l1.4 1l1.4-1l1.4 1l1.4-0.1l1.4 0.2l1.4 1.4l1.4-0.8l1.4 3.4l1.4 2l1.4-1l1.4 0.4l1.4-2l1.4-0.8l1.4 0.2l1.4-2.8l1.4 2.7l1.4 0.9l1.4-2.7l1.4 0.8l1.4 4.2l1.4-1.7l1.4-2.1l1.3 2.2l1.4-0.7l1.4 0.4l1.4 1.7l1.4 5l1.4 0.7l1.4-2.7l1.4 1l1.4 0.9l1.4 2l1.4-5.7l1.4 4.3l1.4-3.7l1.4 4l1.4 0.2l1.4-0.2l1.4 0l1.4 1.1l1.4-1.5l1.4-1.2l1.4-0.8l1.4 1.2l1.4-1.8l1.4-2.2l1.4-0.4l1.4 2.5l1.4-1.2l1.4 2.2l1.4 1l1.4-0.5l1.4 0.6" stroke="#737373"/>
<path d="M45.5 1441.8l1.4 29.8l1.4 25.2l1.4 23.4l1.4 17.2l1.4 12.2l1.4 8.3l1.4 7.8l1.4 8.9l1.4 6.2l1.4 7.3l1.4 8l1.4 7.4l1.4 6.4l1.4 6.2l1.4 7l1.4 4.4l1.4 6.5l1.4 7.5l1.4 5.4l1.4 2.9l1.4-1.8l1.4 0.3l1.4 0.7l1.4 0.5l1.4-6.1l1.4-7.6l1.4-4.9l1.4-1.5l1.4 6.3l1.4 12.2l1.4 10.3l1.4 12.4l1.4 10.9l1.4 7.9l1.4 7.4l1.4 6.8l1.4 7.2l1.4 5l1.4 3.7l1.4 5.2l1.4 5.6l1.4 4.5l1.4 6.2l1.4 4.5l1.4 5.1l1.4 4.8l1.4 3.5l1.4 5.5l1.4 5.2l1.4 1.5l1.4 4.4l1.3 0l1.4 3l1.4 2.7l1.4 1.9l1.4 1l1.4 4.2l1.4 1.8l1.4 2.1l1.4-1.3l1.4 2.6l1.4 2.2l1.4 3.8l1.4 2.2l1.4 1.1l1.4-0.5l1.4 3.4l1.4-1.2l1.4 1.8l1.4 0.2l1.4 1.4l1.4 1.3l1.4 1.5l1.4 0.8l1.4 2.8l1.4 2.1l1.4 2.9l1.4 0.3l1.4 3.1l1.4 1.8l1.4 4.4l1.4 0.9l1.4-0.2l1.4 2.7l1.4 3.9l1.4 1.8l1.4 0.3l1.4 1.2l1.4 1.1l1.4 3.7l1.4 2.4l1.4 2.5l1.4-2.1l1.4 2.2l1.4 1.7l1.4 2.3l1.4-1.1l1.4-0.3l1.4 1l1.4 0.5l1.4 2.3l1.4-2.5l1.4-2.6l1.4 1.5l1.4 2.9l1.4 0.3l1.4-0.1l1.4 0.7l1.4 0.6l1.4-0.4l1.4 1.2l1.4-1.1l1.4 1.7l1.4-0.1l1.4-0.1l1.4 2.2l1.4-2.1l1.4 1.8l1.4 2.9l1.4-1.2l1.4 0l1.4 1.3l1.4 0.7l1.4-1.3l1.4 0.5l1.4 0.2l1.4 1.2l1.4 0.5l1.4-0.8l1.4-0.2l1.3 0.2l1.4-0.2l1.4 1l1.4-0.5l1.4 1.9l1.4-0.8l1.4-0.1l1.4 0.4l1.4-3.3l1.4 0.7l1.4-0.4l1.4-1.7l1.4-0.9l1.4 0.9l1.4-1.3l1.4-0.5l1.4-2.5l1.4-0.6l1.4 2.1l1.4-3.3l1.4-0.2l1.4 1.1l1.4-0.2l1.4-2l1.4 2l1.4 0.9l1.4 0.2l1.4-1.6l1.4-0.1l1.4-0.9l1.4 1.1l1.4-1.5l1.4-1.1l1.4-0.9l1.4 0.7l1.4 0.8l1.4-1.7l1.4 2.6l1.4-1.8l1.4-0.7l1.4-0.3l1.4-2.2l1.4 0.3l1.4-0.4l1.4-1.1l1.4-0.4l1.4-1.3l1.4-0.3l1.4 1l1.4-0.2l1.4 0.8l1.4-2.5l1.4-1.6l1.4 1.5l1.4 1l1.4-0.7l1.4 0.3l1.4 1.9l1.4-0.5l1.4-1.2l1.4 1.3l1.4 1l1.4-0.6l1.4 2.2l1.4 0.3l1.4-2.5l1.4-1.2l1.4 0.1l1.4-0.3l1.4-0.7l1.4 1.4l1.4-0.8l1.4 1.8l1.4-0.6l1.4 0.3l1.4-0.5l1.4 0.5l1.4 1.9l1.4-0.2l1.4 1.5l1.3 2.9l1.4-5l1.4-0.2l1.4-0.3l1.4-3.9l1.4-0.2l1.4-0.2l1.4 0l1.4 1l1.4-1.9l1.4-1.9l1.4-0.7l1.4-0.9l1.4 0.8l1.4 1.4l1.4-2l1.4-0.1l1.4-2.7l1.4 0.4l1.4-0.2l1.4 0l1.4-0.7l1.4-0.1l1.4-2.7l1.4 1.2l1.4 0l1.4 0.2l1.4-2.4l1.4 0.6l1.4-0.1l1.4-1.9l1.4-2l1.4-0.5l1.4-1.4l1.4 0.1l1.4-0.2l1.4-2l1.4-3l1.4 0l1.4 1.4l1.4-0.5l1.4-1.1l1.4-3.3l1.4 1.2l1.4 3.7l1.4-2.7l1.4 1.2l1.4-1.6l1.4-1.6l1.4 1l1.4 2.5l1.4-0.2l1.4-0.2l1.4-0.5l1.4 0.9l1.4 0.6l1.4 0.2l1.4 0.4l1.4-0.6l1.4 2.9l1.4 1.4l1.4 0.8l1.4-0.5l1.4 3.9l1.4-1.4l1.4 1.5l1.4-0.2l1.4-2.3l1.4 1.6l1.4 3.2l1.4-2.2l1.4-2.7l1.4 0.6l1.4 0.7l1.4 0.8l1.4 0.4l1.4-1.7l1.4-1.3l1.4 1.1l1.3 1l1.4-3l1.4 0.2l1.4 0.8l1.4-3.1l1.4 0.3l1.4 1.3l1.4-0.7l1.4-2.6l1.4 1.5l1.4 1.1l1.4-1l1.4-0.3l1.4-1.1l1.4-1l1.4-3.1l1.4 1.8l1.4 1.6l1.4-3.4l1.4-0.2l1.4 0.8l1.4 1.4l1.4-0.5l1.4 0.9l1.4-0.3l1.4-2.5l1.4 1.3l1.4-0.3l1.4 0.3l1.4-3.7l1.4 2.7l1.4 0.7l1.4 0.9l1.4 2.9l1.4-0.1l1.4 0.2l1.4-0.8l1.4 2.5l1.4 3.2l1.4 2.1l1.4-1.1l1.4 3.6l1.4 3.4l1.4 3.2l1.4 1.2l1.4 1.6l1.4 4.5l1.4 1.8l1.4 1.8l1.4 0.2l1.4 3.3l1.4 3.6l1.4 3l1.4-0.4l1.4 2.6l1.4 3l1.4 0.3l1.4-0.2l1.4 1.3l1.4-2.6l1.4-0.2l1.4 1.9l1.4-1.8l1.4-0.3l1.4 2.5l1.4-1.3l1.4 0.8l1.4 2.1l1.4 0.1l1.4 0l1.4 0.4l1.4-0.2l1.4 2.4l1.4-2.1l1.4-0.2l1.4 1.9l1.4-1.1l1.4 1.1l1.4-1.5l1.3 0.4l1.4 5.2l1.4-0.2l1.4-1.1l1.4 0.4l1.4 1.8l1.4 1.9l1.4-2.6l1.4 1.7l1.4 2l1.4-0.8l1.4 3.5l1.4-1l1.4-1.8l1.4 1.3l1.4 1.1l1.4 0.1l1.4-1.6l1.4 0.8l1.4-0.7l1.4 1.3l1.4 0.2l1.4 0.1l1.4 4.4l1.4 0.1l1.4-1.5l1.4-1.4l1.4-0.4l1.4 1l1.4 1l1.4 0.7" stroke="#737373"/>
</g>
<path d="M45.5 1934.5v4.3M62.7 1934.5v4.3M79.8 1934.5v4.3M97 1934.5v4.3M114.1 1934.5v4.3M131.3 1934.5v4.3M148.5 1934.5v4.3M165.6 1934.5v4.3M182.8 1934.5v4.3M199.9 1934.5v4.3M217.1 1934.5v4.3M234.3 1934.5v4.3M251.4 1934.5v4.3M268.6 1934.5v4.3M285.7 1934.5v4.3M302.9 1934.5v4.3M320.1 1934.5v4.3M337.2 1934.5v4.3M354.4 1934.5v4.3M371.5 1934.5v4.3M388.7 1934.5v4.3M405.9 1934.5v4.3M423 1934.5v4.3M440.2 1934.5v4.3M457.3 1934.5v4.3M474.5 1934.5v4.3M491.7 1934.5v4.3M508.8 1934.5v4.3M526 1934.5v4.3M543.1 1934.5v4.3M560.3 1934.5v4.3M577.5 1934.5v4.3M594.6 1934.5v4.3M611.8 1934.5v4.3M628.9 1934.5v4.3M646.1 1934.5v4.3M663.3 1934.5v4.3M680.4 1934.5v4.3M697.6 1934.5v4.3M714.7 1934.5v4.3" stroke="#000" stroke-width="1.5" fill="none"/>
<path d="M45.5 1934.5v8.2M217.1 1934.5v8.2M388.7 1934.5v8.2M560.3 1934.5v8.2" stroke="#000" stroke-width="1.7" fill="none"/>
<text x="46.7" y="1978.2" font-size="32.5" text-anchor="middle">100</text>
<text x="218.3" y="1978.2" font-size="32.5" text-anchor="middle">300</text>
<text x="389.9" y="1978.2" font-size="32.5" text-anchor="middle">500</text>
<text x="561.5" y="1978.2" font-size="32.5" text-anchor="middle">700</text>
<text x="380.4" y="2030.5" font-size="33.5" text-anchor="middle">Raman shift (cm<tspan font-size="24.5" dy="-12.8">–1</tspan><tspan dy="12.8">)</tspan></text>
<text transform="translate(24.6 1486) rotate(-90)" font-size="33.5" text-anchor="middle">Intensity (a.u.)</text>
<text x="-1" y="1042" font-size="40" font-weight="bold">d</text>
<text x="381.2" y="1073.8" font-size="29.3" text-anchor="middle" fill="#fb0d14">10% O<tspan font-size="20.8" dy="7.6">2</tspan><tspan dy="-7.6"> + 90% CO</tspan><tspan font-size="20.8" dy="7.6">2</tspan></text>
<text x="380" y="1117.8" font-size="29.3" text-anchor="middle">0.1 M KHCO<tspan font-size="20.8" dy="7.6">3</tspan><tspan dy="-7.6"> in H</tspan><tspan font-size="20.8" dy="7.6">2</tspan><tspan dy="-7.6">O</tspan></text>
<path d="M186.4 1162H197.6M192 1162V1188.2M186.4 1188.2H197.6" stroke="#000" stroke-width="4" stroke-linejoin="round" fill="none"/>
<text x="206.4" y="1185.6" font-size="29.3">500 a.u.</text>
<text x="655.6" y="1272.6" font-size="29.3" text-anchor="middle" fill="#737373">–0.8 V</text>
<text x="655.6" y="1354" font-size="29.3" text-anchor="middle" fill="#737373">–0.6 V</text>
<text x="655.6" y="1484.2" font-size="29.3" text-anchor="middle" fill="#737373">–0.4 V</text>
<text x="655.6" y="1583.8" font-size="29.3" text-anchor="middle" fill="#737373">–0.2 V</text>
<text x="655.6" y="1675.6" font-size="29.3" text-anchor="middle" fill="#737373">0 V</text>
<text x="655.6" y="1760.2" font-size="29.3" text-anchor="middle" fill="#737373">0.2 V</text>
<text x="655.6" y="1810.5" font-size="29.3" text-anchor="middle" fill="#737373">0.4 V</text>
<text x="655.6" y="1889.2" font-size="29.3" text-anchor="middle" fill="#737373">ocp</text>
<path d="M84.2 1571V1767.4" stroke="#000" stroke-width="3.2" stroke-dasharray="8 4.7" fill="none"/>
<text x="87.8" y="1797.4" font-size="29.3" text-anchor="middle">146</text>
<path d="M147.3 1682.4V1847.3" stroke="#000" stroke-width="3.2" stroke-dasharray="8 4.7" fill="none"/>
<text x="147.7" y="1878.4" font-size="29.3" text-anchor="middle">219</text>
<path d="M268.2 1404V1689.6" stroke="#000" stroke-width="3.2" stroke-dasharray="8 4.7" fill="none"/>
<text x="262.6" y="1717.5" font-size="29.3" text-anchor="middle">360</text>
<path d="M313 1715.5V1861.2" stroke="#000" stroke-width="3.2" stroke-dasharray="8 4.7" fill="none"/>
<text x="313.7" y="1890.4" font-size="29.3" text-anchor="middle">412</text>
<path d="M412.3 1678.4V1853.2" stroke="#000" stroke-width="3.2" stroke-dasharray="8 4.7" fill="none"/>
<text x="412.7" y="1878.4" font-size="29.3" text-anchor="middle">528</text>
<path d="M490.6 1682.4V1855.2" stroke="#000" stroke-width="3.2" stroke-dasharray="8 4.7" fill="none"/>
<text x="491" y="1884" font-size="29.3" text-anchor="middle">619</text>
<path d="M565.2 1221.5V1701.6" stroke="#000" stroke-width="3.2" stroke-dasharray="8 4.7" fill="none"/>
<text x="566" y="1204.8" font-size="29.3" text-anchor="middle">706</text>
<text x="758.4" y="1042" font-size="40" font-weight="bold">e</text>
<clipPath id="ce"><rect x="797" y="1061.6" width="1172.6" height="825.4"/></clipPath>
<rect x="797" y="1061.6" width="1172.6" height="825.4" fill="#b9cfe8"/>
<g clip-path="url(#ce)" stroke="#000" stroke-width="2.9" stroke-linecap="round" fill="none">
<circle cx="893.1" cy="1144.5" r="27.1" fill="#b90e0e"/>
<path d="M898.4 1162.2L928.3 1207.4" stroke="#000" stroke-width="9.4"/>
<path d="M898.4 1162.2L928.3 1207.4" stroke="#f6f6f6" stroke-width="4.2"/>
<path d="M907.4 1156.2L937.3 1201.4" stroke="#000" stroke-width="9.4"/>
<path d="M907.4 1156.2L937.3 1201.4" stroke="#f6f6f6" stroke-width="4.2"/>
<circle cx="932.8" cy="1204.4" r="27.1" fill="#b90e0e"/>
<circle cx="891.1" cy="1371.4" r="28.1" fill="#b90e0e"/>
<path d="M881.7 1382.2L872.5 1409" stroke="#000" stroke-width="9.4"/>
<path d="M881.7 1382.2L872.5 1409" stroke="#f6f6f6" stroke-width="4.2"/>
<path d="M891.9 1385.7L882.7 1412.6" stroke="#000" stroke-width="9.4"/>
<path d="M891.9 1385.7L882.7 1412.6" stroke="#f6f6f6" stroke-width="4.2"/>
<circle cx="877.6" cy="1410.8" r="28.1" fill="#b90e0e"/>
<circle cx="1139.8" cy="1258.8" r="27.6" fill="#b90e0e"/>
<path d="M1161.4 1257.8L1195.2 1247.2" stroke="#000" stroke-width="9.4"/>
<path d="M1161.4 1257.8L1195.2 1247.2" stroke="#f6f6f6" stroke-width="4.2"/>
<path d="M1158.1 1247.3L1192 1236.8" stroke="#000" stroke-width="9.4"/>
<path d="M1158.1 1247.3L1192 1236.8" stroke="#f6f6f6" stroke-width="4.2"/>
<circle cx="1193.6" cy="1242" r="27.2" fill="#797373"/>
<path d="M1218.4 1239.4L1252.6 1227.7" stroke="#000" stroke-width="9.4"/>
<path d="M1218.4 1239.4L1252.6 1227.7" stroke="#f6f6f6" stroke-width="4.2"/>
<path d="M1214.8 1228.9L1249 1217.3" stroke="#000" stroke-width="9.4"/>
<path d="M1214.8 1228.9L1249 1217.3" stroke="#f6f6f6" stroke-width="4.2"/>
<circle cx="1250.8" cy="1222.5" r="27.6" fill="#b90e0e"/>
<circle cx="1243" cy="1415.8" r="27.6" fill="#b90e0e"/>
<path d="M1223.3 1429.3L1201.3 1453.4" stroke="#000" stroke-width="9.4"/>
<path d="M1223.3 1429.3L1201.3 1453.4" stroke="#f6f6f6" stroke-width="4.2"/>
<path d="M1231.4 1436.7L1209.5 1460.8" stroke="#000" stroke-width="9.4"/>
<path d="M1231.4 1436.7L1209.5 1460.8" stroke="#f6f6f6" stroke-width="4.2"/>
<circle cx="1205.4" cy="1457.1" r="27.2" fill="#797373"/>
<path d="M1185.3 1473.2L1163.1 1500.7" stroke="#000" stroke-width="9.4"/>
<path d="M1185.3 1473.2L1163.1 1500.7" stroke="#f6f6f6" stroke-width="4.2"/>
<path d="M1193.9 1480.1L1171.7 1507.7" stroke="#000" stroke-width="9.4"/>
<path d="M1193.9 1480.1L1171.7 1507.7" stroke="#f6f6f6" stroke-width="4.2"/>
<circle cx="1167.4" cy="1504.2" r="27.6" fill="#b90e0e"/>
<circle cx="1854.3" cy="1150.7" r="27.6" fill="#b90e0e"/>
<path d="M1838 1164.8L1806.8 1209.7" stroke="#000" stroke-width="9.4"/>
<path d="M1838 1164.8L1806.8 1209.7" stroke="#f6f6f6" stroke-width="4.2"/>
<path d="M1846.8 1170.9L1815.6 1215.9" stroke="#000" stroke-width="9.4"/>
<path d="M1846.8 1170.9L1815.6 1215.9" stroke="#f6f6f6" stroke-width="4.2"/>
<circle cx="1811.2" cy="1212.8" r="27.6" fill="#b90e0e"/>
<circle cx="1861.3" cy="1361.9" r="24.6" fill="#b90e0e"/>
<path d="M1868.5 1379.4L1887.3 1403.3" stroke="#000" stroke-width="9.4"/>
<path d="M1868.5 1379.4L1887.3 1403.3" stroke="#f6f6f6" stroke-width="4.2"/>
<path d="M1876.5 1373.1L1895.3 1397.1" stroke="#000" stroke-width="9.4"/>
<path d="M1876.5 1373.1L1895.3 1397.1" stroke="#f6f6f6" stroke-width="4.2"/>
<circle cx="1891.3" cy="1400.2" r="24.6" fill="#b90e0e"/>
<circle cx="1576.1" cy="1098.4" r="16.6" fill="#f6f6f6"/>
<circle cx="1457.4" cy="1171.1" r="16.6" fill="#f6f6f6"/>
<circle cx="1522.4" cy="1302.8" r="16.6" fill="#f6f6f6"/>
<circle cx="1694.2" cy="1159.4" r="16.6" fill="#f6f6f6"/>
<path d="M1574.2 1111.2L1565.8 1166.8" stroke="#000" stroke-width="9.4"/>
<path d="M1574.2 1111.2L1565.8 1166.8" stroke="#f6f6f6" stroke-width="4.2"/>
<path d="M1463.9 1181L1495.7 1229.1" stroke="#000" stroke-width="9.4"/>
<path d="M1463.9 1181L1495.7 1229.1" stroke="#f6f6f6" stroke-width="4.2"/>
<path d="M1519.3 1294.3L1495.7 1229.1" stroke="#000" stroke-width="9.4"/>
<path d="M1519.3 1294.3L1495.7 1229.1" stroke="#f6f6f6" stroke-width="4.2"/>
<path d="M1683.2 1168.7L1648.5 1197.8" stroke="#000" stroke-width="9.4"/>
<path d="M1683.2 1168.7L1648.5 1197.8" stroke="#f6f6f6" stroke-width="4.2"/>
<circle cx="1495.7" cy="1229.1" r="27.2" fill="#797373"/>
<path d="M1511.3 1215.2L1565.8 1166.8" stroke="#000" stroke-width="9.4"/>
<path d="M1511.3 1215.2L1565.8 1166.8" stroke="#f6f6f6" stroke-width="4.2"/>
<path d="M1474.7 1226.7L1425.7 1221.1" stroke="#000" stroke-width="9.4"/>
<path d="M1474.7 1226.7L1425.7 1221.1" stroke="#f6f6f6" stroke-width="4.2"/>
<circle cx="1425.7" cy="1221.1" r="16.6" fill="#f6f6f6"/>
<circle cx="1565.8" cy="1166.8" r="27.2" fill="#797373"/>
<path d="M1589.9 1175.8L1648.5 1197.8" stroke="#000" stroke-width="9.4"/>
<path d="M1589.9 1175.8L1648.5 1197.8" stroke="#f6f6f6" stroke-width="4.2"/>
<path d="M1550.3 1149.9L1518.4 1115.1" stroke="#000" stroke-width="9.4"/>
<path d="M1550.3 1149.9L1518.4 1115.1" stroke="#f6f6f6" stroke-width="4.2"/>
<circle cx="1518.4" cy="1115.1" r="16.6" fill="#f6f6f6"/>
<circle cx="1648.5" cy="1197.8" r="27.2" fill="#b90e0e"/>
<circle cx="1692.5" cy="1340.8" r="16.6" fill="#f6f6f6"/>
<circle cx="1578.5" cy="1476.2" r="16.6" fill="#f6f6f6"/>
<path d="M1681.7 1339.8L1619.1 1334.2" stroke="#000" stroke-width="9.4"/>
<path d="M1681.7 1339.8L1619.1 1334.2" stroke="#f6f6f6" stroke-width="4.2"/>
<path d="M1576.4 1465.2L1564.1 1402.5" stroke="#000" stroke-width="9.4"/>
<path d="M1576.4 1465.2L1564.1 1402.5" stroke="#f6f6f6" stroke-width="4.2"/>
<circle cx="1619.1" cy="1334.2" r="27.2" fill="#797373"/>
<path d="M1600.6 1348.7L1560 1399.2" stroke="#000" stroke-width="9.4"/>
<path d="M1600.6 1348.7L1560 1399.2" stroke="#f6f6f6" stroke-width="4.2"/>
<path d="M1608.9 1355.3L1568.2 1405.8" stroke="#000" stroke-width="9.4"/>
<path d="M1608.9 1355.3L1568.2 1405.8" stroke="#f6f6f6" stroke-width="4.2"/>
<path d="M1612.7 1312.2L1596.8 1257.8" stroke="#000" stroke-width="9.4"/>
<path d="M1612.7 1312.2L1596.8 1257.8" stroke="#f6f6f6" stroke-width="4.2"/>
<circle cx="1596.8" cy="1257.8" r="16.6" fill="#f6f6f6"/>
<circle cx="1564.1" cy="1402.5" r="27.2" fill="#797373"/>
<path d="M1539.9 1400.2L1479.1 1394.5" stroke="#000" stroke-width="9.4"/>
<path d="M1539.9 1400.2L1479.1 1394.5" stroke="#f6f6f6" stroke-width="4.2"/>
<circle cx="1479.1" cy="1394.5" r="16.6" fill="#f6f6f6"/>
<circle cx="1394.4" cy="1402.5" r="16.6" fill="#f6f6f6"/>
<circle cx="1513.4" cy="1460.2" r="16.6" fill="#f6f6f6"/>
<circle cx="1452.7" cy="1541.7" r="16.6" fill="#f6f6f6"/>
<path d="M1401.9 1415.8L1433.4 1471.9" stroke="#000" stroke-width="9.4"/>
<path d="M1401.9 1415.8L1433.4 1471.9" stroke="#f6f6f6" stroke-width="4.2"/>
<path d="M1499.7 1462.2L1433.4 1471.9" stroke="#000" stroke-width="9.4"/>
<path d="M1499.7 1462.2L1433.4 1471.9" stroke="#f6f6f6" stroke-width="4.2"/>
<path d="M1449 1528.2L1433.4 1471.9" stroke="#000" stroke-width="9.4"/>
<path d="M1449 1528.2L1433.4 1471.9" stroke="#f6f6f6" stroke-width="4.2"/>
<circle cx="1433.4" cy="1471.9" r="27.2" fill="#797373"/>
<path d="M1419.6 1492.3L1392.4 1532.4" stroke="#000" stroke-width="9.4"/>
<path d="M1419.6 1492.3L1392.4 1532.4" stroke="#f6f6f6" stroke-width="4.2"/>
<circle cx="1392.4" cy="1532.4" r="16.6" fill="#f6f6f6"/>
<polygon points="963.6,1471.9 997.7,1602.8 989.4,1601.9 1015,1638.6 1019.4,1594 1012.6,1598.9 978.4,1468.1" fill="#797373" stroke-linejoin="miter"/>
<polygon points="1793,1458.2 1724.6,1576.5 1718.9,1569.8 1711.2,1615 1746.6,1585.8 1737.8,1584.2 1806.2,1465.8" fill="#797373" stroke-linejoin="miter"/>
<circle cx="1805.2" cy="1721.8" r="26.1" fill="#b90e0e"/>
<circle cx="1802.9" cy="1661.8" r="17.1" fill="#f6f6f6"/>
<path d="M1803.4 1675.1L1804.2 1696.8" stroke="#000" stroke-width="9"/>
<path d="M1803.4 1675.1L1804.2 1696.8" stroke="#f6f6f6" stroke-width="3.8"/>
<g fill="#f58e7e">
<circle cx="2008.8" cy="1770" r="68.5"/>
<circle cx="1875.2" cy="1770" r="68.5"/>
<circle cx="1741.6" cy="1770" r="68.5"/>
<circle cx="1608" cy="1770" r="68.5"/>
<circle cx="1474.4" cy="1770" r="68.5"/>
<circle cx="1340.8" cy="1770" r="68.5"/>
<circle cx="1207.2" cy="1770" r="68.5"/>
<circle cx="1073.6" cy="1770" r="68.5"/>
<circle cx="940" cy="1770" r="68.5"/>
<circle cx="806.4" cy="1770" r="68.5"/>
<circle cx="672.8" cy="1770" r="68.5"/>
</g>
<path d="M1248.4 1571.4V1696.5A80 80 0 0 0 1328.4 1776.5H1387.7A80 80 0 0 0 1467.7 1696.5V1618" stroke="#000" stroke-width="20.6" stroke-linecap="butt"/>
<polygon points="1459.4,1640 1459.4,1621.5 1449.2,1621.5 1467.7,1571.5 1486.2,1621.5 1476,1621.5 1476,1640" fill="#797373" stroke-linejoin="miter"/>
<path d="M1248.4 1573.8V1696.5A80 80 0 0 0 1328.4 1776.5H1387.7A80 80 0 0 0 1467.7 1696.5V1618" stroke="#797373" stroke-width="15.8" stroke-linecap="butt"/>
<circle cx="1163.4" cy="1774" r="27.1" fill="#b90e0e"/>
<circle cx="1165" cy="1713" r="17.1" fill="#f6f6f6"/>
<path d="M1164.7 1726.3L1164.1 1748" stroke="#000" stroke-width="9"/>
<path d="M1164.7 1726.3L1164.1 1748" stroke="#f6f6f6" stroke-width="3.8"/>
<circle cx="1567.4" cy="1780.2" r="27.1" fill="#b90e0e"/>
<circle cx="1565.8" cy="1719.5" r="17.1" fill="#f6f6f6"/>
<path d="M1566.2 1732.8L1566.7 1754.2" stroke="#000" stroke-width="9"/>
<path d="M1566.2 1732.8L1566.7 1754.2" stroke="#f6f6f6" stroke-width="3.8"/>
<g fill="#f58e7e">
<circle cx="2032" cy="1835.7" r="68.5"/>
<circle cx="1898.4" cy="1835.7" r="68.5"/>
<circle cx="1764.8" cy="1835.7" r="68.5"/>
<circle cx="1631.2" cy="1835.7" r="68.5"/>
<circle cx="1497.6" cy="1835.7" r="68.5"/>
<circle cx="1364" cy="1835.7" r="68.5"/>
<circle cx="1230.4" cy="1835.7" r="68.5"/>
<circle cx="1096.8" cy="1835.7" r="68.5"/>
<circle cx="963.2" cy="1835.7" r="68.5"/>
<circle cx="829.6" cy="1835.7" r="68.5"/>
<circle cx="696" cy="1835.7" r="68.5"/>
</g>
<circle cx="920.7" cy="1848" r="29.6" fill="#b90e0e"/>
<circle cx="918.7" cy="1779.2" r="17.6" fill="#f6f6f6"/>
<path d="M919.1 1792.9L919.9 1819.5" stroke="#000" stroke-width="9"/>
<path d="M919.1 1792.9L919.9 1819.5" stroke="#f6f6f6" stroke-width="3.8"/>
<g fill="#f58e7e">
<circle cx="2054.8" cy="1901.3" r="68.5"/>
<circle cx="1921.2" cy="1901.3" r="68.5"/>
<circle cx="1787.6" cy="1901.3" r="68.5"/>
<circle cx="1654" cy="1901.3" r="68.5"/>
<circle cx="1520.4" cy="1901.3" r="68.5"/>
<circle cx="1386.8" cy="1901.3" r="68.5"/>
<circle cx="1253.2" cy="1901.3" r="68.5"/>
<circle cx="1119.6" cy="1901.3" r="68.5"/>
<circle cx="986" cy="1901.3" r="68.5"/>
<circle cx="852.4" cy="1901.3" r="68.5"/>
<circle cx="718.8" cy="1901.3" r="68.5"/>
</g>
</g>
</svg>
</body>
</html>
